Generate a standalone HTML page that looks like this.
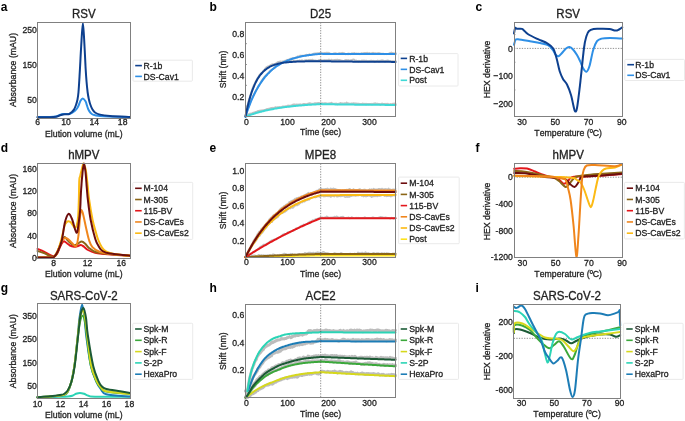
<!DOCTYPE html><html><head><meta charset="utf-8"><style>html,body{margin:0;padding:0;background:#fff;overflow:hidden}svg{display:block;will-change:transform}text{font-kerning:none;font-feature-settings:"kern" 0}</style></head><body><svg width="685" height="421" viewBox="0 0 685 421" font-family="Liberation Sans, sans-serif">
<defs><filter id="bl" x="0" y="0" width="685" height="421" filterUnits="userSpaceOnUse"><feGaussianBlur stdDeviation="0.3"/></filter></defs>
<rect width="685" height="421" fill="#fff"/>
<g filter="url(#bl)">
<g>
<path d="M37.50,117.10 C39.58,117.08 46.92,117.10 50.00,117.00 C53.08,116.90 54.42,116.82 56.00,116.50 C57.58,116.18 58.28,115.52 59.50,115.10 C60.72,114.68 62.13,114.18 63.30,114.00 C64.47,113.82 65.52,114.00 66.50,114.00 C67.48,114.00 68.28,114.20 69.20,114.00 C70.12,113.80 71.03,113.33 72.00,112.80 C72.97,112.27 74.17,111.52 75.00,110.80 C75.83,110.08 76.40,109.38 77.00,108.50 C77.60,107.62 78.02,106.78 78.60,105.50 C79.18,104.22 79.80,101.98 80.50,100.80 C81.20,99.62 81.97,98.33 82.80,98.40 C83.63,98.47 84.83,100.10 85.50,101.20 C86.17,102.30 86.30,103.57 86.80,105.00 C87.30,106.43 87.88,108.50 88.50,109.80 C89.12,111.10 89.75,112.00 90.50,112.80 C91.25,113.60 91.42,114.07 93.00,114.60 C94.58,115.13 93.83,115.58 100.00,116.00 C106.17,116.42 125.00,116.92 130.00,117.10" fill="none" stroke="#2d8fe6" stroke-width="2.0" stroke-linejoin="round" stroke-linecap="round" opacity="1"/>
<path d="M37.50,117.30 C39.58,117.28 46.92,117.28 50.00,117.20 C53.08,117.12 54.42,117.08 56.00,116.80 C57.58,116.52 58.28,115.90 59.50,115.50 C60.72,115.10 62.13,114.60 63.30,114.40 C64.47,114.20 65.52,114.37 66.50,114.30 C67.48,114.23 68.37,114.33 69.20,114.00 C70.03,113.67 70.73,112.98 71.50,112.30 C72.27,111.62 73.08,111.03 73.80,109.90 C74.52,108.77 75.18,107.23 75.80,105.50 C76.42,103.77 77.05,101.75 77.50,99.50 C77.95,97.25 78.20,95.25 78.50,92.00 C78.80,88.75 79.05,84.00 79.30,80.00 C79.55,76.00 79.68,73.67 80.00,68.00 C80.32,62.33 80.72,53.50 81.20,46.00 C81.68,38.50 82.35,23.00 82.90,23.00 C83.45,23.00 84.05,38.50 84.50,46.00 C84.95,53.50 85.27,62.17 85.60,68.00 C85.93,73.83 86.17,77.00 86.50,81.00 C86.83,85.00 87.22,89.00 87.60,92.00 C87.98,95.00 88.35,96.92 88.80,99.00 C89.25,101.08 89.68,102.75 90.30,104.50 C90.92,106.25 91.72,108.17 92.50,109.50 C93.28,110.83 93.75,111.65 95.00,112.50 C96.25,113.35 97.50,114.03 100.00,114.60 C102.50,115.17 105.00,115.52 110.00,115.90 C115.00,116.28 126.67,116.73 130.00,116.90" fill="none" stroke="#0f408f" stroke-width="2.0" stroke-linejoin="round" stroke-linecap="round" opacity="1"/>
<rect x="37.50" y="22.50" width="93.00" height="96.00" fill="none" stroke="#808080" stroke-width="1"/>
<line x1="37.50" y1="100.30" x2="37.50" y2="100.30" stroke="#808080" stroke-width="0.8"/>
<line x1="37.50" y1="65.30" x2="37.50" y2="65.30" stroke="#808080" stroke-width="0.8"/>
<line x1="37.50" y1="30.30" x2="37.50" y2="30.30" stroke="#808080" stroke-width="0.8"/>
<text transform="translate(36.80,103.40) scale(0.92,1)" font-size="9.4" text-anchor="end" font-weight="normal" fill="#222" stroke="#222" stroke-width="0.3" >50</text>
<text transform="translate(36.80,68.40) scale(0.92,1)" font-size="9.4" text-anchor="end" font-weight="normal" fill="#222" stroke="#222" stroke-width="0.3" >150</text>
<text transform="translate(36.80,33.40) scale(0.92,1)" font-size="9.4" text-anchor="end" font-weight="normal" fill="#222" stroke="#222" stroke-width="0.3" >250</text>
<text transform="translate(37.70,125.30) scale(0.92,1)" font-size="9.4" text-anchor="middle" font-weight="normal" fill="#222" stroke="#222" stroke-width="0.3" >6</text>
<text transform="translate(66.02,125.30) scale(0.92,1)" font-size="9.4" text-anchor="middle" font-weight="normal" fill="#222" stroke="#222" stroke-width="0.3" >10</text>
<text transform="translate(94.34,125.30) scale(0.92,1)" font-size="9.4" text-anchor="middle" font-weight="normal" fill="#222" stroke="#222" stroke-width="0.3" >14</text>
<text transform="translate(122.66,125.30) scale(0.92,1)" font-size="9.4" text-anchor="middle" font-weight="normal" fill="#222" stroke="#222" stroke-width="0.3" >18</text>
<text transform="translate(83.80,136.80) scale(0.92,1)" font-size="9.5" text-anchor="middle" font-weight="normal" fill="#222" stroke="#222" stroke-width="0.3" >Elution volume (mL)</text>
<text font-size="9.5" text-anchor="middle" fill="#222" stroke="#222" stroke-width="0.3" transform="translate(16.40,70.00) rotate(-90) scale(0.92,1)">Absorbance (mAU)</text>
<text transform="translate(83.80,17.80) scale(0.96,1)" font-size="12" text-anchor="middle" font-weight="normal" fill="#222" stroke="#222" stroke-width="0.3" >RSV</text>
<text transform="translate(0.80,10.90) scale(1.0,1)" font-size="12" text-anchor="start" font-weight="bold" fill="#000" >a</text>
<rect x="133.00" y="60.20" width="59.40" height="21.00" rx="0.8" fill="#fff" stroke="#e4e4e4" stroke-width="0.8"/>
<line x1="135.20" y1="65.60" x2="141.90" y2="65.60" stroke="#0f408f" stroke-width="1.6"/>
<text transform="translate(143.60,68.75) scale(0.94,1)" font-size="9.25" text-anchor="start" font-weight="normal" fill="#222" stroke="#222" stroke-width="0.3" >R-1b</text>
<line x1="135.20" y1="76.40" x2="141.90" y2="76.40" stroke="#2d8fe6" stroke-width="1.6"/>
<text transform="translate(143.60,79.55) scale(0.94,1)" font-size="9.25" text-anchor="start" font-weight="normal" fill="#222" stroke="#222" stroke-width="0.3" >DS-Cav1</text>
</g>
<path d="M245.50,115.39 L246.00,112.93 L246.50,110.69 L247.00,108.16 L247.50,105.66 L248.00,103.18 L248.50,101.67 L249.00,99.29 L249.50,98.09 L250.00,96.19 L250.50,94.72 L251.00,93.50 L251.50,91.60 L252.00,90.41 L252.50,88.72 L253.00,87.45 L253.50,86.09 L254.00,84.70 L254.50,83.87 L255.00,82.77 L255.50,81.60 L256.00,81.07 L256.50,79.88 L257.00,79.19 L257.50,78.18 L258.00,77.57 L258.51,77.01 L259.01,75.83 L259.51,74.92 L260.01,74.43 L260.51,73.90 L261.01,73.53 L261.51,72.86 L262.01,72.73 L262.51,71.93 L263.01,71.08 L263.51,70.85 L264.01,70.19 L264.51,69.82 L265.01,68.94 L265.51,68.16 L266.01,67.91 L266.51,67.13 L267.01,67.19 L267.51,66.48 L268.01,66.58 L268.51,66.60 L269.01,65.96 L269.51,65.92 L270.01,65.63 L270.51,65.21 L271.01,64.97 L271.51,64.75 L272.01,64.33 L272.51,64.21 L273.01,64.47 L273.51,64.27 L274.01,63.91 L274.51,64.38 L275.01,64.41 L275.51,63.86 L276.01,63.51 L276.51,62.76 L277.01,62.54 L277.51,62.33 L278.01,62.01 L278.51,61.88 L279.01,61.90 L279.51,61.66 L280.01,61.64 L280.51,61.47 L281.01,62.22 L281.51,61.88 L282.01,61.37 L282.51,61.37 L283.01,61.55 L283.52,61.62 L284.02,61.22 L284.52,61.18 L285.02,61.71 L285.52,61.77 L286.02,61.35 L286.52,61.31 L287.02,61.34 L287.52,60.91 L288.02,61.54 L288.52,61.63 L289.02,61.72 L289.52,61.30 L290.02,60.87 L290.52,60.65 L291.02,60.74 L291.52,60.95 L292.02,61.51 L292.52,61.38 L293.02,60.99 L293.52,60.70 L294.02,61.14 L294.52,61.09 L295.02,61.29 L295.52,60.85 L296.02,61.16 L296.52,61.09 L297.02,60.95 L297.52,60.81 L298.02,60.89 L298.52,61.05 L299.02,60.72 L299.52,60.40 L300.02,61.01 L300.52,60.73 L301.02,60.94 L301.52,60.71 L302.02,60.14 L302.52,60.81 L303.02,60.93 L303.52,60.81 L304.02,60.63 L304.52,60.44 L305.02,60.41 L305.52,60.17 L306.02,60.24 L306.52,59.97 L307.02,60.35 L307.52,60.36 L308.02,60.20 L308.53,59.98 L309.03,60.06 L309.53,60.10 L310.03,59.79 L310.53,60.10 L311.03,60.02 L311.53,60.27 L312.03,59.94 L312.53,59.70 L313.03,60.11 L313.53,60.34 L314.03,60.47 L314.53,60.54 L315.03,60.61 L315.53,60.46 L316.03,60.64 L316.53,60.72 L317.03,60.64 L317.53,60.96 L318.03,60.66 L318.53,60.47 L319.03,60.04 L319.53,60.02 L320.03,60.41 L320.53,60.10 L321.03,59.97 L321.53,60.72 L322.03,60.51 L322.53,60.21 L323.03,60.76 L323.53,60.28 L324.03,60.26 L324.53,60.06 L325.03,60.09 L325.53,60.37 L326.03,60.00 L326.53,60.25 L327.03,60.27 L327.53,60.54 L328.03,59.93 L328.53,59.99 L329.03,59.61 L329.53,60.13 L330.03,60.10 L330.53,60.28 L331.03,60.30 L331.53,59.74 L332.03,60.18 L332.53,60.24 L333.03,60.36 L333.54,60.19 L334.04,60.01 L334.54,59.84 L335.04,60.33 L335.54,59.83 L336.04,60.02 L336.54,59.80 L337.04,59.65 L337.54,59.74 L338.04,60.05 L338.54,60.08 L339.04,59.96 L339.54,59.87 L340.04,60.42 L340.54,60.22 L341.04,60.38 L341.54,60.78 L342.04,60.96 L342.54,60.69 L343.04,61.07 L343.54,60.85 L344.04,60.88 L344.54,60.63 L345.04,60.21 L345.54,60.32 L346.04,59.94 L346.54,60.15 L347.04,60.45 L347.54,60.14 L348.04,60.21 L348.54,60.07 L349.04,60.32 L349.54,60.54 L350.04,60.64 L350.54,60.25 L351.04,60.02 L351.54,60.20 L352.04,60.11 L352.54,59.78 L353.04,59.75 L353.54,59.43 L354.04,59.63 L354.54,60.05 L355.04,60.43 L355.54,60.78 L356.04,60.45 L356.54,60.72 L357.04,61.11 L357.54,60.87 L358.04,61.03 L358.55,61.26 L359.05,60.80 L359.55,60.98 L360.05,61.18 L360.55,61.24 L361.05,61.21 L361.55,60.61 L362.05,60.54 L362.55,60.58 L363.05,60.59 L363.55,60.77 L364.05,60.42 L364.55,61.06 L365.05,60.93 L365.55,60.76 L366.05,60.99 L366.55,60.66 L367.05,60.80 L367.55,61.36 L368.05,60.98 L368.55,61.10 L369.05,61.21 L369.55,60.96 L370.05,60.76 L370.55,60.94 L371.05,60.80 L371.55,60.61 L372.05,60.99 L372.55,60.89 L373.05,60.97 L373.55,60.74 L374.05,61.04 L374.55,61.70 L375.05,61.01 L375.55,61.47 L376.05,61.00 L376.55,61.14 L377.05,60.75 L377.55,60.53 L378.05,60.69 L378.55,61.12 L379.05,61.44 L379.55,61.29 L380.05,60.78 L380.55,60.69 L381.05,60.60 L381.55,60.43 L382.05,60.67 L382.55,60.38 L383.05,60.40 L383.56,61.08 L384.06,61.11 L384.56,61.03 L385.06,61.44 L385.56,61.17 L386.06,60.77 L386.56,60.93 L387.06,60.89 L387.56,60.42 L388.06,60.47 L388.56,60.87 L389.06,61.12 L389.56,61.27 L390.06,61.35 L390.56,61.15 L391.06,61.44 L391.56,61.62 L392.06,61.04 L392.56,61.30 L393.06,61.30 L393.56,61.31 L394.06,61.32 L394.56,61.36 L395.06,61.35 L395.56,60.92" fill="none" stroke="#c2c2c2" stroke-width="1.9" stroke-linejoin="round" stroke-linecap="round" opacity="1"/>
<path d="M245.50,116.13 L246.00,114.24 L246.50,113.45 L247.00,111.44 L247.50,109.75 L248.00,108.26 L248.50,106.85 L249.00,105.97 L249.50,104.61 L250.00,103.35 L250.50,101.93 L251.00,100.42 L251.50,99.54 L252.00,98.66 L252.50,97.54 L253.00,96.26 L253.50,95.22 L254.00,94.70 L254.50,93.41 L255.00,92.39 L255.50,91.53 L256.00,90.31 L256.50,89.76 L257.00,88.99 L257.50,88.01 L258.00,86.72 L258.51,86.14 L259.01,85.59 L259.51,84.82 L260.01,83.80 L260.51,82.79 L261.01,81.95 L261.51,81.02 L262.01,80.05 L262.51,79.75 L263.01,78.51 L263.51,78.22 L264.01,77.36 L264.51,76.74 L265.01,76.28 L265.51,76.14 L266.01,75.69 L266.51,74.76 L267.01,74.74 L267.51,73.62 L268.01,73.41 L268.51,72.59 L269.01,72.55 L269.51,71.35 L270.01,70.99 L270.51,70.55 L271.01,70.58 L271.51,69.81 L272.01,69.71 L272.51,69.36 L273.01,68.94 L273.51,68.45 L274.01,67.62 L274.51,67.16 L275.01,67.21 L275.51,66.31 L276.01,66.13 L276.51,65.11 L277.01,64.77 L277.51,65.11 L278.01,65.07 L278.51,64.68 L279.01,64.46 L279.51,63.83 L280.01,63.81 L280.51,63.37 L281.01,62.67 L281.51,62.47 L282.01,62.43 L282.51,62.51 L283.01,62.42 L283.52,62.13 L284.02,61.53 L284.52,61.46 L285.02,60.73 L285.52,60.64 L286.02,60.78 L286.52,60.32 L287.02,59.78 L287.52,60.00 L288.02,60.29 L288.52,59.59 L289.02,59.87 L289.52,59.50 L290.02,58.92 L290.52,58.68 L291.02,58.78 L291.52,58.57 L292.02,58.42 L292.52,58.81 L293.02,58.12 L293.52,58.01 L294.02,57.95 L294.52,58.23 L295.02,58.22 L295.52,57.79 L296.02,57.44 L296.52,57.27 L297.02,57.22 L297.52,56.52 L298.02,56.36 L298.52,56.43 L299.02,56.65 L299.52,55.89 L300.02,55.78 L300.52,55.87 L301.02,55.61 L301.52,55.80 L302.02,55.99 L302.52,55.60 L303.02,55.80 L303.52,55.73 L304.02,55.64 L304.52,55.33 L305.02,55.34 L305.52,55.02 L306.02,55.24 L306.52,54.77 L307.02,55.14 L307.52,55.05 L308.02,55.27 L308.53,55.40 L309.03,54.59 L309.53,54.19 L310.03,54.69 L310.53,54.75 L311.03,54.89 L311.53,54.73 L312.03,54.53 L312.53,54.71 L313.03,54.23 L313.53,53.80 L314.03,53.82 L314.53,53.69 L315.03,53.39 L315.53,53.46 L316.03,53.33 L316.53,53.72 L317.03,53.14 L317.53,53.33 L318.03,53.19 L318.53,53.29 L319.03,53.03 L319.53,53.29 L320.03,53.00 L320.53,52.87 L321.03,53.52 L321.53,53.02 L322.03,53.21 L322.53,53.27 L323.03,53.24 L323.53,53.28 L324.03,52.92 L324.53,52.87 L325.03,53.27 L325.53,52.91 L326.03,52.87 L326.53,52.63 L327.03,53.13 L327.53,52.73 L328.03,53.33 L328.53,52.74 L329.03,53.59 L329.53,53.09 L330.03,53.57 L330.53,53.92 L331.03,53.80 L331.53,53.91 L332.03,54.06 L332.53,53.83 L333.03,53.65 L333.54,53.60 L334.04,53.23 L334.54,53.75 L335.04,53.24 L335.54,53.17 L336.04,53.44 L336.54,53.71 L337.04,53.61 L337.54,53.66 L338.04,53.62 L338.54,53.45 L339.04,53.23 L339.54,53.07 L340.04,53.59 L340.54,53.24 L341.04,53.19 L341.54,53.14 L342.04,52.93 L342.54,52.82 L343.04,53.01 L343.54,53.59 L344.04,53.21 L344.54,53.40 L345.04,53.56 L345.54,54.21 L346.04,54.18 L346.54,53.96 L347.04,53.90 L347.54,53.71 L348.04,54.24 L348.54,53.53 L349.04,53.57 L349.54,53.84 L350.04,53.88 L350.54,54.19 L351.04,53.55 L351.54,53.55 L352.04,53.14 L352.54,53.37 L353.04,53.54 L353.54,53.29 L354.04,52.97 L354.54,53.08 L355.04,53.50 L355.54,53.74 L356.04,53.54 L356.54,53.34 L357.04,53.49 L357.54,53.97 L358.04,53.90 L358.55,53.49 L359.05,53.55 L359.55,53.82 L360.05,54.22 L360.55,54.02 L361.05,53.45 L361.55,53.18 L362.05,53.44 L362.55,53.72 L363.05,53.11 L363.55,53.15 L364.05,53.03 L364.55,52.86 L365.05,52.92 L365.55,52.90 L366.05,53.23 L366.55,53.30 L367.05,52.79 L367.55,52.90 L368.05,53.37 L368.55,53.09 L369.05,53.04 L369.55,53.03 L370.05,53.27 L370.55,53.76 L371.05,53.67 L371.55,53.19 L372.05,53.04 L372.55,53.12 L373.05,52.79 L373.55,53.01 L374.05,53.14 L374.55,53.26 L375.05,53.28 L375.55,53.24 L376.05,53.31 L376.55,53.49 L377.05,53.27 L377.55,53.32 L378.05,53.52 L378.55,53.15 L379.05,52.97 L379.55,53.32 L380.05,53.58 L380.55,53.43 L381.05,53.56 L381.55,53.79 L382.05,53.66 L382.55,53.73 L383.05,53.81 L383.56,53.67 L384.06,54.17 L384.56,53.92 L385.06,54.08 L385.56,54.11 L386.06,54.01 L386.56,54.21 L387.06,54.04 L387.56,54.12 L388.06,53.94 L388.56,53.71 L389.06,53.64 L389.56,53.52 L390.06,52.86 L390.56,53.19 L391.06,52.78 L391.56,52.53 L392.06,53.14 L392.56,53.43 L393.06,53.12 L393.56,53.26 L394.06,53.61 L394.56,53.35 L395.06,53.75 L395.56,53.10" fill="none" stroke="#c2c2c2" stroke-width="1.9" stroke-linejoin="round" stroke-linecap="round" opacity="1"/>
<path d="M245.50,115.19 L246.00,115.70 L246.50,115.60 L247.00,115.18 L247.50,114.59 L248.00,114.67 L248.50,114.47 L249.00,113.90 L249.50,113.90 L250.00,113.51 L250.50,113.84 L251.00,113.97 L251.50,113.34 L252.00,113.36 L252.50,113.10 L253.00,112.74 L253.50,112.78 L254.00,112.86 L254.50,112.33 L255.00,112.80 L255.50,112.03 L256.00,112.10 L256.50,111.62 L257.00,111.63 L257.50,111.48 L258.00,110.89 L258.51,111.14 L259.01,110.88 L259.51,110.65 L260.01,110.78 L260.51,110.58 L261.01,110.45 L261.51,110.46 L262.01,110.55 L262.51,110.30 L263.01,110.57 L263.51,110.52 L264.01,109.96 L264.51,110.03 L265.01,110.03 L265.51,109.61 L266.01,109.55 L266.51,109.53 L267.01,109.05 L267.51,109.25 L268.01,108.84 L268.51,108.92 L269.01,108.64 L269.51,109.01 L270.01,108.30 L270.51,108.17 L271.01,108.07 L271.51,107.93 L272.01,108.51 L272.51,108.27 L273.01,107.64 L273.51,108.18 L274.01,108.05 L274.51,107.85 L275.01,107.28 L275.51,107.10 L276.01,107.43 L276.51,107.38 L277.01,107.39 L277.51,107.16 L278.01,107.14 L278.51,107.21 L279.01,107.35 L279.51,106.91 L280.01,107.34 L280.51,107.31 L281.01,107.39 L281.51,107.19 L282.01,107.00 L282.51,106.49 L283.01,106.78 L283.52,106.51 L284.02,106.47 L284.52,106.43 L285.02,106.73 L285.52,106.26 L286.02,106.23 L286.52,106.45 L287.02,105.81 L287.52,105.70 L288.02,105.86 L288.52,105.57 L289.02,105.67 L289.52,105.61 L290.02,105.74 L290.52,105.83 L291.02,105.44 L291.52,105.39 L292.02,105.25 L292.52,104.67 L293.02,104.74 L293.52,104.47 L294.02,104.67 L294.52,104.40 L295.02,104.55 L295.52,104.80 L296.02,104.77 L296.52,104.40 L297.02,104.49 L297.52,104.68 L298.02,104.61 L298.52,104.65 L299.02,104.40 L299.52,104.73 L300.02,104.40 L300.52,104.31 L301.02,104.62 L301.52,104.72 L302.02,104.52 L302.52,104.34 L303.02,104.24 L303.52,103.84 L304.02,103.86 L304.52,103.94 L305.02,103.93 L305.52,104.48 L306.02,104.11 L306.52,104.35 L307.02,104.08 L307.52,103.71 L308.02,103.87 L308.53,103.62 L309.03,103.30 L309.53,103.51 L310.03,103.13 L310.53,103.82 L311.03,103.65 L311.53,103.69 L312.03,103.87 L312.53,104.00 L313.03,103.66 L313.53,103.69 L314.03,103.71 L314.53,103.39 L315.03,103.12 L315.53,103.08 L316.03,103.10 L316.53,103.29 L317.03,103.52 L317.53,103.17 L318.03,103.04 L318.53,103.34 L319.03,103.03 L319.53,103.16 L320.03,103.51 L320.53,103.11 L321.03,103.45 L321.53,103.38 L322.03,103.14 L322.53,103.19 L323.03,103.63 L323.53,103.60 L324.03,103.28 L324.53,103.47 L325.03,103.09 L325.53,103.15 L326.03,103.27 L326.53,103.54 L327.03,103.43 L327.53,103.78 L328.03,103.76 L328.53,103.35 L329.03,103.35 L329.53,103.57 L330.03,103.24 L330.53,103.46 L331.03,103.03 L331.53,102.70 L332.03,103.33 L332.53,103.57 L333.03,103.76 L333.54,103.80 L334.04,103.86 L334.54,103.71 L335.04,103.88 L335.54,103.78 L336.04,103.44 L336.54,104.07 L337.04,103.81 L337.54,104.19 L338.04,103.84 L338.54,103.72 L339.04,103.56 L339.54,103.93 L340.04,103.41 L340.54,102.90 L341.04,103.45 L341.54,103.70 L342.04,103.32 L342.54,103.73 L343.04,103.82 L343.54,103.51 L344.04,103.65 L344.54,103.28 L345.04,103.34 L345.54,103.33 L346.04,103.12 L346.54,102.55 L347.04,102.99 L347.54,103.22 L348.04,103.31 L348.54,103.60 L349.04,103.38 L349.54,103.83 L350.04,103.92 L350.54,103.78 L351.04,103.44 L351.54,103.47 L352.04,103.44 L352.54,103.68 L353.04,103.57 L353.54,103.19 L354.04,103.45 L354.54,103.54 L355.04,103.43 L355.54,103.36 L356.04,103.42 L356.54,103.60 L357.04,103.96 L357.54,103.73 L358.04,103.80 L358.55,103.91 L359.05,103.69 L359.55,104.16 L360.05,103.91 L360.55,104.14 L361.05,103.92 L361.55,104.11 L362.05,103.96 L362.55,103.57 L363.05,103.72 L363.55,104.13 L364.05,103.78 L364.55,104.06 L365.05,103.78 L365.55,104.29 L366.05,104.42 L366.55,103.80 L367.05,104.19 L367.55,103.94 L368.05,103.95 L368.55,104.22 L369.05,103.89 L369.55,104.00 L370.05,104.03 L370.55,103.92 L371.05,103.81 L371.55,104.22 L372.05,104.25 L372.55,104.20 L373.05,103.73 L373.55,103.80 L374.05,103.68 L374.55,103.65 L375.05,103.21 L375.55,103.82 L376.05,103.71 L376.55,103.69 L377.05,103.87 L377.55,103.70 L378.05,103.93 L378.55,103.95 L379.05,103.87 L379.55,104.13 L380.05,104.57 L380.55,104.80 L381.05,104.01 L381.55,103.83 L382.05,103.48 L382.55,104.02 L383.05,104.06 L383.56,103.88 L384.06,104.10 L384.56,104.12 L385.06,103.77 L385.56,104.13 L386.06,103.95 L386.56,103.79 L387.06,104.56 L387.56,103.79 L388.06,103.79 L388.56,104.39 L389.06,104.11 L389.56,104.59 L390.06,104.75 L390.56,103.90 L391.06,104.49 L391.56,104.21 L392.06,104.46 L392.56,103.90 L393.06,103.64 L393.56,103.69 L394.06,103.53 L394.56,103.64 L395.06,103.91 L395.56,104.00" fill="none" stroke="#c2c2c2" stroke-width="1.9" stroke-linejoin="round" stroke-linecap="round" opacity="1"/>
<path d="M245.50,116.60 C245.78,116.49 246.61,116.17 247.17,115.96 C247.72,115.76 248.28,115.56 248.83,115.36 C249.39,115.16 249.95,114.97 250.50,114.78 C251.06,114.59 251.61,114.40 252.17,114.22 C252.73,114.04 253.28,113.86 253.84,113.69 C254.39,113.52 254.95,113.35 255.50,113.19 C256.06,113.02 256.62,112.86 257.17,112.70 C257.73,112.54 258.28,112.39 258.84,112.24 C259.39,112.09 259.95,111.94 260.51,111.80 C261.06,111.65 261.62,111.51 262.17,111.37 C262.73,111.23 263.28,111.10 263.84,110.97 C264.40,110.84 264.95,110.71 265.51,110.58 C266.06,110.46 266.62,110.33 267.18,110.21 C267.73,110.09 268.29,109.97 268.84,109.86 C269.40,109.74 269.95,109.63 270.51,109.52 C271.07,109.41 271.62,109.30 272.18,109.20 C272.73,109.09 273.29,108.99 273.84,108.89 C274.40,108.79 274.96,108.69 275.51,108.60 C276.07,108.50 276.62,108.41 277.18,108.31 C277.74,108.22 278.29,108.13 278.85,108.05 C279.40,107.96 279.96,107.87 280.51,107.79 C281.07,107.70 281.63,107.62 282.18,107.54 C282.74,107.46 283.29,107.38 283.85,107.31 C284.40,107.23 284.96,107.16 285.52,107.08 C286.07,107.01 286.63,106.94 287.18,106.87 C287.74,106.80 288.29,106.73 288.85,106.66 C289.41,106.59 289.96,106.53 290.52,106.47 C291.07,106.40 291.63,106.34 292.19,106.28 C292.74,106.22 293.30,106.16 293.85,106.10 C294.41,106.04 294.96,105.98 295.52,105.93 C296.08,105.87 296.63,105.82 297.19,105.76 C297.74,105.71 298.30,105.66 298.85,105.61 C299.41,105.56 299.97,105.51 300.52,105.46 C301.08,105.41 301.63,105.36 302.19,105.31 C302.75,105.27 303.30,105.22 303.86,105.18 C304.41,105.13 304.97,105.09 305.52,105.05 C306.08,105.00 306.64,104.96 307.19,104.92 C307.75,104.88 308.30,104.84 308.86,104.80 C309.41,104.76 309.97,104.73 310.53,104.69 C311.08,104.65 311.64,104.62 312.19,104.58 C312.75,104.54 313.30,104.51 313.86,104.48 C314.42,104.44 314.97,104.41 315.53,104.38 C316.08,104.34 316.64,104.31 317.20,104.28 C317.75,104.25 318.31,104.22 318.86,104.19 C319.42,104.16 319.97,104.11 320.53,104.10 C321.09,104.09 321.64,104.13 322.20,104.14 C322.75,104.15 323.31,104.16 323.86,104.17 C324.42,104.18 324.98,104.19 325.53,104.20 C326.09,104.22 326.64,104.23 327.20,104.24 C327.76,104.25 328.31,104.26 328.87,104.27 C329.42,104.28 329.98,104.29 330.53,104.30 C331.09,104.31 331.65,104.32 332.20,104.33 C332.76,104.34 333.31,104.34 333.87,104.35 C334.42,104.36 334.98,104.37 335.54,104.38 C336.09,104.39 336.65,104.40 337.20,104.41 C337.76,104.41 338.31,104.42 338.87,104.43 C339.43,104.44 339.98,104.45 340.54,104.46 C341.09,104.46 341.65,104.47 342.21,104.48 C342.76,104.49 343.32,104.49 343.87,104.50 C344.43,104.51 344.98,104.52 345.54,104.52 C346.10,104.53 346.65,104.54 347.21,104.55 C347.76,104.55 348.32,104.56 348.87,104.57 C349.43,104.57 349.99,104.58 350.54,104.59 C351.10,104.59 351.65,104.60 352.21,104.60 C352.77,104.61 353.32,104.62 353.88,104.62 C354.43,104.63 354.99,104.63 355.54,104.64 C356.10,104.65 356.66,104.65 357.21,104.66 C357.77,104.66 358.32,104.67 358.88,104.67 C359.43,104.68 359.99,104.69 360.55,104.69 C361.10,104.70 361.66,104.70 362.21,104.71 C362.77,104.71 363.32,104.72 363.88,104.72 C364.44,104.73 364.99,104.73 365.55,104.74 C366.10,104.74 366.66,104.75 367.22,104.75 C367.77,104.76 368.33,104.76 368.88,104.76 C369.44,104.77 369.99,104.77 370.55,104.78 C371.11,104.78 371.66,104.79 372.22,104.79 C372.77,104.79 373.33,104.80 373.88,104.80 C374.44,104.81 375.00,104.81 375.55,104.81 C376.11,104.82 376.66,104.82 377.22,104.83 C377.78,104.83 378.33,104.83 378.89,104.84 C379.44,104.84 380.00,104.84 380.55,104.85 C381.11,104.85 381.67,104.85 382.22,104.86 C382.78,104.86 383.33,104.86 383.89,104.87 C384.44,104.87 385.00,104.87 385.56,104.88 C386.11,104.88 386.67,104.88 387.22,104.89 C387.78,104.89 388.33,104.89 388.89,104.90 C389.45,104.90 390.00,104.90 390.56,104.90 C391.11,104.91 391.67,104.91 392.23,104.91 C392.78,104.92 393.34,104.92 393.89,104.92 C394.45,104.92 395.28,104.93 395.56,104.93" fill="none" stroke="#3fd9d6" stroke-width="2.0" stroke-linejoin="round" stroke-linecap="round" opacity="1"/>
<path d="M245.50,116.60 C245.71,115.96 246.33,114.02 246.75,112.79 C247.17,111.56 247.58,110.36 248.00,109.20 C248.42,108.04 248.83,106.92 249.25,105.83 C249.67,104.74 250.09,103.68 250.50,102.66 C250.92,101.63 251.34,100.64 251.75,99.67 C252.17,98.71 252.59,97.77 253.00,96.86 C253.42,95.95 253.84,95.08 254.25,94.22 C254.67,93.37 255.09,92.54 255.50,91.73 C255.92,90.93 256.34,90.15 256.75,89.39 C257.17,88.64 257.59,87.91 258.00,87.19 C258.42,86.48 258.84,85.79 259.26,85.12 C259.67,84.45 260.09,83.81 260.51,83.18 C260.92,82.55 261.34,81.94 261.76,81.34 C262.17,80.75 262.59,80.18 263.01,79.62 C263.42,79.06 263.84,78.52 264.26,78.00 C264.67,77.47 265.09,76.96 265.51,76.47 C265.92,75.98 266.34,75.50 266.76,75.03 C267.18,74.57 267.59,74.12 268.01,73.68 C268.43,73.25 268.84,72.82 269.26,72.41 C269.68,72.00 270.09,71.60 270.51,71.22 C270.93,70.83 271.34,70.45 271.76,70.09 C272.18,69.73 272.59,69.37 273.01,69.03 C273.43,68.69 273.84,68.36 274.26,68.04 C274.68,67.71 275.10,67.40 275.51,67.10 C275.93,66.80 276.35,66.50 276.76,66.22 C277.18,65.93 277.60,65.66 278.01,65.39 C278.43,65.12 278.85,64.86 279.26,64.61 C279.68,64.36 280.10,64.11 280.51,63.87 C280.93,63.64 281.35,63.41 281.76,63.18 C282.18,62.96 282.60,62.74 283.01,62.53 C283.43,62.32 283.85,62.12 284.27,61.92 C284.68,61.73 285.10,61.53 285.52,61.35 C285.93,61.16 286.35,60.98 286.77,60.81 C287.18,60.63 287.60,60.46 288.02,60.30 C288.43,60.13 288.85,59.97 289.27,59.82 C289.68,59.66 290.10,59.51 290.52,59.37 C290.93,59.22 291.35,59.08 291.77,58.94 C292.19,58.81 292.60,58.67 293.02,58.55 C293.44,58.42 293.85,58.29 294.27,58.17 C294.69,58.05 295.10,57.93 295.52,57.82 C295.94,57.70 296.35,57.59 296.77,57.49 C297.19,57.38 297.60,57.27 298.02,57.17 C298.44,57.07 298.85,56.97 299.27,56.88 C299.69,56.78 300.11,56.69 300.52,56.60 C300.94,56.51 301.36,56.43 301.77,56.34 C302.19,56.26 302.61,56.18 303.02,56.10 C303.44,56.02 303.86,55.94 304.27,55.87 C304.69,55.79 305.11,55.72 305.52,55.65 C305.94,55.58 306.36,55.51 306.77,55.45 C307.19,55.38 307.61,55.32 308.02,55.25 C308.44,55.19 308.86,55.13 309.28,55.07 C309.69,55.02 310.11,54.96 310.53,54.90 C310.94,54.85 311.36,54.80 311.78,54.74 C312.19,54.69 312.61,54.64 313.03,54.59 C313.44,54.55 313.86,54.50 314.28,54.45 C314.69,54.41 315.11,54.36 315.53,54.32 C315.94,54.28 316.36,54.23 316.78,54.19 C317.20,54.15 317.61,54.11 318.03,54.08 C318.45,54.04 318.86,54.00 319.28,53.97 C319.70,53.93 320.11,53.88 320.53,53.86 C320.95,53.85 321.36,53.87 321.78,53.87 C322.20,53.87 322.61,53.87 323.03,53.88 C323.45,53.88 323.86,53.88 324.28,53.88 C324.70,53.88 325.12,53.89 325.53,53.89 C325.95,53.89 326.37,53.89 326.78,53.89 C327.20,53.90 327.62,53.90 328.03,53.90 C328.45,53.90 328.87,53.91 329.28,53.91 C329.70,53.91 330.12,53.91 330.53,53.91 C330.95,53.91 331.37,53.92 331.78,53.92 C332.20,53.92 332.62,53.92 333.03,53.92 C333.45,53.93 333.87,53.93 334.29,53.93 C334.70,53.93 335.12,53.93 335.54,53.93 C335.95,53.94 336.37,53.94 336.79,53.94 C337.20,53.94 337.62,53.94 338.04,53.95 C338.45,53.95 338.87,53.95 339.29,53.95 C339.70,53.95 340.12,53.95 340.54,53.95 C340.95,53.96 341.37,53.96 341.79,53.96 C342.21,53.96 342.62,53.96 343.04,53.96 C343.46,53.97 343.87,53.97 344.29,53.97 C344.71,53.97 345.12,53.97 345.54,53.97 C345.96,53.97 346.37,53.98 346.79,53.98 C347.21,53.98 347.62,53.98 348.04,53.98 C348.46,53.98 348.87,53.98 349.29,53.99 C349.71,53.99 350.13,53.99 350.54,53.99 C350.96,53.99 351.38,53.99 351.79,53.99 C352.21,53.99 352.63,54.00 353.04,54.00 C353.46,54.00 353.88,54.00 354.29,54.00 C354.71,54.00 355.13,54.00 355.54,54.00 C355.96,54.00 356.38,54.01 356.79,54.01 C357.21,54.01 357.63,54.01 358.04,54.01 C358.46,54.01 358.88,54.01 359.30,54.01 C359.71,54.01 360.13,54.02 360.55,54.02 C360.96,54.02 361.38,54.02 361.80,54.02 C362.21,54.02 362.63,54.02 363.05,54.02 C363.46,54.02 363.88,54.03 364.30,54.03 C364.71,54.03 365.13,54.03 365.55,54.03 C365.96,54.03 366.38,54.03 366.80,54.03 C367.22,54.03 367.63,54.03 368.05,54.03 C368.47,54.04 368.88,54.04 369.30,54.04 C369.72,54.04 370.13,54.04 370.55,54.04 C370.97,54.04 371.38,54.04 371.80,54.04 C372.22,54.04 372.63,54.04 373.05,54.04 C373.47,54.05 373.88,54.05 374.30,54.05 C374.72,54.05 375.14,54.05 375.55,54.05 C375.97,54.05 376.39,54.05 376.80,54.05 C377.22,54.05 377.64,54.05 378.05,54.05 C378.47,54.05 378.89,54.06 379.30,54.06 C379.72,54.06 380.14,54.06 380.55,54.06 C380.97,54.06 381.39,54.06 381.80,54.06 C382.22,54.06 382.64,54.06 383.05,54.06 C383.47,54.06 383.89,54.06 384.31,54.06 C384.72,54.07 385.14,54.07 385.56,54.07 C385.97,54.07 386.39,54.07 386.81,54.07 C387.22,54.07 387.64,54.07 388.06,54.07 C388.47,54.07 388.89,54.07 389.31,54.07 C389.72,54.07 390.14,54.07 390.56,54.07 C390.97,54.07 391.39,54.07 391.81,54.08 C392.23,54.08 392.64,54.08 393.06,54.08 C393.48,54.08 393.89,54.08 394.31,54.08 C394.73,54.08 395.35,54.08 395.56,54.08" fill="none" stroke="#2d8fe6" stroke-width="2.0" stroke-linejoin="round" stroke-linecap="round" opacity="1"/>
<path d="M245.50,116.60 C245.71,115.58 246.33,112.40 246.75,110.46 C247.17,108.53 247.58,106.73 248.00,105.01 C248.42,103.29 248.83,101.68 249.25,100.15 C249.67,98.63 250.09,97.20 250.50,95.84 C250.92,94.48 251.34,93.21 251.75,92.00 C252.17,90.79 252.59,89.66 253.00,88.59 C253.42,87.51 253.84,86.51 254.25,85.55 C254.67,84.60 255.09,83.70 255.50,82.85 C255.92,82.00 256.34,81.21 256.75,80.45 C257.17,79.70 257.59,78.99 258.00,78.32 C258.42,77.65 258.84,77.02 259.26,76.42 C259.67,75.82 260.09,75.26 260.51,74.73 C260.92,74.20 261.34,73.70 261.76,73.23 C262.17,72.76 262.59,72.31 263.01,71.89 C263.42,71.47 263.84,71.08 264.26,70.71 C264.67,70.33 265.09,69.98 265.51,69.65 C265.92,69.32 266.34,69.01 266.76,68.71 C267.18,68.42 267.59,68.14 268.01,67.88 C268.43,67.61 268.84,67.37 269.26,67.13 C269.68,66.90 270.09,66.68 270.51,66.47 C270.93,66.26 271.34,66.07 271.76,65.89 C272.18,65.70 272.59,65.53 273.01,65.36 C273.43,65.20 273.84,65.04 274.26,64.90 C274.68,64.75 275.10,64.62 275.51,64.49 C275.93,64.36 276.35,64.23 276.76,64.12 C277.18,64.00 277.60,63.89 278.01,63.79 C278.43,63.69 278.85,63.59 279.26,63.50 C279.68,63.41 280.10,63.32 280.51,63.24 C280.93,63.16 281.35,63.08 281.76,63.01 C282.18,62.94 282.60,62.87 283.01,62.81 C283.43,62.74 283.85,62.68 284.27,62.63 C284.68,62.57 285.10,62.52 285.52,62.46 C285.93,62.41 286.35,62.37 286.77,62.32 C287.18,62.28 287.60,62.23 288.02,62.19 C288.43,62.15 288.85,62.11 289.27,62.08 C289.68,62.04 290.10,62.01 290.52,61.98 C290.93,61.95 291.35,61.92 291.77,61.89 C292.19,61.86 292.60,61.83 293.02,61.81 C293.44,61.78 293.85,61.76 294.27,61.74 C294.69,61.71 295.10,61.69 295.52,61.67 C295.94,61.65 296.35,61.64 296.77,61.62 C297.19,61.60 297.60,61.58 298.02,61.57 C298.44,61.55 298.85,61.54 299.27,61.52 C299.69,61.51 300.11,61.50 300.52,61.48 C300.94,61.47 301.36,61.46 301.77,61.45 C302.19,61.44 302.61,61.43 303.02,61.42 C303.44,61.41 303.86,61.40 304.27,61.39 C304.69,61.38 305.11,61.37 305.52,61.36 C305.94,61.36 306.36,61.35 306.77,61.34 C307.19,61.34 307.61,61.33 308.02,61.32 C308.44,61.32 308.86,61.31 309.28,61.31 C309.69,61.30 310.11,61.29 310.53,61.29 C310.94,61.29 311.36,61.28 311.78,61.28 C312.19,61.27 312.61,61.27 313.03,61.26 C313.44,61.26 313.86,61.26 314.28,61.25 C314.69,61.25 315.11,61.25 315.53,61.24 C315.94,61.24 316.36,61.24 316.78,61.23 C317.20,61.23 317.61,61.23 318.03,61.23 C318.45,61.22 318.86,61.22 319.28,61.22 C319.70,61.22 320.11,61.21 320.53,61.21 C320.95,61.22 321.36,61.23 321.78,61.24 C322.20,61.24 322.61,61.25 323.03,61.26 C323.45,61.26 323.86,61.27 324.28,61.28 C324.70,61.28 325.12,61.29 325.53,61.30 C325.95,61.31 326.37,61.31 326.78,61.32 C327.20,61.32 327.62,61.33 328.03,61.34 C328.45,61.34 328.87,61.35 329.28,61.36 C329.70,61.36 330.12,61.37 330.53,61.37 C330.95,61.38 331.37,61.39 331.78,61.39 C332.20,61.40 332.62,61.40 333.03,61.41 C333.45,61.42 333.87,61.42 334.29,61.43 C334.70,61.43 335.12,61.44 335.54,61.44 C335.95,61.45 336.37,61.45 336.79,61.46 C337.20,61.46 337.62,61.47 338.04,61.47 C338.45,61.48 338.87,61.49 339.29,61.49 C339.70,61.50 340.12,61.50 340.54,61.50 C340.95,61.51 341.37,61.51 341.79,61.52 C342.21,61.52 342.62,61.53 343.04,61.53 C343.46,61.54 343.87,61.54 344.29,61.55 C344.71,61.55 345.12,61.56 345.54,61.56 C345.96,61.57 346.37,61.57 346.79,61.57 C347.21,61.58 347.62,61.58 348.04,61.59 C348.46,61.59 348.87,61.60 349.29,61.60 C349.71,61.60 350.13,61.61 350.54,61.61 C350.96,61.62 351.38,61.62 351.79,61.62 C352.21,61.63 352.63,61.63 353.04,61.64 C353.46,61.64 353.88,61.64 354.29,61.65 C354.71,61.65 355.13,61.65 355.54,61.66 C355.96,61.66 356.38,61.66 356.79,61.67 C357.21,61.67 357.63,61.68 358.04,61.68 C358.46,61.68 358.88,61.69 359.30,61.69 C359.71,61.69 360.13,61.70 360.55,61.70 C360.96,61.70 361.38,61.71 361.80,61.71 C362.21,61.71 362.63,61.71 363.05,61.72 C363.46,61.72 363.88,61.72 364.30,61.73 C364.71,61.73 365.13,61.73 365.55,61.74 C365.96,61.74 366.38,61.74 366.80,61.74 C367.22,61.75 367.63,61.75 368.05,61.75 C368.47,61.76 368.88,61.76 369.30,61.76 C369.72,61.76 370.13,61.77 370.55,61.77 C370.97,61.77 371.38,61.77 371.80,61.78 C372.22,61.78 372.63,61.78 373.05,61.79 C373.47,61.79 373.88,61.79 374.30,61.79 C374.72,61.80 375.14,61.80 375.55,61.80 C375.97,61.80 376.39,61.80 376.80,61.81 C377.22,61.81 377.64,61.81 378.05,61.81 C378.47,61.82 378.89,61.82 379.30,61.82 C379.72,61.82 380.14,61.83 380.55,61.83 C380.97,61.83 381.39,61.83 381.80,61.83 C382.22,61.84 382.64,61.84 383.05,61.84 C383.47,61.84 383.89,61.84 384.31,61.85 C384.72,61.85 385.14,61.85 385.56,61.85 C385.97,61.85 386.39,61.86 386.81,61.86 C387.22,61.86 387.64,61.86 388.06,61.86 C388.47,61.87 388.89,61.87 389.31,61.87 C389.72,61.87 390.14,61.87 390.56,61.87 C390.97,61.88 391.39,61.88 391.81,61.88 C392.23,61.88 392.64,61.88 393.06,61.89 C393.48,61.89 393.89,61.89 394.31,61.89 C394.73,61.89 395.35,61.89 395.56,61.89" fill="none" stroke="#0f408f" stroke-width="2.0" stroke-linejoin="round" stroke-linecap="round" opacity="1"/>
<line x1="320.7" y1="22.3" x2="320.7" y2="116.6" stroke="#555" stroke-width="0.65" stroke-dasharray="1.3,1.3"/>
<rect x="245.50" y="22.50" width="150.00" height="94.00" fill="none" stroke="#808080" stroke-width="1"/>
<line x1="245.50" y1="106.18" x2="247.00" y2="106.18" stroke="#808080" stroke-width="0.8"/>
<line x1="245.50" y1="85.34" x2="247.00" y2="85.34" stroke="#808080" stroke-width="0.8"/>
<line x1="245.50" y1="64.50" x2="247.00" y2="64.50" stroke="#808080" stroke-width="0.8"/>
<line x1="245.50" y1="43.66" x2="247.00" y2="43.66" stroke="#808080" stroke-width="0.8"/>
<text transform="translate(244.30,99.56) scale(0.92,1)" font-size="9.4" text-anchor="end" font-weight="normal" fill="#222" stroke="#222" stroke-width="0.3" >0.2</text>
<text transform="translate(244.30,78.72) scale(0.92,1)" font-size="9.4" text-anchor="end" font-weight="normal" fill="#222" stroke="#222" stroke-width="0.3" >0.4</text>
<text transform="translate(244.30,57.88) scale(0.92,1)" font-size="9.4" text-anchor="end" font-weight="normal" fill="#222" stroke="#222" stroke-width="0.3" >0.6</text>
<text transform="translate(244.30,37.04) scale(0.92,1)" font-size="9.4" text-anchor="end" font-weight="normal" fill="#222" stroke="#222" stroke-width="0.3" >0.8</text>
<text transform="translate(246.50,124.60) scale(0.92,1)" font-size="9.4" text-anchor="middle" font-weight="normal" fill="#222" stroke="#222" stroke-width="0.3" >0</text>
<text transform="translate(287.50,124.60) scale(0.92,1)" font-size="9.4" text-anchor="middle" font-weight="normal" fill="#222" stroke="#222" stroke-width="0.3" >100</text>
<text transform="translate(328.50,124.60) scale(0.92,1)" font-size="9.4" text-anchor="middle" font-weight="normal" fill="#222" stroke="#222" stroke-width="0.3" >200</text>
<text transform="translate(369.50,124.60) scale(0.92,1)" font-size="9.4" text-anchor="middle" font-weight="normal" fill="#222" stroke="#222" stroke-width="0.3" >300</text>
<text transform="translate(320.50,135.40) scale(0.92,1)" font-size="9.5" text-anchor="middle" font-weight="normal" fill="#222" stroke="#222" stroke-width="0.3" >Time (sec)</text>
<text font-size="9.5" text-anchor="middle" fill="#222" stroke="#222" stroke-width="0.3" transform="translate(225.60,69.40) rotate(-90) scale(0.92,1)">Shift (nm)</text>
<text transform="translate(320.50,17.80) scale(0.96,1)" font-size="12" text-anchor="middle" font-weight="normal" fill="#222" stroke="#222" stroke-width="0.3" >D25</text>
<text transform="translate(209.50,10.90) scale(1.0,1)" font-size="12" text-anchor="start" font-weight="bold" fill="#000" >b</text>
<rect x="398.60" y="53.60" width="59.40" height="32.40" rx="0.8" fill="#fff" stroke="#e4e4e4" stroke-width="0.8"/>
<line x1="400.70" y1="58.40" x2="407.10" y2="58.40" stroke="#0f408f" stroke-width="1.6"/>
<text transform="translate(409.20,61.55) scale(0.94,1)" font-size="9.25" text-anchor="start" font-weight="normal" fill="#222" stroke="#222" stroke-width="0.3" >R-1b</text>
<line x1="400.70" y1="69.35" x2="407.10" y2="69.35" stroke="#2d8fe6" stroke-width="1.6"/>
<text transform="translate(409.20,72.50) scale(0.94,1)" font-size="9.25" text-anchor="start" font-weight="normal" fill="#222" stroke="#222" stroke-width="0.3" >DS-Cav1</text>
<line x1="400.70" y1="80.30" x2="407.10" y2="80.30" stroke="#3fd9d6" stroke-width="1.6"/>
<text transform="translate(409.20,83.45) scale(0.94,1)" font-size="9.25" text-anchor="start" font-weight="normal" fill="#222" stroke="#222" stroke-width="0.3" >Post</text>
<line x1="514.0" y1="48.4" x2="622.4" y2="48.4" stroke="#555" stroke-width="0.65" stroke-dasharray="1.3,1.3"/>
<path d="M514.00,44.70 C514.25,43.92 514.83,40.90 515.50,40.00 C516.17,39.10 515.58,39.10 518.00,39.30 C520.42,39.50 526.33,40.58 530.00,41.20 C533.67,41.82 537.27,42.45 540.00,43.00 C542.73,43.55 544.73,43.92 546.40,44.50 C548.07,45.08 548.87,45.50 550.00,46.50 C551.13,47.50 552.28,49.17 553.20,50.50 C554.12,51.83 554.62,53.53 555.50,54.50 C556.38,55.47 557.42,56.55 558.50,56.30 C559.58,56.05 560.75,54.30 562.00,53.00 C563.25,51.70 564.77,49.48 566.00,48.50 C567.23,47.52 568.23,46.93 569.40,47.10 C570.57,47.27 571.73,48.18 573.00,49.50 C574.27,50.82 575.78,52.98 577.00,55.00 C578.22,57.02 579.30,59.43 580.30,61.60 C581.30,63.77 581.98,66.30 583.00,68.00 C584.02,69.70 585.32,72.13 586.40,71.80 C587.48,71.47 588.37,69.63 589.50,66.00 C590.63,62.37 591.95,54.13 593.20,50.00 C594.45,45.87 595.62,43.10 597.00,41.20 C598.38,39.30 599.33,39.13 601.50,38.60 C603.67,38.07 606.53,38.00 610.00,38.00 C613.47,38.00 620.25,38.50 622.30,38.60" fill="none" stroke="#2d8fe6" stroke-width="2.0" stroke-linejoin="round" stroke-linecap="round" opacity="1"/>
<path d="M514.00,33.50 C514.20,32.58 514.70,28.78 515.20,28.00 C515.70,27.22 515.87,28.65 517.00,28.80 C518.13,28.95 520.67,28.45 522.00,28.90 C523.33,29.35 523.77,30.48 525.00,31.50 C526.23,32.52 527.23,33.72 529.40,35.00 C531.57,36.28 534.97,37.78 538.00,39.20 C541.03,40.62 545.07,41.97 547.60,43.50 C550.13,45.03 551.72,45.98 553.20,48.40 C554.68,50.82 555.42,54.18 556.50,58.00 C557.58,61.82 558.62,67.80 559.70,71.30 C560.78,74.80 561.78,76.80 563.00,79.00 C564.22,81.20 565.67,81.83 567.00,84.50 C568.33,87.17 569.92,91.42 571.00,95.00 C572.08,98.58 572.83,103.28 573.50,106.00 C574.17,108.72 574.42,110.97 575.00,111.30 C575.58,111.63 576.17,112.38 577.00,108.00 C577.83,103.62 578.83,95.00 580.00,85.00 C581.17,75.00 582.92,56.17 584.00,48.00 C585.08,39.83 585.67,38.83 586.50,36.00 C587.33,33.17 587.82,32.17 589.00,31.00 C590.18,29.83 591.77,29.37 593.60,29.00 C595.43,28.63 597.37,28.80 600.00,28.80 C602.63,28.80 606.82,28.70 609.40,29.00 C611.98,29.30 613.90,30.52 615.50,30.60 C617.10,30.68 617.87,30.07 619.00,29.50 C620.13,28.93 621.75,27.58 622.30,27.20" fill="none" stroke="#0f408f" stroke-width="2.0" stroke-linejoin="round" stroke-linecap="round" opacity="1"/>
<rect x="514.50" y="22.50" width="108.00" height="94.00" fill="none" stroke="#808080" stroke-width="1"/>
<line x1="514.00" y1="34.55" x2="515.50" y2="34.55" stroke="#808080" stroke-width="0.8"/>
<line x1="514.00" y1="62.25" x2="515.50" y2="62.25" stroke="#808080" stroke-width="0.8"/>
<line x1="514.00" y1="89.95" x2="515.50" y2="89.95" stroke="#808080" stroke-width="0.8"/>
<text transform="translate(512.80,51.50) scale(0.92,1)" font-size="9.4" text-anchor="end" font-weight="normal" fill="#222" stroke="#222" stroke-width="0.3" >0</text>
<text transform="translate(512.80,79.20) scale(0.92,1)" font-size="9.4" text-anchor="end" font-weight="normal" fill="#222" stroke="#222" stroke-width="0.3" >−100</text>
<text transform="translate(512.80,106.90) scale(0.92,1)" font-size="9.4" text-anchor="end" font-weight="normal" fill="#222" stroke="#222" stroke-width="0.3" >−200</text>
<text transform="translate(522.11,124.70) scale(0.92,1)" font-size="9.4" text-anchor="middle" font-weight="normal" fill="#222" stroke="#222" stroke-width="0.3" >30</text>
<text transform="translate(555.35,124.70) scale(0.92,1)" font-size="9.4" text-anchor="middle" font-weight="normal" fill="#222" stroke="#222" stroke-width="0.3" >50</text>
<text transform="translate(588.59,124.70) scale(0.92,1)" font-size="9.4" text-anchor="middle" font-weight="normal" fill="#222" stroke="#222" stroke-width="0.3" >70</text>
<text transform="translate(621.83,124.70) scale(0.92,1)" font-size="9.4" text-anchor="middle" font-weight="normal" fill="#222" stroke="#222" stroke-width="0.3" >90</text>
<text transform="translate(568.20,136.00) scale(0.92,1)" font-size="9.5" text-anchor="middle" font-weight="normal" fill="#222" stroke="#222" stroke-width="0.3" >Temperature (ºC)</text>
<text font-size="9.5" text-anchor="middle" fill="#222" stroke="#222" stroke-width="0.3" transform="translate(490.30,69.40) rotate(-90) scale(0.92,1)">HEX derivative</text>
<text transform="translate(568.20,17.80) scale(0.96,1)" font-size="12" text-anchor="middle" font-weight="normal" fill="#222" stroke="#222" stroke-width="0.3" >RSV</text>
<text transform="translate(475.50,10.90) scale(1.0,1)" font-size="12" text-anchor="start" font-weight="bold" fill="#000" >c</text>
<rect x="624.80" y="59.40" width="59.70" height="21.10" rx="0.8" fill="#fff" stroke="#e4e4e4" stroke-width="0.8"/>
<line x1="627.30" y1="64.70" x2="634.00" y2="64.70" stroke="#0f408f" stroke-width="1.6"/>
<text transform="translate(635.20,67.85) scale(0.94,1)" font-size="9.25" text-anchor="start" font-weight="normal" fill="#222" stroke="#222" stroke-width="0.3" >R-1b</text>
<line x1="627.30" y1="75.30" x2="634.00" y2="75.30" stroke="#2d8fe6" stroke-width="1.6"/>
<text transform="translate(635.20,78.45) scale(0.94,1)" font-size="9.25" text-anchor="start" font-weight="normal" fill="#222" stroke="#222" stroke-width="0.3" >DS-Cav1</text>
<path d="M37.50,248.80 C38.58,249.27 41.92,250.57 44.00,251.60 C46.08,252.63 48.33,254.23 50.00,255.00 C51.67,255.77 52.83,256.37 54.00,256.20 C55.17,256.03 56.00,255.53 57.00,254.00 C58.00,252.47 59.08,248.92 60.00,247.00 C60.92,245.08 61.83,243.45 62.50,242.50 C63.17,241.55 63.42,241.30 64.00,241.30 C64.58,241.30 65.00,241.80 66.00,242.50 C67.00,243.20 68.67,244.80 70.00,245.50 C71.33,246.20 72.83,246.57 74.00,246.70 C75.17,246.83 75.85,246.58 77.00,246.30 C78.15,246.02 79.73,244.92 80.90,245.00 C82.07,245.08 82.82,245.97 84.00,246.80 C85.18,247.63 86.17,248.98 88.00,250.00 C89.83,251.02 92.17,252.23 95.00,252.90 C97.83,253.57 99.17,253.52 105.00,254.00 C110.83,254.48 125.83,255.50 130.00,255.80" fill="none" stroke="#e3191b" stroke-width="2.0" stroke-linejoin="round" stroke-linecap="round" opacity="1"/>
<path d="M37.50,251.00 C38.58,251.33 41.92,252.17 44.00,253.00 C46.08,253.83 48.33,255.40 50.00,256.00 C51.67,256.60 52.83,257.10 54.00,256.60 C55.17,256.10 56.00,254.93 57.00,253.00 C58.00,251.07 59.08,247.33 60.00,245.00 C60.92,242.67 61.72,240.33 62.50,239.00 C63.28,237.67 63.95,236.92 64.70,237.00 C65.45,237.08 65.95,238.42 67.00,239.50 C68.05,240.58 69.72,242.55 71.00,243.50 C72.28,244.45 73.53,245.20 74.70,245.20 C75.87,245.20 76.83,244.10 78.00,243.50 C79.17,242.90 80.53,241.60 81.70,241.60 C82.87,241.60 83.78,242.43 85.00,243.50 C86.22,244.57 87.33,246.62 89.00,248.00 C90.67,249.38 92.33,250.88 95.00,251.80 C97.67,252.72 99.17,252.85 105.00,253.50 C110.83,254.15 125.83,255.33 130.00,255.70" fill="none" stroke="#8b6516" stroke-width="2.0" stroke-linejoin="round" stroke-linecap="round" opacity="1"/>
<path d="M37.50,257.30 C39.58,257.30 47.25,257.38 50.00,257.30 C52.75,257.22 52.67,258.02 54.00,256.80 C55.33,255.58 56.67,252.63 58.00,250.00 C59.33,247.37 60.83,243.00 62.00,241.00 C63.17,239.00 64.00,238.33 65.00,238.00 C66.00,237.67 66.83,238.17 68.00,239.00 C69.17,239.83 70.62,241.85 72.00,243.00 C73.38,244.15 75.22,247.23 76.30,245.90 C77.38,244.57 77.85,240.15 78.50,235.00 C79.15,229.85 79.67,219.15 80.20,215.00 C80.73,210.85 81.15,209.93 81.70,210.10 C82.25,210.27 82.75,212.93 83.50,216.00 C84.25,219.07 85.28,224.50 86.20,228.50 C87.12,232.50 87.97,236.90 89.00,240.00 C90.03,243.10 90.57,245.10 92.40,247.10 C94.23,249.10 97.07,250.88 100.00,252.00 C102.93,253.12 105.00,253.17 110.00,253.80 C115.00,254.43 126.67,255.47 130.00,255.80" fill="none" stroke="#f0861e" stroke-width="2.0" stroke-linejoin="round" stroke-linecap="round" opacity="1"/>
<path d="M37.50,257.40 C39.58,257.40 47.25,257.47 50.00,257.40 C52.75,257.33 52.75,257.90 54.00,257.00 C55.25,256.10 56.30,254.83 57.50,252.00 C58.70,249.17 60.03,244.33 61.20,240.00 C62.37,235.67 63.62,228.95 64.50,226.00 C65.38,223.05 65.83,223.10 66.50,222.30 C67.17,221.50 67.75,221.17 68.50,221.20 C69.25,221.23 69.98,221.42 71.00,222.50 C72.02,223.58 73.63,227.28 74.60,227.70 C75.57,228.12 76.20,226.95 76.80,225.00 C77.40,223.05 77.85,220.50 78.20,216.00 C78.55,211.50 78.72,204.00 78.90,198.00 C79.08,192.00 79.08,183.67 79.30,180.00 C79.52,176.33 79.65,178.33 80.20,176.00 C80.75,173.67 82.02,168.03 82.60,166.00 C83.18,163.97 83.17,163.13 83.70,163.80 C84.23,164.47 85.15,166.47 85.80,170.00 C86.45,173.53 87.03,180.00 87.60,185.00 C88.17,190.00 88.37,194.17 89.20,200.00 C90.03,205.83 91.50,214.67 92.60,220.00 C93.70,225.33 94.85,228.67 95.80,232.00 C96.75,235.33 97.27,237.42 98.30,240.00 C99.33,242.58 100.72,245.58 102.00,247.50 C103.28,249.42 103.83,250.38 106.00,251.50 C108.17,252.62 111.00,253.48 115.00,254.20 C119.00,254.92 127.50,255.53 130.00,255.80" fill="none" stroke="#fcba12" stroke-width="2.0" stroke-linejoin="round" stroke-linecap="round" opacity="1"/>
<path d="M37.50,257.50 C39.58,257.50 47.25,257.58 50.00,257.50 C52.75,257.42 52.75,257.92 54.00,257.00 C55.25,256.08 56.23,254.62 57.50,252.00 C58.77,249.38 60.35,246.30 61.60,241.30 C62.85,236.30 63.85,226.58 65.00,222.00 C66.15,217.42 67.33,214.30 68.50,213.80 C69.67,213.30 70.67,215.83 72.00,219.00 C73.33,222.17 75.37,232.30 76.50,232.80 C77.63,233.30 78.20,225.80 78.80,222.00 C79.40,218.20 79.72,215.33 80.10,210.00 C80.48,204.67 80.68,196.33 81.10,190.00 C81.52,183.67 82.12,176.40 82.60,172.00 C83.08,167.60 83.52,163.60 84.00,163.60 C84.48,163.60 85.03,167.93 85.50,172.00 C85.97,176.07 86.40,183.33 86.80,188.00 C87.20,192.67 87.25,194.67 87.90,200.00 C88.55,205.33 89.47,213.50 90.70,220.00 C91.93,226.50 93.95,234.58 95.30,239.00 C96.65,243.42 97.60,244.50 98.80,246.50 C100.00,248.50 100.63,249.82 102.50,251.00 C104.37,252.18 105.42,252.82 110.00,253.60 C114.58,254.38 126.67,255.35 130.00,255.70" fill="none" stroke="#6d0e10" stroke-width="2.0" stroke-linejoin="round" stroke-linecap="round" opacity="1"/>
<rect x="37.50" y="163.50" width="93.00" height="95.00" fill="none" stroke="#808080" stroke-width="1"/>
<text transform="translate(36.80,260.90) scale(0.92,1)" font-size="9.4" text-anchor="end" font-weight="normal" fill="#222" stroke="#222" stroke-width="0.3" >0</text>
<text transform="translate(36.80,238.60) scale(0.92,1)" font-size="9.4" text-anchor="end" font-weight="normal" fill="#222" stroke="#222" stroke-width="0.3" >40</text>
<text transform="translate(36.80,216.30) scale(0.92,1)" font-size="9.4" text-anchor="end" font-weight="normal" fill="#222" stroke="#222" stroke-width="0.3" >80</text>
<text transform="translate(36.80,194.00) scale(0.92,1)" font-size="9.4" text-anchor="end" font-weight="normal" fill="#222" stroke="#222" stroke-width="0.3" >120</text>
<text transform="translate(36.80,171.70) scale(0.92,1)" font-size="9.4" text-anchor="end" font-weight="normal" fill="#222" stroke="#222" stroke-width="0.3" >160</text>
<text transform="translate(53.60,265.80) scale(0.92,1)" font-size="9.4" text-anchor="middle" font-weight="normal" fill="#222" stroke="#222" stroke-width="0.3" >8</text>
<text transform="translate(87.48,265.80) scale(0.92,1)" font-size="9.4" text-anchor="middle" font-weight="normal" fill="#222" stroke="#222" stroke-width="0.3" >12</text>
<text transform="translate(121.36,265.80) scale(0.92,1)" font-size="9.4" text-anchor="middle" font-weight="normal" fill="#222" stroke="#222" stroke-width="0.3" >16</text>
<text transform="translate(83.80,277.20) scale(0.92,1)" font-size="9.5" text-anchor="middle" font-weight="normal" fill="#222" stroke="#222" stroke-width="0.3" >Elution volume (mL)</text>
<text font-size="9.5" text-anchor="middle" fill="#222" stroke="#222" stroke-width="0.3" transform="translate(16.40,210.80) rotate(-90) scale(0.92,1)">Absorbance (mAU)</text>
<text transform="translate(83.80,158.90) scale(0.96,1)" font-size="12" text-anchor="middle" font-weight="normal" fill="#222" stroke="#222" stroke-width="0.3" >hMPV</text>
<text transform="translate(0.80,152.00) scale(1.0,1)" font-size="12" text-anchor="start" font-weight="bold" fill="#000" >d</text>
<rect x="132.80" y="182.40" width="59.90" height="57.00" rx="0.8" fill="#fff" stroke="#e4e4e4" stroke-width="0.8"/>
<line x1="135.10" y1="188.30" x2="141.70" y2="188.30" stroke="#6d0e10" stroke-width="1.6"/>
<text transform="translate(143.40,191.45) scale(0.94,1)" font-size="9.25" text-anchor="start" font-weight="normal" fill="#222" stroke="#222" stroke-width="0.3" >M-104</text>
<line x1="135.10" y1="199.52" x2="141.70" y2="199.52" stroke="#8b6516" stroke-width="1.6"/>
<text transform="translate(143.40,202.67) scale(0.94,1)" font-size="9.25" text-anchor="start" font-weight="normal" fill="#222" stroke="#222" stroke-width="0.3" >M-305</text>
<line x1="135.10" y1="210.74" x2="141.70" y2="210.74" stroke="#e3191b" stroke-width="1.6"/>
<text transform="translate(143.40,213.89) scale(0.94,1)" font-size="9.25" text-anchor="start" font-weight="normal" fill="#222" stroke="#222" stroke-width="0.3" >115-BV</text>
<line x1="135.10" y1="221.96" x2="141.70" y2="221.96" stroke="#f0861e" stroke-width="1.6"/>
<text transform="translate(143.40,225.11) scale(0.94,1)" font-size="9.25" text-anchor="start" font-weight="normal" fill="#222" stroke="#222" stroke-width="0.3" >DS-CavEs</text>
<line x1="135.10" y1="233.18" x2="141.70" y2="233.18" stroke="#fcba12" stroke-width="1.6"/>
<text transform="translate(143.40,236.33) scale(0.94,1)" font-size="9.25" text-anchor="start" font-weight="normal" fill="#222" stroke="#222" stroke-width="0.3" >DS-CavEs2</text>
<path d="M245.50,256.28 L246.18,255.24 L246.86,253.13 L247.55,251.82 L248.23,250.69 L248.91,249.13 L249.59,248.29 L250.27,246.85 L250.96,245.22 L251.64,244.62 L252.32,243.30 L253.00,241.58 L253.69,240.07 L254.37,239.44 L255.05,238.18 L255.73,237.34 L256.41,236.07 L257.10,234.69 L257.78,233.49 L258.46,232.66 L259.14,231.49 L259.82,231.15 L260.51,230.76 L261.19,228.94 L261.87,228.30 L262.55,227.80 L263.23,227.10 L263.92,226.66 L264.60,225.02 L265.28,224.86 L265.96,223.55 L266.64,222.93 L267.33,222.04 L268.01,221.36 L268.69,220.32 L269.37,219.03 L270.06,218.76 L270.74,217.59 L271.42,217.44 L272.10,216.96 L272.78,215.53 L273.47,215.38 L274.15,214.62 L274.83,214.43 L275.51,214.44 L276.19,212.97 L276.88,213.00 L277.56,212.41 L278.24,211.76 L278.92,210.40 L279.60,209.99 L280.29,208.87 L280.97,208.34 L281.65,207.67 L282.33,207.70 L283.01,206.92 L283.70,206.40 L284.38,205.65 L285.06,205.44 L285.74,205.03 L286.43,204.21 L287.11,204.36 L287.79,203.42 L288.47,203.30 L289.15,201.88 L289.84,201.84 L290.52,201.34 L291.20,201.08 L291.88,200.63 L292.56,201.12 L293.25,199.77 L293.93,199.74 L294.61,198.89 L295.29,198.52 L295.97,198.90 L296.66,198.02 L297.34,197.69 L298.02,198.31 L298.70,197.42 L299.39,197.49 L300.07,197.32 L300.75,196.75 L301.43,196.10 L302.11,196.23 L302.80,196.17 L303.48,196.06 L304.16,194.97 L304.84,195.45 L305.52,194.43 L306.21,194.22 L306.89,193.69 L307.57,193.67 L308.25,192.64 L308.93,193.42 L309.62,193.44 L310.30,193.58 L310.98,192.88 L311.66,192.77 L312.34,192.54 L313.03,192.69 L313.71,191.89 L314.39,191.69 L315.07,191.67 L315.76,191.38 L316.44,190.65 L317.12,190.81 L317.80,190.25 L318.48,189.79 L319.17,189.19 L319.85,189.07 L320.53,188.62 L321.21,188.57 L321.89,189.11 L322.58,189.27 L323.26,189.07 L323.94,188.99 L324.62,189.11 L325.30,188.79 L325.99,188.81 L326.67,188.86 L327.35,188.32 L328.03,188.75 L328.72,189.09 L329.40,189.33 L330.08,189.04 L330.76,188.25 L331.44,189.06 L332.13,188.64 L332.81,188.99 L333.49,188.31 L334.17,189.33 L334.85,188.72 L335.54,188.95 L336.22,189.31 L336.90,189.42 L337.58,189.82 L338.26,189.80 L338.95,190.16 L339.63,189.97 L340.31,190.04 L340.99,190.55 L341.67,190.62 L342.36,190.08 L343.04,190.56 L343.72,190.09 L344.40,189.94 L345.09,189.90 L345.77,189.86 L346.45,189.47 L347.13,190.12 L347.81,189.70 L348.50,189.21 L349.18,189.09 L349.86,188.84 L350.54,189.47 L351.22,190.17 L351.91,189.99 L352.59,190.32 L353.27,189.03 L353.95,189.45 L354.63,190.06 L355.32,190.18 L356.00,189.73 L356.68,189.74 L357.36,189.68 L358.04,189.77 L358.73,189.60 L359.41,189.05 L360.09,189.15 L360.77,189.53 L361.46,189.69 L362.14,189.68 L362.82,189.89 L363.50,190.17 L364.18,189.35 L364.87,190.19 L365.55,189.52 L366.23,190.28 L366.91,190.68 L367.59,190.41 L368.28,189.76 L368.96,189.84 L369.64,189.19 L370.32,189.64 L371.00,189.78 L371.69,189.15 L372.37,189.64 L373.05,189.37 L373.73,188.62 L374.42,189.30 L375.10,189.18 L375.78,189.46 L376.46,189.31 L377.14,189.66 L377.83,189.29 L378.51,188.73 L379.19,189.02 L379.87,188.70 L380.55,189.33 L381.24,189.49 L381.92,188.47 L382.60,189.08 L383.28,189.35 L383.96,188.95 L384.65,189.13 L385.33,188.89 L386.01,188.95 L386.69,189.00 L387.37,189.28 L388.06,189.05 L388.74,188.44 L389.42,189.62 L390.10,189.49 L390.79,189.37 L391.47,189.97 L392.15,189.92 L392.83,189.20 L393.51,189.30 L394.20,189.62 L394.88,189.56 L395.56,188.83" fill="none" stroke="#c2c2c2" stroke-width="1.6" stroke-linejoin="round" stroke-linecap="round" opacity="1"/>
<path d="M245.50,257.81 L246.18,257.09 L246.86,255.68 L247.55,254.62 L248.23,252.99 L248.91,252.01 L249.59,250.27 L250.27,248.92 L250.96,247.45 L251.64,246.88 L252.32,245.83 L253.00,244.15 L253.69,243.48 L254.37,243.04 L255.05,241.85 L255.73,241.17 L256.41,240.29 L257.10,239.08 L257.78,237.66 L258.46,236.68 L259.14,236.14 L259.82,235.90 L260.51,234.56 L261.19,233.74 L261.87,233.14 L262.55,232.55 L263.23,231.61 L263.92,230.58 L264.60,229.58 L265.28,228.50 L265.96,228.06 L266.64,227.06 L267.33,225.96 L268.01,225.20 L268.69,224.10 L269.37,223.50 L270.06,223.01 L270.74,222.08 L271.42,222.32 L272.10,222.19 L272.78,220.72 L273.47,220.04 L274.15,219.46 L274.83,219.10 L275.51,218.46 L276.19,218.32 L276.88,217.69 L277.56,217.29 L278.24,216.83 L278.92,215.28 L279.60,214.62 L280.29,214.18 L280.97,213.30 L281.65,213.02 L282.33,213.30 L283.01,212.81 L283.70,212.60 L284.38,211.45 L285.06,211.96 L285.74,210.68 L286.43,211.04 L287.11,209.82 L287.79,209.50 L288.47,209.00 L289.15,208.31 L289.84,208.40 L290.52,208.60 L291.20,207.38 L291.88,207.70 L292.56,207.88 L293.25,207.70 L293.93,207.00 L294.61,206.26 L295.29,205.66 L295.97,205.40 L296.66,205.15 L297.34,205.50 L298.02,204.60 L298.70,204.74 L299.39,204.01 L300.07,203.24 L300.75,202.72 L301.43,202.19 L302.11,202.57 L302.80,201.68 L303.48,201.62 L304.16,201.72 L304.84,201.62 L305.52,200.75 L306.21,200.59 L306.89,200.42 L307.57,199.83 L308.25,199.62 L308.93,200.00 L309.62,198.96 L310.30,198.60 L310.98,198.09 L311.66,198.07 L312.34,197.51 L313.03,197.56 L313.71,197.13 L314.39,196.54 L315.07,197.60 L315.76,197.04 L316.44,197.31 L317.12,196.70 L317.80,196.29 L318.48,196.08 L319.17,196.86 L319.85,197.00 L320.53,196.37 L321.21,195.96 L321.89,196.00 L322.58,196.03 L323.26,196.00 L323.94,196.62 L324.62,196.17 L325.30,196.50 L325.99,195.86 L326.67,196.29 L327.35,196.30 L328.03,196.38 L328.72,195.51 L329.40,196.10 L330.08,196.50 L330.76,197.04 L331.44,196.57 L332.13,196.00 L332.81,195.90 L333.49,196.13 L334.17,196.67 L334.85,195.50 L335.54,195.61 L336.22,195.73 L336.90,196.74 L337.58,196.60 L338.26,196.48 L338.95,196.25 L339.63,196.07 L340.31,196.54 L340.99,196.36 L341.67,196.28 L342.36,196.22 L343.04,195.67 L343.72,195.82 L344.40,196.68 L345.09,197.03 L345.77,197.08 L346.45,196.75 L347.13,197.15 L347.81,196.73 L348.50,196.97 L349.18,196.78 L349.86,196.93 L350.54,195.81 L351.22,196.18 L351.91,195.92 L352.59,195.79 L353.27,195.73 L353.95,195.76 L354.63,195.25 L355.32,196.03 L356.00,195.92 L356.68,195.15 L357.36,195.41 L358.04,195.73 L358.73,195.55 L359.41,195.24 L360.09,195.13 L360.77,195.15 L361.46,195.83 L362.14,195.85 L362.82,195.68 L363.50,196.64 L364.18,196.25 L364.87,195.62 L365.55,196.40 L366.23,196.25 L366.91,196.34 L367.59,196.20 L368.28,195.85 L368.96,195.38 L369.64,195.76 L370.32,196.32 L371.00,196.58 L371.69,197.12 L372.37,196.53 L373.05,196.31 L373.73,196.51 L374.42,195.72 L375.10,196.44 L375.78,195.90 L376.46,195.98 L377.14,196.52 L377.83,196.18 L378.51,195.83 L379.19,195.67 L379.87,196.14 L380.55,195.29 L381.24,195.59 L381.92,195.21 L382.60,195.26 L383.28,194.87 L383.96,195.70 L384.65,196.14 L385.33,195.94 L386.01,195.81 L386.69,196.35 L387.37,195.94 L388.06,196.18 L388.74,196.00 L389.42,195.75 L390.10,196.24 L390.79,196.68 L391.47,195.91 L392.15,196.05 L392.83,195.48 L393.51,195.42 L394.20,195.63 L394.88,195.40 L395.56,195.18" fill="none" stroke="#c2c2c2" stroke-width="1.6" stroke-linejoin="round" stroke-linecap="round" opacity="1"/>
<path d="M245.50,256.06 L246.18,256.38 L246.86,254.87 L247.55,254.81 L248.23,254.40 L248.91,253.88 L249.59,253.91 L250.27,253.30 L250.96,253.50 L251.64,253.40 L252.32,252.90 L253.00,251.96 L253.69,252.24 L254.37,251.99 L255.05,251.28 L255.73,250.80 L256.41,250.27 L257.10,249.82 L257.78,248.83 L258.46,248.77 L259.14,247.88 L259.82,247.15 L260.51,246.60 L261.19,246.40 L261.87,245.78 L262.55,245.47 L263.23,244.66 L263.92,244.42 L264.60,244.59 L265.28,244.52 L265.96,244.71 L266.64,243.50 L267.33,243.84 L268.01,243.13 L268.69,242.77 L269.37,241.69 L270.06,241.63 L270.74,240.83 L271.42,240.37 L272.10,240.26 L272.78,239.82 L273.47,240.13 L274.15,239.40 L274.83,239.86 L275.51,238.83 L276.19,239.33 L276.88,238.12 L277.56,237.72 L278.24,237.81 L278.92,237.46 L279.60,237.23 L280.29,236.67 L280.97,236.35 L281.65,235.53 L282.33,234.91 L283.01,234.38 L283.70,234.04 L284.38,233.53 L285.06,234.09 L285.74,233.77 L286.43,233.95 L287.11,232.81 L287.79,232.12 L288.47,232.01 L289.15,232.20 L289.84,231.94 L290.52,231.63 L291.20,231.06 L291.88,230.82 L292.56,230.99 L293.25,230.43 L293.93,230.74 L294.61,229.63 L295.29,229.72 L295.97,228.19 L296.66,228.34 L297.34,228.04 L298.02,228.02 L298.70,227.69 L299.39,226.80 L300.07,226.31 L300.75,225.84 L301.43,226.13 L302.11,225.27 L302.80,225.80 L303.48,224.42 L304.16,224.59 L304.84,224.93 L305.52,224.53 L306.21,224.49 L306.89,224.22 L307.57,223.32 L308.25,222.54 L308.93,222.41 L309.62,221.54 L310.30,221.59 L310.98,221.63 L311.66,220.80 L312.34,220.50 L313.03,219.87 L313.71,220.32 L314.39,220.17 L315.07,219.36 L315.76,219.10 L316.44,218.86 L317.12,219.32 L317.80,218.43 L318.48,218.62 L319.17,217.89 L319.85,217.61 L320.53,217.81 L321.21,217.56 L321.89,217.42 L322.58,217.38 L323.26,218.38 L323.94,217.35 L324.62,217.72 L325.30,217.26 L325.99,216.93 L326.67,216.27 L327.35,216.61 L328.03,217.26 L328.72,217.58 L329.40,217.44 L330.08,217.76 L330.76,217.36 L331.44,217.51 L332.13,217.32 L332.81,217.57 L333.49,217.40 L334.17,216.84 L334.85,216.60 L335.54,216.70 L336.22,216.62 L336.90,216.37 L337.58,216.73 L338.26,217.20 L338.95,217.49 L339.63,217.77 L340.31,217.13 L340.99,216.87 L341.67,216.87 L342.36,216.98 L343.04,216.55 L343.72,217.39 L344.40,217.43 L345.09,218.01 L345.77,218.16 L346.45,217.68 L347.13,218.09 L347.81,217.50 L348.50,217.23 L349.18,217.63 L349.86,218.40 L350.54,217.83 L351.22,217.40 L351.91,217.02 L352.59,217.95 L353.27,217.74 L353.95,218.06 L354.63,218.27 L355.32,218.32 L356.00,217.60 L356.68,217.80 L357.36,218.25 L358.04,217.66 L358.73,217.72 L359.41,217.90 L360.09,218.04 L360.77,217.92 L361.46,218.14 L362.14,217.84 L362.82,217.83 L363.50,217.69 L364.18,217.54 L364.87,217.03 L365.55,217.81 L366.23,217.81 L366.91,217.85 L367.59,217.93 L368.28,217.74 L368.96,218.26 L369.64,217.88 L370.32,218.28 L371.00,217.95 L371.69,217.60 L372.37,217.27 L373.05,217.75 L373.73,217.34 L374.42,217.97 L375.10,217.74 L375.78,217.97 L376.46,217.69 L377.14,217.97 L377.83,217.81 L378.51,217.69 L379.19,217.29 L379.87,217.44 L380.55,216.76 L381.24,217.17 L381.92,217.04 L382.60,217.32 L383.28,218.07 L383.96,217.41 L384.65,217.89 L385.33,217.28 L386.01,217.49 L386.69,217.65 L387.37,217.81 L388.06,217.87 L388.74,217.87 L389.42,217.94 L390.10,218.71 L390.79,218.37 L391.47,217.62 L392.15,218.05 L392.83,218.07 L393.51,218.58 L394.20,217.85 L394.88,217.69 L395.56,217.97" fill="none" stroke="#c2c2c2" stroke-width="1.6" stroke-linejoin="round" stroke-linecap="round" opacity="1"/>
<path d="M245.50,256.69 L246.18,256.27 L246.86,256.52 L247.55,256.58 L248.23,255.86 L248.91,256.40 L249.59,256.75 L250.27,255.82 L250.96,255.86 L251.64,254.94 L252.32,255.68 L253.00,255.37 L253.69,255.51 L254.37,255.28 L255.05,255.22 L255.73,255.98 L256.41,255.77 L257.10,255.80 L257.78,255.65 L258.46,254.89 L259.14,254.77 L259.82,255.44 L260.51,255.33 L261.19,254.79 L261.87,255.61 L262.55,255.49 L263.23,254.95 L263.92,255.21 L264.60,255.24 L265.28,255.19 L265.96,255.30 L266.64,255.89 L267.33,255.10 L268.01,255.15 L268.69,255.09 L269.37,255.18 L270.06,254.90 L270.74,255.12 L271.42,255.30 L272.10,255.17 L272.78,254.36 L273.47,254.25 L274.15,254.63 L274.83,254.75 L275.51,255.38 L276.19,255.47 L276.88,255.60 L277.56,254.85 L278.24,255.00 L278.92,255.29 L279.60,254.60 L280.29,255.46 L280.97,255.00 L281.65,254.87 L282.33,254.40 L283.01,254.34 L283.70,254.03 L284.38,253.45 L285.06,253.71 L285.74,253.70 L286.43,254.28 L287.11,254.41 L287.79,255.25 L288.47,254.23 L289.15,254.50 L289.84,254.09 L290.52,253.63 L291.20,253.89 L291.88,253.81 L292.56,254.10 L293.25,255.11 L293.93,254.99 L294.61,254.43 L295.29,254.65 L295.97,254.57 L296.66,254.96 L297.34,254.62 L298.02,253.73 L298.70,254.06 L299.39,253.85 L300.07,254.03 L300.75,254.72 L301.43,254.42 L302.11,253.76 L302.80,253.82 L303.48,253.76 L304.16,253.48 L304.84,252.77 L305.52,252.93 L306.21,253.58 L306.89,253.44 L307.57,253.03 L308.25,252.83 L308.93,252.57 L309.62,252.44 L310.30,252.60 L310.98,253.00 L311.66,252.90 L312.34,253.11 L313.03,252.50 L313.71,252.97 L314.39,253.30 L315.07,252.87 L315.76,252.67 L316.44,252.65 L317.12,252.48 L317.80,252.10 L318.48,252.59 L319.17,252.78 L319.85,252.49 L320.53,252.55 L321.21,252.70 L321.89,252.62 L322.58,252.05 L323.26,251.89 L323.94,252.06 L324.62,252.46 L325.30,252.73 L325.99,253.31 L326.67,252.95 L327.35,253.11 L328.03,253.16 L328.72,253.72 L329.40,253.66 L330.08,253.93 L330.76,253.82 L331.44,254.35 L332.13,253.76 L332.81,253.84 L333.49,253.45 L334.17,253.18 L334.85,252.90 L335.54,253.35 L336.22,253.72 L336.90,253.40 L337.58,253.95 L338.26,253.89 L338.95,253.47 L339.63,253.89 L340.31,253.34 L340.99,252.76 L341.67,253.64 L342.36,253.38 L343.04,254.24 L343.72,254.33 L344.40,254.50 L345.09,254.08 L345.77,254.48 L346.45,254.23 L347.13,254.61 L347.81,254.43 L348.50,255.10 L349.18,254.56 L349.86,253.57 L350.54,253.43 L351.22,253.87 L351.91,253.81 L352.59,253.67 L353.27,253.82 L353.95,254.26 L354.63,253.41 L355.32,254.04 L356.00,253.58 L356.68,253.99 L357.36,253.16 L358.04,252.39 L358.73,253.03 L359.41,253.18 L360.09,252.82 L360.77,253.21 L361.46,252.93 L362.14,252.53 L362.82,252.95 L363.50,253.43 L364.18,252.97 L364.87,252.71 L365.55,252.11 L366.23,252.80 L366.91,253.01 L367.59,253.21 L368.28,252.85 L368.96,253.36 L369.64,253.54 L370.32,253.71 L371.00,253.44 L371.69,253.75 L372.37,253.56 L373.05,252.92 L373.73,252.73 L374.42,253.14 L375.10,253.36 L375.78,253.56 L376.46,253.07 L377.14,253.32 L377.83,252.99 L378.51,252.95 L379.19,253.24 L379.87,253.50 L380.55,253.69 L381.24,253.12 L381.92,253.14 L382.60,253.26 L383.28,253.64 L383.96,253.27 L384.65,253.09 L385.33,254.08 L386.01,253.38 L386.69,252.99 L387.37,253.41 L388.06,253.17 L388.74,253.39 L389.42,253.46 L390.10,254.03 L390.79,254.20 L391.47,254.13 L392.15,254.00 L392.83,253.23 L393.51,253.77 L394.20,253.60 L394.88,253.28 L395.56,253.34" fill="none" stroke="#c2c2c2" stroke-width="1.6" stroke-linejoin="round" stroke-linecap="round" opacity="1"/>
<path d="M245.50,257.20 C245.71,257.19 246.33,257.17 246.75,257.16 C247.17,257.14 247.58,257.13 248.00,257.11 C248.42,257.10 248.83,257.08 249.25,257.07 C249.67,257.06 250.09,257.04 250.50,257.03 C250.92,257.01 251.34,257.00 251.75,256.99 C252.17,256.97 252.59,256.96 253.00,256.95 C253.42,256.93 253.84,256.92 254.25,256.91 C254.67,256.89 255.09,256.88 255.50,256.87 C255.92,256.85 256.34,256.84 256.75,256.83 C257.17,256.81 257.59,256.80 258.00,256.79 C258.42,256.78 258.84,256.76 259.26,256.75 C259.67,256.74 260.09,256.73 260.51,256.71 C260.92,256.70 261.34,256.69 261.76,256.68 C262.17,256.66 262.59,256.65 263.01,256.64 C263.42,256.63 263.84,256.62 264.26,256.60 C264.67,256.59 265.09,256.58 265.51,256.57 C265.92,256.56 266.34,256.55 266.76,256.54 C267.18,256.52 267.59,256.51 268.01,256.50 C268.43,256.49 268.84,256.48 269.26,256.47 C269.68,256.46 270.09,256.45 270.51,256.44 C270.93,256.42 271.34,256.41 271.76,256.40 C272.18,256.39 272.59,256.38 273.01,256.37 C273.43,256.36 273.84,256.35 274.26,256.34 C274.68,256.33 275.10,256.32 275.51,256.31 C275.93,256.30 276.35,256.29 276.76,256.28 C277.18,256.27 277.60,256.26 278.01,256.25 C278.43,256.24 278.85,256.23 279.26,256.22 C279.68,256.21 280.10,256.20 280.51,256.19 C280.93,256.18 281.35,256.17 281.76,256.16 C282.18,256.15 282.60,256.14 283.01,256.13 C283.43,256.12 283.85,256.11 284.27,256.10 C284.68,256.09 285.10,256.09 285.52,256.08 C285.93,256.07 286.35,256.06 286.77,256.05 C287.18,256.04 287.60,256.03 288.02,256.02 C288.43,256.01 288.85,256.01 289.27,256.00 C289.68,255.99 290.10,255.98 290.52,255.97 C290.93,255.96 291.35,255.95 291.77,255.95 C292.19,255.94 292.60,255.93 293.02,255.92 C293.44,255.91 293.85,255.90 294.27,255.90 C294.69,255.89 295.10,255.88 295.52,255.87 C295.94,255.86 296.35,255.86 296.77,255.85 C297.19,255.84 297.60,255.83 298.02,255.82 C298.44,255.82 298.85,255.81 299.27,255.80 C299.69,255.79 300.11,255.79 300.52,255.78 C300.94,255.77 301.36,255.76 301.77,255.76 C302.19,255.75 302.61,255.74 303.02,255.73 C303.44,255.73 303.86,255.72 304.27,255.71 C304.69,255.70 305.11,255.70 305.52,255.69 C305.94,255.68 306.36,255.68 306.77,255.67 C307.19,255.66 307.61,255.65 308.02,255.65 C308.44,255.64 308.86,255.63 309.28,255.63 C309.69,255.62 310.11,255.61 310.53,255.61 C310.94,255.60 311.36,255.59 311.78,255.59 C312.19,255.58 312.61,255.57 313.03,255.57 C313.44,255.56 313.86,255.55 314.28,255.55 C314.69,255.54 315.11,255.54 315.53,255.53 C315.94,255.52 316.36,255.52 316.78,255.51 C317.20,255.50 317.61,255.50 318.03,255.49 C318.45,255.49 318.86,255.48 319.28,255.47 C319.70,255.47 320.11,255.46 320.53,255.46 C320.95,255.45 321.36,255.46 321.78,255.46 C322.20,255.46 322.61,255.46 323.03,255.46 C323.45,255.46 323.86,255.46 324.28,255.46 C324.70,255.46 325.12,255.46 325.53,255.46 C325.95,255.46 326.37,255.46 326.78,255.46 C327.20,255.46 327.62,255.46 328.03,255.46 C328.45,255.46 328.87,255.46 329.28,255.46 C329.70,255.46 330.12,255.46 330.53,255.46 C330.95,255.46 331.37,255.46 331.78,255.46 C332.20,255.46 332.62,255.46 333.03,255.46 C333.45,255.46 333.87,255.46 334.29,255.46 C334.70,255.46 335.12,255.46 335.54,255.46 C335.95,255.46 336.37,255.46 336.79,255.46 C337.20,255.46 337.62,255.46 338.04,255.46 C338.45,255.46 338.87,255.46 339.29,255.46 C339.70,255.46 340.12,255.46 340.54,255.46 C340.95,255.46 341.37,255.46 341.79,255.46 C342.21,255.46 342.62,255.46 343.04,255.46 C343.46,255.46 343.87,255.46 344.29,255.46 C344.71,255.46 345.12,255.46 345.54,255.46 C345.96,255.45 346.37,255.45 346.79,255.45 C347.21,255.45 347.62,255.45 348.04,255.45 C348.46,255.45 348.87,255.45 349.29,255.45 C349.71,255.45 350.13,255.45 350.54,255.45 C350.96,255.45 351.38,255.45 351.79,255.45 C352.21,255.45 352.63,255.45 353.04,255.45 C353.46,255.45 353.88,255.45 354.29,255.45 C354.71,255.45 355.13,255.45 355.54,255.45 C355.96,255.45 356.38,255.45 356.79,255.45 C357.21,255.45 357.63,255.45 358.04,255.45 C358.46,255.45 358.88,255.45 359.30,255.45 C359.71,255.45 360.13,255.45 360.55,255.45 C360.96,255.45 361.38,255.45 361.80,255.45 C362.21,255.45 362.63,255.45 363.05,255.45 C363.46,255.45 363.88,255.45 364.30,255.45 C364.71,255.45 365.13,255.45 365.55,255.45 C365.96,255.45 366.38,255.45 366.80,255.45 C367.22,255.45 367.63,255.45 368.05,255.45 C368.47,255.45 368.88,255.45 369.30,255.45 C369.72,255.45 370.13,255.45 370.55,255.45 C370.97,255.45 371.38,255.45 371.80,255.45 C372.22,255.45 372.63,255.45 373.05,255.45 C373.47,255.45 373.88,255.45 374.30,255.45 C374.72,255.45 375.14,255.45 375.55,255.45 C375.97,255.45 376.39,255.45 376.80,255.45 C377.22,255.45 377.64,255.45 378.05,255.45 C378.47,255.45 378.89,255.45 379.30,255.45 C379.72,255.45 380.14,255.45 380.55,255.45 C380.97,255.45 381.39,255.45 381.80,255.45 C382.22,255.45 382.64,255.45 383.05,255.45 C383.47,255.45 383.89,255.45 384.31,255.45 C384.72,255.45 385.14,255.45 385.56,255.45 C385.97,255.45 386.39,255.45 386.81,255.45 C387.22,255.45 387.64,255.45 388.06,255.45 C388.47,255.45 388.89,255.45 389.31,255.45 C389.72,255.45 390.14,255.45 390.56,255.45 C390.97,255.45 391.39,255.45 391.81,255.45 C392.23,255.45 392.64,255.45 393.06,255.45 C393.48,255.45 393.89,255.45 394.31,255.45 C394.73,255.45 395.35,255.45 395.56,255.45" fill="none" stroke="#fde21c" stroke-width="2.0" stroke-linejoin="round" stroke-linecap="round" opacity="1"/>
<path d="M245.50,257.20 C245.71,257.19 246.33,257.15 246.75,257.12 C247.17,257.09 247.58,257.06 248.00,257.04 C248.42,257.01 248.83,256.99 249.25,256.96 C249.67,256.93 250.09,256.91 250.50,256.88 C250.92,256.86 251.34,256.83 251.75,256.80 C252.17,256.78 252.59,256.75 253.00,256.73 C253.42,256.70 253.84,256.68 254.25,256.65 C254.67,256.63 255.09,256.61 255.50,256.58 C255.92,256.56 256.34,256.53 256.75,256.51 C257.17,256.49 257.59,256.46 258.00,256.44 C258.42,256.42 258.84,256.39 259.26,256.37 C259.67,256.35 260.09,256.32 260.51,256.30 C260.92,256.28 261.34,256.25 261.76,256.23 C262.17,256.21 262.59,256.19 263.01,256.17 C263.42,256.14 263.84,256.12 264.26,256.10 C264.67,256.08 265.09,256.06 265.51,256.03 C265.92,256.01 266.34,255.99 266.76,255.97 C267.18,255.95 267.59,255.93 268.01,255.91 C268.43,255.89 268.84,255.87 269.26,255.85 C269.68,255.83 270.09,255.80 270.51,255.78 C270.93,255.76 271.34,255.74 271.76,255.72 C272.18,255.70 272.59,255.69 273.01,255.67 C273.43,255.65 273.84,255.63 274.26,255.61 C274.68,255.59 275.10,255.57 275.51,255.55 C275.93,255.53 276.35,255.51 276.76,255.49 C277.18,255.47 277.60,255.46 278.01,255.44 C278.43,255.42 278.85,255.40 279.26,255.38 C279.68,255.36 280.10,255.35 280.51,255.33 C280.93,255.31 281.35,255.29 281.76,255.28 C282.18,255.26 282.60,255.24 283.01,255.22 C283.43,255.21 283.85,255.19 284.27,255.17 C284.68,255.15 285.10,255.14 285.52,255.12 C285.93,255.10 286.35,255.09 286.77,255.07 C287.18,255.05 287.60,255.04 288.02,255.02 C288.43,255.01 288.85,254.99 289.27,254.97 C289.68,254.96 290.10,254.94 290.52,254.93 C290.93,254.91 291.35,254.89 291.77,254.88 C292.19,254.86 292.60,254.85 293.02,254.83 C293.44,254.82 293.85,254.80 294.27,254.79 C294.69,254.77 295.10,254.76 295.52,254.74 C295.94,254.73 296.35,254.71 296.77,254.70 C297.19,254.68 297.60,254.67 298.02,254.65 C298.44,254.64 298.85,254.63 299.27,254.61 C299.69,254.60 300.11,254.58 300.52,254.57 C300.94,254.55 301.36,254.54 301.77,254.53 C302.19,254.51 302.61,254.50 303.02,254.49 C303.44,254.47 303.86,254.46 304.27,254.45 C304.69,254.43 305.11,254.42 305.52,254.41 C305.94,254.39 306.36,254.38 306.77,254.37 C307.19,254.35 307.61,254.34 308.02,254.33 C308.44,254.32 308.86,254.30 309.28,254.29 C309.69,254.28 310.11,254.26 310.53,254.25 C310.94,254.24 311.36,254.23 311.78,254.22 C312.19,254.20 312.61,254.19 313.03,254.18 C313.44,254.17 313.86,254.16 314.28,254.14 C314.69,254.13 315.11,254.12 315.53,254.11 C315.94,254.10 316.36,254.09 316.78,254.07 C317.20,254.06 317.61,254.05 318.03,254.04 C318.45,254.03 318.86,254.02 319.28,254.01 C319.70,253.99 320.11,253.98 320.53,253.97 C320.95,253.97 321.36,253.97 321.78,253.97 C322.20,253.97 322.61,253.97 323.03,253.97 C323.45,253.97 323.86,253.97 324.28,253.97 C324.70,253.97 325.12,253.97 325.53,253.97 C325.95,253.97 326.37,253.97 326.78,253.97 C327.20,253.97 327.62,253.97 328.03,253.97 C328.45,253.97 328.87,253.97 329.28,253.97 C329.70,253.97 330.12,253.97 330.53,253.97 C330.95,253.97 331.37,253.97 331.78,253.97 C332.20,253.97 332.62,253.97 333.03,253.97 C333.45,253.97 333.87,253.97 334.29,253.97 C334.70,253.97 335.12,253.97 335.54,253.97 C335.95,253.97 336.37,253.97 336.79,253.97 C337.20,253.97 337.62,253.97 338.04,253.97 C338.45,253.97 338.87,253.97 339.29,253.97 C339.70,253.97 340.12,253.97 340.54,253.97 C340.95,253.97 341.37,253.97 341.79,253.97 C342.21,253.97 342.62,253.97 343.04,253.97 C343.46,253.97 343.87,253.97 344.29,253.97 C344.71,253.97 345.12,253.97 345.54,253.97 C345.96,253.97 346.37,253.97 346.79,253.97 C347.21,253.97 347.62,253.97 348.04,253.97 C348.46,253.97 348.87,253.97 349.29,253.97 C349.71,253.97 350.13,253.97 350.54,253.97 C350.96,253.97 351.38,253.97 351.79,253.97 C352.21,253.97 352.63,253.97 353.04,253.97 C353.46,253.97 353.88,253.97 354.29,253.97 C354.71,253.97 355.13,253.97 355.54,253.97 C355.96,253.97 356.38,253.97 356.79,253.97 C357.21,253.97 357.63,253.97 358.04,253.97 C358.46,253.97 358.88,253.97 359.30,253.97 C359.71,253.97 360.13,253.97 360.55,253.97 C360.96,253.97 361.38,253.97 361.80,253.97 C362.21,253.97 362.63,253.97 363.05,253.97 C363.46,253.97 363.88,253.97 364.30,253.97 C364.71,253.97 365.13,253.97 365.55,253.97 C365.96,253.97 366.38,253.97 366.80,253.97 C367.22,253.97 367.63,253.97 368.05,253.97 C368.47,253.97 368.88,253.97 369.30,253.97 C369.72,253.97 370.13,253.97 370.55,253.97 C370.97,253.97 371.38,253.97 371.80,253.97 C372.22,253.97 372.63,253.97 373.05,253.97 C373.47,253.97 373.88,253.97 374.30,253.97 C374.72,253.97 375.14,253.97 375.55,253.97 C375.97,253.97 376.39,253.97 376.80,253.97 C377.22,253.97 377.64,253.97 378.05,253.97 C378.47,253.97 378.89,253.97 379.30,253.97 C379.72,253.97 380.14,253.97 380.55,253.97 C380.97,253.97 381.39,253.97 381.80,253.97 C382.22,253.97 382.64,253.97 383.05,253.97 C383.47,253.97 383.89,253.97 384.31,253.97 C384.72,253.97 385.14,253.97 385.56,253.97 C385.97,253.97 386.39,253.97 386.81,253.97 C387.22,253.97 387.64,253.97 388.06,253.97 C388.47,253.97 388.89,253.97 389.31,253.97 C389.72,253.97 390.14,253.97 390.56,253.97 C390.97,253.97 391.39,253.97 391.81,253.97 C392.23,253.97 392.64,253.97 393.06,253.97 C393.48,253.97 393.89,253.97 394.31,253.97 C394.73,253.97 395.35,253.97 395.56,253.97" fill="none" stroke="#8b6516" stroke-width="2.0" stroke-linejoin="round" stroke-linecap="round" opacity="1"/>
<path d="M245.50,257.20 C245.71,257.07 246.33,256.66 246.75,256.39 C247.17,256.13 247.58,255.86 248.00,255.59 C248.42,255.33 248.83,255.06 249.25,254.80 C249.67,254.54 250.09,254.27 250.50,254.01 C250.92,253.75 251.34,253.49 251.75,253.23 C252.17,252.97 252.59,252.71 253.00,252.46 C253.42,252.20 253.84,251.94 254.25,251.69 C254.67,251.43 255.09,251.18 255.50,250.92 C255.92,250.67 256.34,250.42 256.75,250.16 C257.17,249.91 257.59,249.66 258.00,249.41 C258.42,249.16 258.84,248.91 259.26,248.66 C259.67,248.42 260.09,248.17 260.51,247.92 C260.92,247.68 261.34,247.43 261.76,247.19 C262.17,246.94 262.59,246.70 263.01,246.46 C263.42,246.22 263.84,245.97 264.26,245.73 C264.67,245.49 265.09,245.25 265.51,245.02 C265.92,244.78 266.34,244.54 266.76,244.30 C267.18,244.06 267.59,243.83 268.01,243.59 C268.43,243.36 268.84,243.12 269.26,242.89 C269.68,242.66 270.09,242.43 270.51,242.19 C270.93,241.96 271.34,241.73 271.76,241.50 C272.18,241.27 272.59,241.04 273.01,240.82 C273.43,240.59 273.84,240.36 274.26,240.13 C274.68,239.91 275.10,239.68 275.51,239.46 C275.93,239.23 276.35,239.01 276.76,238.79 C277.18,238.56 277.60,238.34 278.01,238.12 C278.43,237.90 278.85,237.68 279.26,237.46 C279.68,237.24 280.10,237.02 280.51,236.80 C280.93,236.59 281.35,236.37 281.76,236.15 C282.18,235.94 282.60,235.72 283.01,235.51 C283.43,235.29 283.85,235.08 284.27,234.87 C284.68,234.65 285.10,234.44 285.52,234.23 C285.93,234.02 286.35,233.81 286.77,233.60 C287.18,233.39 287.60,233.18 288.02,232.97 C288.43,232.76 288.85,232.56 289.27,232.35 C289.68,232.14 290.10,231.94 290.52,231.73 C290.93,231.53 291.35,231.32 291.77,231.12 C292.19,230.92 292.60,230.71 293.02,230.51 C293.44,230.31 293.85,230.11 294.27,229.91 C294.69,229.71 295.10,229.51 295.52,229.31 C295.94,229.11 296.35,228.91 296.77,228.72 C297.19,228.52 297.60,228.32 298.02,228.13 C298.44,227.93 298.85,227.74 299.27,227.54 C299.69,227.35 300.11,227.15 300.52,226.96 C300.94,226.77 301.36,226.58 301.77,226.39 C302.19,226.19 302.61,226.00 303.02,225.81 C303.44,225.62 303.86,225.43 304.27,225.25 C304.69,225.06 305.11,224.87 305.52,224.68 C305.94,224.50 306.36,224.31 306.77,224.12 C307.19,223.94 307.61,223.75 308.02,223.57 C308.44,223.39 308.86,223.20 309.28,223.02 C309.69,222.84 310.11,222.65 310.53,222.47 C310.94,222.29 311.36,222.11 311.78,221.93 C312.19,221.75 312.61,221.57 313.03,221.39 C313.44,221.21 313.86,221.04 314.28,220.86 C314.69,220.68 315.11,220.51 315.53,220.33 C315.94,220.15 316.36,219.98 316.78,219.80 C317.20,219.63 317.61,219.45 318.03,219.28 C318.45,219.11 318.86,218.94 319.28,218.76 C319.70,218.59 320.11,218.34 320.53,218.25 C320.95,218.16 321.36,218.25 321.78,218.25 C322.20,218.25 322.61,218.25 323.03,218.25 C323.45,218.25 323.86,218.25 324.28,218.25 C324.70,218.25 325.12,218.25 325.53,218.25 C325.95,218.25 326.37,218.25 326.78,218.25 C327.20,218.25 327.62,218.25 328.03,218.25 C328.45,218.25 328.87,218.25 329.28,218.25 C329.70,218.25 330.12,218.25 330.53,218.25 C330.95,218.25 331.37,218.25 331.78,218.25 C332.20,218.25 332.62,218.25 333.03,218.25 C333.45,218.25 333.87,218.25 334.29,218.25 C334.70,218.25 335.12,218.25 335.54,218.25 C335.95,218.25 336.37,218.25 336.79,218.25 C337.20,218.25 337.62,218.25 338.04,218.25 C338.45,218.25 338.87,218.25 339.29,218.25 C339.70,218.25 340.12,218.25 340.54,218.25 C340.95,218.25 341.37,218.25 341.79,218.25 C342.21,218.25 342.62,218.25 343.04,218.25 C343.46,218.25 343.87,218.25 344.29,218.25 C344.71,218.25 345.12,218.25 345.54,218.25 C345.96,218.25 346.37,218.25 346.79,218.25 C347.21,218.25 347.62,218.25 348.04,218.26 C348.46,218.26 348.87,218.26 349.29,218.26 C349.71,218.26 350.13,218.26 350.54,218.26 C350.96,218.26 351.38,218.26 351.79,218.26 C352.21,218.26 352.63,218.26 353.04,218.26 C353.46,218.26 353.88,218.26 354.29,218.26 C354.71,218.26 355.13,218.26 355.54,218.26 C355.96,218.26 356.38,218.26 356.79,218.26 C357.21,218.26 357.63,218.26 358.04,218.26 C358.46,218.26 358.88,218.26 359.30,218.26 C359.71,218.26 360.13,218.26 360.55,218.26 C360.96,218.26 361.38,218.26 361.80,218.26 C362.21,218.26 362.63,218.26 363.05,218.26 C363.46,218.26 363.88,218.26 364.30,218.26 C364.71,218.26 365.13,218.26 365.55,218.26 C365.96,218.26 366.38,218.26 366.80,218.26 C367.22,218.26 367.63,218.26 368.05,218.26 C368.47,218.26 368.88,218.26 369.30,218.26 C369.72,218.26 370.13,218.26 370.55,218.26 C370.97,218.26 371.38,218.26 371.80,218.26 C372.22,218.26 372.63,218.26 373.05,218.26 C373.47,218.26 373.88,218.26 374.30,218.26 C374.72,218.26 375.14,218.26 375.55,218.26 C375.97,218.26 376.39,218.26 376.80,218.26 C377.22,218.26 377.64,218.26 378.05,218.26 C378.47,218.26 378.89,218.26 379.30,218.26 C379.72,218.26 380.14,218.26 380.55,218.26 C380.97,218.26 381.39,218.26 381.80,218.26 C382.22,218.26 382.64,218.26 383.05,218.26 C383.47,218.26 383.89,218.26 384.31,218.26 C384.72,218.26 385.14,218.26 385.56,218.26 C385.97,218.26 386.39,218.26 386.81,218.26 C387.22,218.26 387.64,218.26 388.06,218.26 C388.47,218.26 388.89,218.26 389.31,218.26 C389.72,218.26 390.14,218.26 390.56,218.26 C390.97,218.26 391.39,218.26 391.81,218.26 C392.23,218.26 392.64,218.26 393.06,218.26 C393.48,218.26 393.89,218.26 394.31,218.26 C394.73,218.26 395.35,218.26 395.56,218.26" fill="none" stroke="#e3191b" stroke-width="2.0" stroke-linejoin="round" stroke-linecap="round" opacity="1"/>
<path d="M245.50,257.20 C245.71,256.81 246.33,255.63 246.75,254.86 C247.17,254.09 247.58,253.34 248.00,252.59 C248.42,251.85 248.83,251.12 249.25,250.40 C249.67,249.68 250.09,248.98 250.50,248.28 C250.92,247.59 251.34,246.90 251.75,246.23 C252.17,245.56 252.59,244.90 253.00,244.25 C253.42,243.60 253.84,242.96 254.25,242.33 C254.67,241.70 255.09,241.08 255.50,240.47 C255.92,239.86 256.34,239.26 256.75,238.67 C257.17,238.09 257.59,237.51 258.00,236.94 C258.42,236.37 258.84,235.81 259.26,235.26 C259.67,234.70 260.09,234.16 260.51,233.63 C260.92,233.10 261.34,232.57 261.76,232.06 C262.17,231.54 262.59,231.03 263.01,230.54 C263.42,230.04 263.84,229.55 264.26,229.06 C264.67,228.58 265.09,228.11 265.51,227.64 C265.92,227.17 266.34,226.71 266.76,226.26 C267.18,225.81 267.59,225.37 268.01,224.93 C268.43,224.49 268.84,224.06 269.26,223.64 C269.68,223.22 270.09,222.80 270.51,222.39 C270.93,221.98 271.34,221.58 271.76,221.19 C272.18,220.79 272.59,220.40 273.01,220.02 C273.43,219.64 273.84,219.26 274.26,218.89 C274.68,218.52 275.10,218.15 275.51,217.80 C275.93,217.44 276.35,217.09 276.76,216.74 C277.18,216.39 277.60,216.05 278.01,215.72 C278.43,215.38 278.85,215.05 279.26,214.73 C279.68,214.40 280.10,214.09 280.51,213.77 C280.93,213.46 281.35,213.15 281.76,212.85 C282.18,212.54 282.60,212.24 283.01,211.95 C283.43,211.66 283.85,211.37 284.27,211.08 C284.68,210.80 285.10,210.52 285.52,210.25 C285.93,209.97 286.35,209.70 286.77,209.44 C287.18,209.17 287.60,208.91 288.02,208.65 C288.43,208.39 288.85,208.14 289.27,207.89 C289.68,207.64 290.10,207.40 290.52,207.16 C290.93,206.92 291.35,206.68 291.77,206.45 C292.19,206.22 292.60,205.99 293.02,205.76 C293.44,205.54 293.85,205.32 294.27,205.10 C294.69,204.88 295.10,204.67 295.52,204.46 C295.94,204.24 296.35,204.04 296.77,203.83 C297.19,203.63 297.60,203.43 298.02,203.23 C298.44,203.04 298.85,202.84 299.27,202.65 C299.69,202.46 300.11,202.27 300.52,202.09 C300.94,201.90 301.36,201.72 301.77,201.54 C302.19,201.36 302.61,201.19 303.02,201.02 C303.44,200.84 303.86,200.67 304.27,200.51 C304.69,200.34 305.11,200.18 305.52,200.01 C305.94,199.85 306.36,199.69 306.77,199.54 C307.19,199.38 307.61,199.23 308.02,199.08 C308.44,198.92 308.86,198.78 309.28,198.63 C309.69,198.48 310.11,198.34 310.53,198.20 C310.94,198.06 311.36,197.92 311.78,197.78 C312.19,197.64 312.61,197.51 313.03,197.38 C313.44,197.24 313.86,197.11 314.28,196.98 C314.69,196.86 315.11,196.73 315.53,196.61 C315.94,196.48 316.36,196.36 316.78,196.24 C317.20,196.12 317.61,196.00 318.03,195.89 C318.45,195.77 318.86,195.66 319.28,195.54 C319.70,195.43 320.11,195.27 320.53,195.21 C320.95,195.16 321.36,195.21 321.78,195.21 C322.20,195.21 322.61,195.20 323.03,195.20 C323.45,195.20 323.86,195.20 324.28,195.20 C324.70,195.19 325.12,195.19 325.53,195.19 C325.95,195.19 326.37,195.19 326.78,195.18 C327.20,195.18 327.62,195.18 328.03,195.18 C328.45,195.18 328.87,195.18 329.28,195.17 C329.70,195.17 330.12,195.17 330.53,195.17 C330.95,195.17 331.37,195.16 331.78,195.16 C332.20,195.16 332.62,195.16 333.03,195.16 C333.45,195.15 333.87,195.15 334.29,195.15 C334.70,195.15 335.12,195.15 335.54,195.14 C335.95,195.14 336.37,195.14 336.79,195.14 C337.20,195.14 337.62,195.13 338.04,195.13 C338.45,195.13 338.87,195.13 339.29,195.13 C339.70,195.13 340.12,195.12 340.54,195.12 C340.95,195.12 341.37,195.12 341.79,195.12 C342.21,195.11 342.62,195.11 343.04,195.11 C343.46,195.11 343.87,195.11 344.29,195.10 C344.71,195.10 345.12,195.10 345.54,195.10 C345.96,195.10 346.37,195.09 346.79,195.09 C347.21,195.09 347.62,195.09 348.04,195.09 C348.46,195.08 348.87,195.08 349.29,195.08 C349.71,195.08 350.13,195.08 350.54,195.08 C350.96,195.07 351.38,195.07 351.79,195.07 C352.21,195.07 352.63,195.07 353.04,195.06 C353.46,195.06 353.88,195.06 354.29,195.06 C354.71,195.06 355.13,195.05 355.54,195.05 C355.96,195.05 356.38,195.05 356.79,195.05 C357.21,195.04 357.63,195.04 358.04,195.04 C358.46,195.04 358.88,195.04 359.30,195.03 C359.71,195.03 360.13,195.03 360.55,195.03 C360.96,195.03 361.38,195.03 361.80,195.02 C362.21,195.02 362.63,195.02 363.05,195.02 C363.46,195.02 363.88,195.01 364.30,195.01 C364.71,195.01 365.13,195.01 365.55,195.01 C365.96,195.00 366.38,195.00 366.80,195.00 C367.22,195.00 367.63,195.00 368.05,194.99 C368.47,194.99 368.88,194.99 369.30,194.99 C369.72,194.99 370.13,194.98 370.55,194.98 C370.97,194.98 371.38,194.98 371.80,194.98 C372.22,194.98 372.63,194.97 373.05,194.97 C373.47,194.97 373.88,194.97 374.30,194.97 C374.72,194.96 375.14,194.96 375.55,194.96 C375.97,194.96 376.39,194.96 376.80,194.95 C377.22,194.95 377.64,194.95 378.05,194.95 C378.47,194.95 378.89,194.94 379.30,194.94 C379.72,194.94 380.14,194.94 380.55,194.94 C380.97,194.94 381.39,194.93 381.80,194.93 C382.22,194.93 382.64,194.93 383.05,194.93 C383.47,194.92 383.89,194.92 384.31,194.92 C384.72,194.92 385.14,194.92 385.56,194.91 C385.97,194.91 386.39,194.91 386.81,194.91 C387.22,194.91 387.64,194.90 388.06,194.90 C388.47,194.90 388.89,194.90 389.31,194.90 C389.72,194.89 390.14,194.89 390.56,194.89 C390.97,194.89 391.39,194.89 391.81,194.89 C392.23,194.88 392.64,194.88 393.06,194.88 C393.48,194.88 393.89,194.88 394.31,194.87 C394.73,194.87 395.35,194.87 395.56,194.87" fill="none" stroke="#fcba12" stroke-width="2.0" stroke-linejoin="round" stroke-linecap="round" opacity="1"/>
<path d="M245.50,257.20 C245.71,256.77 246.33,255.48 246.75,254.64 C247.17,253.80 247.58,252.97 248.00,252.16 C248.42,251.35 248.83,250.55 249.25,249.76 C249.67,248.98 250.09,248.21 250.50,247.45 C250.92,246.69 251.34,245.94 251.75,245.21 C252.17,244.47 252.59,243.75 253.00,243.04 C253.42,242.33 253.84,241.64 254.25,240.95 C254.67,240.27 255.09,239.59 255.50,238.93 C255.92,238.27 256.34,237.61 256.75,236.97 C257.17,236.33 257.59,235.70 258.00,235.08 C258.42,234.46 258.84,233.86 259.26,233.26 C259.67,232.66 260.09,232.07 260.51,231.49 C260.92,230.91 261.34,230.34 261.76,229.78 C262.17,229.22 262.59,228.68 263.01,228.13 C263.42,227.59 263.84,227.06 264.26,226.54 C264.67,226.02 265.09,225.50 265.51,225.00 C265.92,224.49 266.34,223.99 266.76,223.51 C267.18,223.02 267.59,222.54 268.01,222.07 C268.43,221.59 268.84,221.13 269.26,220.67 C269.68,220.22 270.09,219.77 270.51,219.33 C270.93,218.88 271.34,218.45 271.76,218.02 C272.18,217.60 272.59,217.18 273.01,216.77 C273.43,216.35 273.84,215.95 274.26,215.55 C274.68,215.15 275.10,214.76 275.51,214.37 C275.93,213.99 276.35,213.61 276.76,213.24 C277.18,212.86 277.60,212.50 278.01,212.14 C278.43,211.78 278.85,211.42 279.26,211.08 C279.68,210.73 280.10,210.39 280.51,210.05 C280.93,209.71 281.35,209.38 281.76,209.06 C282.18,208.73 282.60,208.41 283.01,208.10 C283.43,207.78 283.85,207.47 284.27,207.17 C284.68,206.86 285.10,206.57 285.52,206.27 C285.93,205.98 286.35,205.69 286.77,205.41 C287.18,205.12 287.60,204.84 288.02,204.57 C288.43,204.29 288.85,204.02 289.27,203.76 C289.68,203.49 290.10,203.23 290.52,202.97 C290.93,202.72 291.35,202.47 291.77,202.22 C292.19,201.97 292.60,201.73 293.02,201.49 C293.44,201.25 293.85,201.01 294.27,200.78 C294.69,200.55 295.10,200.32 295.52,200.09 C295.94,199.87 296.35,199.65 296.77,199.43 C297.19,199.22 297.60,199.00 298.02,198.80 C298.44,198.59 298.85,198.38 299.27,198.18 C299.69,197.98 300.11,197.78 300.52,197.58 C300.94,197.38 301.36,197.19 301.77,197.00 C302.19,196.81 302.61,196.63 303.02,196.45 C303.44,196.26 303.86,196.08 304.27,195.91 C304.69,195.73 305.11,195.56 305.52,195.38 C305.94,195.21 306.36,195.05 306.77,194.88 C307.19,194.72 307.61,194.55 308.02,194.39 C308.44,194.23 308.86,194.08 309.28,193.92 C309.69,193.77 310.11,193.62 310.53,193.47 C310.94,193.32 311.36,193.17 311.78,193.03 C312.19,192.88 312.61,192.74 313.03,192.60 C313.44,192.46 313.86,192.33 314.28,192.19 C314.69,192.06 315.11,191.92 315.53,191.79 C315.94,191.66 316.36,191.53 316.78,191.41 C317.20,191.28 317.61,191.16 318.03,191.04 C318.45,190.92 318.86,190.80 319.28,190.68 C319.70,190.56 320.11,190.39 320.53,190.33 C320.95,190.27 321.36,190.33 321.78,190.33 C322.20,190.33 322.61,190.33 323.03,190.33 C323.45,190.33 323.86,190.33 324.28,190.33 C324.70,190.34 325.12,190.34 325.53,190.34 C325.95,190.34 326.37,190.34 326.78,190.34 C327.20,190.34 327.62,190.34 328.03,190.34 C328.45,190.34 328.87,190.34 329.28,190.34 C329.70,190.34 330.12,190.34 330.53,190.34 C330.95,190.34 331.37,190.34 331.78,190.34 C332.20,190.34 332.62,190.34 333.03,190.34 C333.45,190.35 333.87,190.35 334.29,190.35 C334.70,190.35 335.12,190.35 335.54,190.35 C335.95,190.35 336.37,190.35 336.79,190.35 C337.20,190.35 337.62,190.35 338.04,190.35 C338.45,190.35 338.87,190.35 339.29,190.35 C339.70,190.35 340.12,190.35 340.54,190.35 C340.95,190.35 341.37,190.35 341.79,190.35 C342.21,190.36 342.62,190.36 343.04,190.36 C343.46,190.36 343.87,190.36 344.29,190.36 C344.71,190.36 345.12,190.36 345.54,190.36 C345.96,190.36 346.37,190.36 346.79,190.36 C347.21,190.36 347.62,190.36 348.04,190.36 C348.46,190.36 348.87,190.36 349.29,190.36 C349.71,190.36 350.13,190.36 350.54,190.36 C350.96,190.37 351.38,190.37 351.79,190.37 C352.21,190.37 352.63,190.37 353.04,190.37 C353.46,190.37 353.88,190.37 354.29,190.37 C354.71,190.37 355.13,190.37 355.54,190.37 C355.96,190.37 356.38,190.37 356.79,190.37 C357.21,190.37 357.63,190.37 358.04,190.37 C358.46,190.37 358.88,190.37 359.30,190.37 C359.71,190.38 360.13,190.38 360.55,190.38 C360.96,190.38 361.38,190.38 361.80,190.38 C362.21,190.38 362.63,190.38 363.05,190.38 C363.46,190.38 363.88,190.38 364.30,190.38 C364.71,190.38 365.13,190.38 365.55,190.38 C365.96,190.38 366.38,190.38 366.80,190.38 C367.22,190.38 367.63,190.38 368.05,190.38 C368.47,190.38 368.88,190.39 369.30,190.39 C369.72,190.39 370.13,190.39 370.55,190.39 C370.97,190.39 371.38,190.39 371.80,190.39 C372.22,190.39 372.63,190.39 373.05,190.39 C373.47,190.39 373.88,190.39 374.30,190.39 C374.72,190.39 375.14,190.39 375.55,190.39 C375.97,190.39 376.39,190.39 376.80,190.39 C377.22,190.39 377.64,190.40 378.05,190.40 C378.47,190.40 378.89,190.40 379.30,190.40 C379.72,190.40 380.14,190.40 380.55,190.40 C380.97,190.40 381.39,190.40 381.80,190.40 C382.22,190.40 382.64,190.40 383.05,190.40 C383.47,190.40 383.89,190.40 384.31,190.40 C384.72,190.40 385.14,190.40 385.56,190.40 C385.97,190.40 386.39,190.41 386.81,190.41 C387.22,190.41 387.64,190.41 388.06,190.41 C388.47,190.41 388.89,190.41 389.31,190.41 C389.72,190.41 390.14,190.41 390.56,190.41 C390.97,190.41 391.39,190.41 391.81,190.41 C392.23,190.41 392.64,190.41 393.06,190.41 C393.48,190.41 393.89,190.41 394.31,190.41 C394.73,190.41 395.35,190.42 395.56,190.42" fill="none" stroke="#f0861e" stroke-width="2.0" stroke-linejoin="round" stroke-linecap="round" opacity="1"/>
<path d="M245.50,257.20 C245.71,256.78 246.33,255.51 246.75,254.69 C247.17,253.87 247.58,253.06 248.00,252.27 C248.42,251.48 248.83,250.70 249.25,249.93 C249.67,249.16 250.09,248.41 250.50,247.66 C250.92,246.92 251.34,246.19 251.75,245.47 C252.17,244.76 252.59,244.05 253.00,243.36 C253.42,242.66 253.84,241.98 254.25,241.31 C254.67,240.64 255.09,239.98 255.50,239.34 C255.92,238.69 256.34,238.05 256.75,237.42 C257.17,236.80 257.59,236.18 258.00,235.58 C258.42,234.97 258.84,234.38 259.26,233.79 C259.67,233.20 260.09,232.63 260.51,232.06 C260.92,231.50 261.34,230.94 261.76,230.39 C262.17,229.85 262.59,229.31 263.01,228.78 C263.42,228.25 263.84,227.73 264.26,227.22 C264.67,226.71 265.09,226.21 265.51,225.71 C265.92,225.22 266.34,224.73 266.76,224.25 C267.18,223.78 267.59,223.31 268.01,222.85 C268.43,222.38 268.84,221.93 269.26,221.48 C269.68,221.04 270.09,220.60 270.51,220.17 C270.93,219.74 271.34,219.31 271.76,218.89 C272.18,218.48 272.59,218.07 273.01,217.66 C273.43,217.26 273.84,216.86 274.26,216.47 C274.68,216.08 275.10,215.70 275.51,215.32 C275.93,214.95 276.35,214.58 276.76,214.21 C277.18,213.85 277.60,213.49 278.01,213.14 C278.43,212.79 278.85,212.44 279.26,212.10 C279.68,211.76 280.10,211.43 280.51,211.10 C280.93,210.77 281.35,210.44 281.76,210.13 C282.18,209.81 282.60,209.50 283.01,209.19 C283.43,208.88 283.85,208.58 284.27,208.28 C284.68,207.98 285.10,207.69 285.52,207.40 C285.93,207.12 286.35,206.83 286.77,206.56 C287.18,206.28 287.60,206.01 288.02,205.74 C288.43,205.47 288.85,205.20 289.27,204.95 C289.68,204.69 290.10,204.43 290.52,204.18 C290.93,203.93 291.35,203.68 291.77,203.44 C292.19,203.20 292.60,202.96 293.02,202.72 C293.44,202.49 293.85,202.26 294.27,202.03 C294.69,201.81 295.10,201.58 295.52,201.36 C295.94,201.14 296.35,200.93 296.77,200.72 C297.19,200.51 297.60,200.30 298.02,200.09 C298.44,199.89 298.85,199.69 299.27,199.49 C299.69,199.29 300.11,199.10 300.52,198.91 C300.94,198.71 301.36,198.53 301.77,198.34 C302.19,198.16 302.61,197.97 303.02,197.80 C303.44,197.62 303.86,197.44 304.27,197.27 C304.69,197.10 305.11,196.93 305.52,196.76 C305.94,196.59 306.36,196.43 306.77,196.27 C307.19,196.10 307.61,195.95 308.02,195.79 C308.44,195.63 308.86,195.48 309.28,195.33 C309.69,195.18 310.11,195.03 310.53,194.88 C310.94,194.74 311.36,194.59 311.78,194.45 C312.19,194.31 312.61,194.17 313.03,194.04 C313.44,193.90 313.86,193.77 314.28,193.64 C314.69,193.50 315.11,193.37 315.53,193.25 C315.94,193.12 316.36,192.99 316.78,192.87 C317.20,192.75 317.61,192.63 318.03,192.51 C318.45,192.39 318.86,192.27 319.28,192.16 C319.70,192.04 320.11,191.87 320.53,191.82 C320.95,191.76 321.36,191.82 321.78,191.82 C322.20,191.82 322.61,191.82 323.03,191.82 C323.45,191.82 323.86,191.82 324.28,191.82 C324.70,191.82 325.12,191.82 325.53,191.82 C325.95,191.82 326.37,191.82 326.78,191.82 C327.20,191.82 327.62,191.82 328.03,191.83 C328.45,191.83 328.87,191.83 329.28,191.83 C329.70,191.83 330.12,191.83 330.53,191.83 C330.95,191.83 331.37,191.83 331.78,191.83 C332.20,191.83 332.62,191.83 333.03,191.83 C333.45,191.83 333.87,191.83 334.29,191.83 C334.70,191.83 335.12,191.83 335.54,191.83 C335.95,191.83 336.37,191.83 336.79,191.83 C337.20,191.84 337.62,191.84 338.04,191.84 C338.45,191.84 338.87,191.84 339.29,191.84 C339.70,191.84 340.12,191.84 340.54,191.84 C340.95,191.84 341.37,191.84 341.79,191.84 C342.21,191.84 342.62,191.84 343.04,191.84 C343.46,191.84 343.87,191.84 344.29,191.84 C344.71,191.84 345.12,191.84 345.54,191.84 C345.96,191.84 346.37,191.85 346.79,191.85 C347.21,191.85 347.62,191.85 348.04,191.85 C348.46,191.85 348.87,191.85 349.29,191.85 C349.71,191.85 350.13,191.85 350.54,191.85 C350.96,191.85 351.38,191.85 351.79,191.85 C352.21,191.85 352.63,191.85 353.04,191.85 C353.46,191.85 353.88,191.85 354.29,191.85 C354.71,191.85 355.13,191.85 355.54,191.86 C355.96,191.86 356.38,191.86 356.79,191.86 C357.21,191.86 357.63,191.86 358.04,191.86 C358.46,191.86 358.88,191.86 359.30,191.86 C359.71,191.86 360.13,191.86 360.55,191.86 C360.96,191.86 361.38,191.86 361.80,191.86 C362.21,191.86 362.63,191.86 363.05,191.86 C363.46,191.86 363.88,191.86 364.30,191.87 C364.71,191.87 365.13,191.87 365.55,191.87 C365.96,191.87 366.38,191.87 366.80,191.87 C367.22,191.87 367.63,191.87 368.05,191.87 C368.47,191.87 368.88,191.87 369.30,191.87 C369.72,191.87 370.13,191.87 370.55,191.87 C370.97,191.87 371.38,191.87 371.80,191.87 C372.22,191.87 372.63,191.87 373.05,191.87 C373.47,191.88 373.88,191.88 374.30,191.88 C374.72,191.88 375.14,191.88 375.55,191.88 C375.97,191.88 376.39,191.88 376.80,191.88 C377.22,191.88 377.64,191.88 378.05,191.88 C378.47,191.88 378.89,191.88 379.30,191.88 C379.72,191.88 380.14,191.88 380.55,191.88 C380.97,191.88 381.39,191.88 381.80,191.88 C382.22,191.88 382.64,191.89 383.05,191.89 C383.47,191.89 383.89,191.89 384.31,191.89 C384.72,191.89 385.14,191.89 385.56,191.89 C385.97,191.89 386.39,191.89 386.81,191.89 C387.22,191.89 387.64,191.89 388.06,191.89 C388.47,191.89 388.89,191.89 389.31,191.89 C389.72,191.89 390.14,191.89 390.56,191.89 C390.97,191.89 391.39,191.89 391.81,191.90 C392.23,191.90 392.64,191.90 393.06,191.90 C393.48,191.90 393.89,191.90 394.31,191.90 C394.73,191.90 395.35,191.90 395.56,191.90" fill="none" stroke="#6d0e10" stroke-width="2.0" stroke-linejoin="round" stroke-linecap="round" opacity="1"/>
<line x1="320.7" y1="163.5" x2="320.7" y2="257.2" stroke="#555" stroke-width="0.65" stroke-dasharray="1.3,1.3"/>
<rect x="245.50" y="163.50" width="150.00" height="94.00" fill="none" stroke="#808080" stroke-width="1"/>
<text transform="translate(244.30,243.72) scale(0.92,1)" font-size="9.4" text-anchor="end" font-weight="normal" fill="#222" stroke="#222" stroke-width="0.3" >0.2</text>
<text transform="translate(244.30,226.24) scale(0.92,1)" font-size="9.4" text-anchor="end" font-weight="normal" fill="#222" stroke="#222" stroke-width="0.3" >0.4</text>
<text transform="translate(244.30,208.76) scale(0.92,1)" font-size="9.4" text-anchor="end" font-weight="normal" fill="#222" stroke="#222" stroke-width="0.3" >0.6</text>
<text transform="translate(244.30,191.28) scale(0.92,1)" font-size="9.4" text-anchor="end" font-weight="normal" fill="#222" stroke="#222" stroke-width="0.3" >0.8</text>
<text transform="translate(244.30,173.80) scale(0.92,1)" font-size="9.4" text-anchor="end" font-weight="normal" fill="#222" stroke="#222" stroke-width="0.3" >1.0</text>
<text transform="translate(246.50,264.90) scale(0.92,1)" font-size="9.4" text-anchor="middle" font-weight="normal" fill="#222" stroke="#222" stroke-width="0.3" >0</text>
<text transform="translate(287.50,264.90) scale(0.92,1)" font-size="9.4" text-anchor="middle" font-weight="normal" fill="#222" stroke="#222" stroke-width="0.3" >100</text>
<text transform="translate(328.50,264.90) scale(0.92,1)" font-size="9.4" text-anchor="middle" font-weight="normal" fill="#222" stroke="#222" stroke-width="0.3" >200</text>
<text transform="translate(369.50,264.90) scale(0.92,1)" font-size="9.4" text-anchor="middle" font-weight="normal" fill="#222" stroke="#222" stroke-width="0.3" >300</text>
<text transform="translate(320.50,276.80) scale(0.92,1)" font-size="9.5" text-anchor="middle" font-weight="normal" fill="#222" stroke="#222" stroke-width="0.3" >Time (sec)</text>
<text font-size="9.5" text-anchor="middle" fill="#222" stroke="#222" stroke-width="0.3" transform="translate(225.60,210.40) rotate(-90) scale(0.92,1)">Shift (nm)</text>
<text transform="translate(320.50,158.90) scale(0.96,1)" font-size="12" text-anchor="middle" font-weight="normal" fill="#222" stroke="#222" stroke-width="0.3" >MPE8</text>
<text transform="translate(209.50,152.00) scale(1.0,1)" font-size="12" text-anchor="start" font-weight="bold" fill="#000" >e</text>
<rect x="398.60" y="177.10" width="60.60" height="66.60" rx="0.8" fill="#fff" stroke="#e4e4e4" stroke-width="0.8"/>
<line x1="400.70" y1="183.20" x2="407.10" y2="183.20" stroke="#6d0e10" stroke-width="1.6"/>
<text transform="translate(409.20,186.35) scale(0.94,1)" font-size="9.25" text-anchor="start" font-weight="normal" fill="#222" stroke="#222" stroke-width="0.3" >M-104</text>
<line x1="400.70" y1="194.40" x2="407.10" y2="194.40" stroke="#8b6516" stroke-width="1.6"/>
<text transform="translate(409.20,197.55) scale(0.94,1)" font-size="9.25" text-anchor="start" font-weight="normal" fill="#222" stroke="#222" stroke-width="0.3" >M-305</text>
<line x1="400.70" y1="205.60" x2="407.10" y2="205.60" stroke="#e3191b" stroke-width="1.6"/>
<text transform="translate(409.20,208.75) scale(0.94,1)" font-size="9.25" text-anchor="start" font-weight="normal" fill="#222" stroke="#222" stroke-width="0.3" >115-BV</text>
<line x1="400.70" y1="216.80" x2="407.10" y2="216.80" stroke="#f0861e" stroke-width="1.6"/>
<text transform="translate(409.20,219.95) scale(0.94,1)" font-size="9.25" text-anchor="start" font-weight="normal" fill="#222" stroke="#222" stroke-width="0.3" >DS-CavEs</text>
<line x1="400.70" y1="228.00" x2="407.10" y2="228.00" stroke="#fcba12" stroke-width="1.6"/>
<text transform="translate(409.20,231.15) scale(0.94,1)" font-size="9.25" text-anchor="start" font-weight="normal" fill="#222" stroke="#222" stroke-width="0.3" >DS-CavEs2</text>
<line x1="400.70" y1="239.20" x2="407.10" y2="239.20" stroke="#fde21c" stroke-width="1.6"/>
<text transform="translate(409.20,242.35) scale(0.94,1)" font-size="9.25" text-anchor="start" font-weight="normal" fill="#222" stroke="#222" stroke-width="0.3" >Post</text>
<line x1="514.0" y1="177.2" x2="622.0" y2="177.2" stroke="#555" stroke-width="0.65" stroke-dasharray="1.3,1.3"/>
<path d="M514.20,168.80 C515.17,168.70 517.87,168.23 520.00,168.20 C522.13,168.17 524.50,168.05 527.00,168.60 C529.50,169.15 532.33,170.47 535.00,171.50 C537.67,172.53 540.50,173.88 543.00,174.80 C545.50,175.72 547.83,176.47 550.00,177.00 C552.17,177.53 554.40,177.50 556.00,178.00 C557.60,178.50 558.27,179.03 559.60,180.00 C560.93,180.97 562.60,183.63 564.00,183.80 C565.40,183.97 566.83,182.05 568.00,181.00 C569.17,179.95 569.67,178.25 571.00,177.50 C572.33,176.75 572.83,176.72 576.00,176.50 C579.17,176.28 582.33,176.62 590.00,176.20 C597.67,175.78 616.67,174.37 622.00,174.00" fill="none" stroke="#e3191b" stroke-width="2.0" stroke-linejoin="round" stroke-linecap="round" opacity="1"/>
<path d="M514.20,171.00 C516.00,171.13 521.53,171.38 525.00,171.80 C528.47,172.22 531.67,172.80 535.00,173.50 C538.33,174.20 541.92,175.33 545.00,176.00 C548.08,176.67 551.17,176.67 553.50,177.50 C555.83,178.33 556.95,179.43 559.00,181.00 C561.05,182.57 563.97,186.57 565.80,186.90 C567.63,187.23 568.40,184.65 570.00,183.00 C571.60,181.35 572.90,178.30 575.40,177.00 C577.90,175.70 580.48,175.73 585.00,175.20 C589.52,174.67 596.33,174.25 602.50,173.80 C608.67,173.35 618.75,172.72 622.00,172.50" fill="none" stroke="#8b6516" stroke-width="2.0" stroke-linejoin="round" stroke-linecap="round" opacity="1"/>
<path d="M514.20,173.00 C516.00,173.03 521.53,172.87 525.00,173.20 C528.47,173.53 531.67,174.37 535.00,175.00 C538.33,175.63 540.83,176.53 545.00,177.00 C549.17,177.47 556.50,177.38 560.00,177.80 C563.50,178.22 564.33,178.47 566.00,179.50 C567.67,180.53 568.58,182.77 570.00,184.00 C571.42,185.23 573.17,187.07 574.50,186.90 C575.83,186.73 576.83,184.62 578.00,183.00 C579.17,181.38 579.50,178.33 581.50,177.20 C583.50,176.07 586.08,176.52 590.00,176.20 C593.92,175.88 599.67,175.70 605.00,175.30 C610.33,174.90 619.17,174.05 622.00,173.80" fill="none" stroke="#6d0e10" stroke-width="2.0" stroke-linejoin="round" stroke-linecap="round" opacity="1"/>
<path d="M514.20,176.00 C518.50,176.08 532.37,176.33 540.00,176.50 C547.63,176.67 554.40,176.75 560.00,177.00 C565.60,177.25 570.77,177.50 573.60,178.00 C576.43,178.50 575.83,179.25 577.00,180.00 C578.17,180.75 579.38,180.83 580.60,182.50 C581.82,184.17 583.12,187.08 584.30,190.00 C585.48,192.92 586.62,197.13 587.70,200.00 C588.78,202.87 589.87,207.20 590.80,207.20 C591.73,207.20 592.43,203.37 593.30,200.00 C594.17,196.63 595.12,190.93 596.00,187.00 C596.88,183.07 597.60,179.07 598.60,176.40 C599.60,173.73 600.77,172.32 602.00,171.00 C603.23,169.68 603.83,169.08 606.00,168.50 C608.17,167.92 612.33,168.17 615.00,167.50 C617.67,166.83 620.83,165.00 622.00,164.50" fill="none" stroke="#fcba12" stroke-width="2.0" stroke-linejoin="round" stroke-linecap="round" opacity="1"/>
<path d="M514.20,175.50 C516.83,175.58 523.98,175.83 530.00,176.00 C536.02,176.17 545.80,176.20 550.30,176.50 C554.80,176.80 555.05,177.47 557.00,177.80 C558.95,178.13 560.53,178.13 562.00,178.50 C563.47,178.87 564.80,178.42 565.80,180.00 C566.80,181.58 567.20,184.67 568.00,188.00 C568.80,191.33 569.68,193.83 570.60,200.00 C571.52,206.17 572.53,215.58 573.50,225.00 C574.47,234.42 575.57,254.83 576.40,256.50 C577.23,258.17 577.80,244.42 578.50,235.00 C579.20,225.58 579.98,209.50 580.60,200.00 C581.22,190.50 581.68,183.00 582.20,178.00 C582.72,173.00 582.93,172.08 583.70,170.00 C584.47,167.92 584.92,166.33 586.80,165.50 C588.68,164.67 590.30,164.88 595.00,165.00 C599.70,165.12 610.50,166.33 615.00,166.20 C619.50,166.07 620.83,164.53 622.00,164.20" fill="none" stroke="#f0861e" stroke-width="2.0" stroke-linejoin="round" stroke-linecap="round" opacity="1"/>
<rect x="514.50" y="163.50" width="108.00" height="94.00" fill="none" stroke="#808080" stroke-width="1"/>
<text transform="translate(512.80,180.40) scale(0.92,1)" font-size="9.4" text-anchor="end" font-weight="normal" fill="#222" stroke="#222" stroke-width="0.3" >0</text>
<text transform="translate(512.80,207.00) scale(0.92,1)" font-size="9.4" text-anchor="end" font-weight="normal" fill="#222" stroke="#222" stroke-width="0.3" >-400</text>
<text transform="translate(512.80,233.60) scale(0.92,1)" font-size="9.4" text-anchor="end" font-weight="normal" fill="#222" stroke="#222" stroke-width="0.3" >-800</text>
<text transform="translate(512.80,260.20) scale(0.92,1)" font-size="9.4" text-anchor="end" font-weight="normal" fill="#222" stroke="#222" stroke-width="0.3" >-1200</text>
<text transform="translate(522.40,265.90) scale(0.92,1)" font-size="9.4" text-anchor="middle" font-weight="normal" fill="#222" stroke="#222" stroke-width="0.3" >30</text>
<text transform="translate(555.64,265.90) scale(0.92,1)" font-size="9.4" text-anchor="middle" font-weight="normal" fill="#222" stroke="#222" stroke-width="0.3" >50</text>
<text transform="translate(588.88,265.90) scale(0.92,1)" font-size="9.4" text-anchor="middle" font-weight="normal" fill="#222" stroke="#222" stroke-width="0.3" >70</text>
<text transform="translate(622.12,265.90) scale(0.92,1)" font-size="9.4" text-anchor="middle" font-weight="normal" fill="#222" stroke="#222" stroke-width="0.3" >90</text>
<text transform="translate(568.20,276.60) scale(0.92,1)" font-size="9.5" text-anchor="middle" font-weight="normal" fill="#222" stroke="#222" stroke-width="0.3" >Temperature (ºC)</text>
<text font-size="9.5" text-anchor="middle" fill="#222" stroke="#222" stroke-width="0.3" transform="translate(490.30,211.40) rotate(-90) scale(0.92,1)">HEX derivative</text>
<text transform="translate(568.20,158.90) scale(0.96,1)" font-size="12" text-anchor="middle" font-weight="normal" fill="#222" stroke="#222" stroke-width="0.3" >hMPV</text>
<text transform="translate(475.50,152.00) scale(1.0,1)" font-size="12" text-anchor="start" font-weight="bold" fill="#000" >f</text>
<rect x="624.50" y="182.40" width="59.90" height="56.50" rx="0.8" fill="#fff" stroke="#e4e4e4" stroke-width="0.8"/>
<line x1="626.80" y1="188.20" x2="633.00" y2="188.20" stroke="#6d0e10" stroke-width="1.6"/>
<text transform="translate(635.20,191.35) scale(0.94,1)" font-size="9.25" text-anchor="start" font-weight="normal" fill="#222" stroke="#222" stroke-width="0.3" >M-104</text>
<line x1="626.80" y1="199.45" x2="633.00" y2="199.45" stroke="#8b6516" stroke-width="1.6"/>
<text transform="translate(635.20,202.60) scale(0.94,1)" font-size="9.25" text-anchor="start" font-weight="normal" fill="#222" stroke="#222" stroke-width="0.3" >M-305</text>
<line x1="626.80" y1="210.70" x2="633.00" y2="210.70" stroke="#e3191b" stroke-width="1.6"/>
<text transform="translate(635.20,213.85) scale(0.94,1)" font-size="9.25" text-anchor="start" font-weight="normal" fill="#222" stroke="#222" stroke-width="0.3" >115-BV</text>
<line x1="626.80" y1="221.95" x2="633.00" y2="221.95" stroke="#f0861e" stroke-width="1.6"/>
<text transform="translate(635.20,225.10) scale(0.94,1)" font-size="9.25" text-anchor="start" font-weight="normal" fill="#222" stroke="#222" stroke-width="0.3" >DS-CavEs</text>
<line x1="626.80" y1="233.20" x2="633.00" y2="233.20" stroke="#fcba12" stroke-width="1.6"/>
<text transform="translate(635.20,236.35) scale(0.94,1)" font-size="9.25" text-anchor="start" font-weight="normal" fill="#222" stroke="#222" stroke-width="0.3" >DS-CavEs2</text>
<path d="M37.50,397.00 C41.25,396.97 54.92,396.88 60.00,396.80 C65.08,396.72 65.95,396.67 68.00,396.50 C70.05,396.33 70.97,396.25 72.30,395.80 C73.63,395.35 74.72,394.28 76.00,393.80 C77.28,393.32 78.67,392.90 80.00,392.90 C81.33,392.90 82.58,393.32 84.00,393.80 C85.42,394.28 86.67,395.32 88.50,395.80 C90.33,396.28 88.08,396.53 95.00,396.70 C101.92,396.87 124.17,396.78 130.00,396.80" fill="none" stroke="#2cd4b5" stroke-width="2.0" stroke-linejoin="round" stroke-linecap="round" opacity="1"/>
<path d="M37.50,397.30 C40.42,397.13 50.58,396.68 55.00,396.30 C59.42,395.92 61.88,395.72 64.00,395.00 C66.12,394.28 66.43,394.33 67.70,392.00 C68.97,389.67 70.43,385.67 71.60,381.00 C72.77,376.33 73.73,370.83 74.70,364.00 C75.67,357.17 76.60,347.67 77.40,340.00 C78.20,332.33 78.72,323.92 79.50,318.00 C80.28,312.08 81.27,304.50 82.10,304.50 C82.93,304.50 83.77,312.42 84.50,318.00 C85.23,323.58 85.43,330.00 86.50,338.00 C87.57,346.00 89.27,358.75 90.90,366.00 C92.53,373.25 94.62,377.58 96.30,381.50 C97.98,385.42 99.33,387.38 101.00,389.50 C102.67,391.62 101.47,393.02 106.30,394.20 C111.13,395.38 126.05,396.20 130.00,396.60" fill="none" stroke="#1f7db6" stroke-width="2.0" stroke-linejoin="round" stroke-linecap="round" opacity="1"/>
<path d="M37.50,397.30 C40.42,397.08 50.58,396.42 55.00,396.00 C59.42,395.58 61.88,395.55 64.00,394.80 C66.12,394.05 66.43,393.80 67.70,391.50 C68.97,389.20 70.43,385.58 71.60,381.00 C72.77,376.42 73.73,370.83 74.70,364.00 C75.67,357.17 76.52,347.00 77.40,340.00 C78.28,333.00 79.13,326.05 80.00,322.00 C80.87,317.95 81.77,315.70 82.60,315.70 C83.43,315.70 84.27,318.28 85.00,322.00 C85.73,325.72 86.02,330.68 87.00,338.00 C87.98,345.32 89.35,358.68 90.90,365.90 C92.45,373.12 94.62,377.62 96.30,381.30 C97.98,384.98 99.33,386.30 101.00,388.00 C102.67,389.70 101.47,390.50 106.30,391.50 C111.13,392.50 126.05,393.58 130.00,394.00" fill="none" stroke="#3ba83a" stroke-width="2.0" stroke-linejoin="round" stroke-linecap="round" opacity="1"/>
<path d="M37.50,397.30 C40.42,397.08 50.58,396.42 55.00,396.00 C59.42,395.58 61.88,395.55 64.00,394.80 C66.12,394.05 66.43,393.80 67.70,391.50 C68.97,389.20 70.43,385.58 71.60,381.00 C72.77,376.42 73.73,370.83 74.70,364.00 C75.67,357.17 76.52,347.67 77.40,340.00 C78.28,332.33 79.06,322.92 80.00,318.00 C80.94,313.08 82.13,310.17 83.05,310.50 C83.97,310.83 84.76,315.42 85.50,320.00 C86.24,324.58 86.53,330.35 87.50,338.00 C88.47,345.65 89.75,358.68 91.30,365.90 C92.85,373.12 95.10,377.62 96.80,381.30 C98.50,384.98 99.92,386.35 101.50,388.00 C103.08,389.65 101.55,390.20 106.30,391.20 C111.05,392.20 126.05,393.53 130.00,394.00" fill="none" stroke="#d6d81f" stroke-width="2.0" stroke-linejoin="round" stroke-linecap="round" opacity="1"/>
<path d="M37.50,397.30 C39.58,397.13 46.25,396.68 50.00,396.30 C53.75,395.92 57.67,395.38 60.00,395.00 C62.33,394.62 62.72,394.73 64.00,394.00 C65.28,393.27 66.43,392.72 67.70,390.60 C68.97,388.48 70.43,385.42 71.60,381.30 C72.77,377.18 73.60,373.62 74.70,365.90 C75.80,358.18 77.23,343.48 78.20,335.00 C79.17,326.52 79.62,319.48 80.50,315.00 C81.38,310.52 82.58,307.60 83.50,308.10 C84.42,308.60 85.28,313.52 86.00,318.00 C86.72,322.48 86.60,327.02 87.80,335.00 C89.00,342.98 91.40,358.18 93.20,365.90 C95.00,373.62 97.13,377.87 98.60,381.30 C100.07,384.73 100.72,385.22 102.00,386.50 C103.28,387.78 103.30,388.20 106.30,389.00 C109.30,389.80 116.05,390.63 120.00,391.30 C123.95,391.97 128.33,392.72 130.00,393.00" fill="none" stroke="#1b5a36" stroke-width="2.0" stroke-linejoin="round" stroke-linecap="round" opacity="1"/>
<rect x="37.50" y="303.50" width="93.00" height="95.00" fill="none" stroke="#808080" stroke-width="1"/>
<text transform="translate(36.80,389.39) scale(0.92,1)" font-size="9.4" text-anchor="end" font-weight="normal" fill="#222" stroke="#222" stroke-width="0.3" >50</text>
<text transform="translate(36.80,365.87) scale(0.92,1)" font-size="9.4" text-anchor="end" font-weight="normal" fill="#222" stroke="#222" stroke-width="0.3" >150</text>
<text transform="translate(36.80,342.35) scale(0.92,1)" font-size="9.4" text-anchor="end" font-weight="normal" fill="#222" stroke="#222" stroke-width="0.3" >250</text>
<text transform="translate(36.80,318.83) scale(0.92,1)" font-size="9.4" text-anchor="end" font-weight="normal" fill="#222" stroke="#222" stroke-width="0.3" >350</text>
<text transform="translate(37.50,407.10) scale(0.92,1)" font-size="9.4" text-anchor="middle" font-weight="normal" fill="#222" stroke="#222" stroke-width="0.3" >10</text>
<text transform="translate(60.48,407.10) scale(0.92,1)" font-size="9.4" text-anchor="middle" font-weight="normal" fill="#222" stroke="#222" stroke-width="0.3" >12</text>
<text transform="translate(83.46,407.10) scale(0.92,1)" font-size="9.4" text-anchor="middle" font-weight="normal" fill="#222" stroke="#222" stroke-width="0.3" >14</text>
<text transform="translate(106.44,407.10) scale(0.92,1)" font-size="9.4" text-anchor="middle" font-weight="normal" fill="#222" stroke="#222" stroke-width="0.3" >16</text>
<text transform="translate(129.42,407.10) scale(0.92,1)" font-size="9.4" text-anchor="middle" font-weight="normal" fill="#222" stroke="#222" stroke-width="0.3" >18</text>
<text transform="translate(83.80,417.80) scale(0.92,1)" font-size="9.5" text-anchor="middle" font-weight="normal" fill="#222" stroke="#222" stroke-width="0.3" >Elution volume (mL)</text>
<text font-size="9.5" text-anchor="middle" fill="#222" stroke="#222" stroke-width="0.3" transform="translate(16.40,351.20) rotate(-90) scale(0.92,1)">Absorbance (mAU)</text>
<text transform="translate(83.80,299.90) scale(0.96,1)" font-size="12" text-anchor="middle" font-weight="normal" fill="#222" stroke="#222" stroke-width="0.3" >SARS-CoV-2</text>
<text transform="translate(0.80,292.40) scale(1.0,1)" font-size="12" text-anchor="start" font-weight="bold" fill="#000" >g</text>
<rect x="132.80" y="323.30" width="59.90" height="56.10" rx="0.8" fill="#fff" stroke="#e4e4e4" stroke-width="0.8"/>
<line x1="135.10" y1="329.00" x2="141.70" y2="329.00" stroke="#1b5a36" stroke-width="1.6"/>
<text transform="translate(143.40,332.15) scale(0.94,1)" font-size="9.25" text-anchor="start" font-weight="normal" fill="#222" stroke="#222" stroke-width="0.3" >Spk-M</text>
<line x1="135.10" y1="340.30" x2="141.70" y2="340.30" stroke="#3ba83a" stroke-width="1.6"/>
<text transform="translate(143.40,343.45) scale(0.94,1)" font-size="9.25" text-anchor="start" font-weight="normal" fill="#222" stroke="#222" stroke-width="0.3" >Spk-R</text>
<line x1="135.10" y1="351.60" x2="141.70" y2="351.60" stroke="#d6d81f" stroke-width="1.6"/>
<text transform="translate(143.40,354.75) scale(0.94,1)" font-size="9.25" text-anchor="start" font-weight="normal" fill="#222" stroke="#222" stroke-width="0.3" >Spk-F</text>
<line x1="135.10" y1="362.90" x2="141.70" y2="362.90" stroke="#2cd4b5" stroke-width="1.6"/>
<text transform="translate(143.40,366.05) scale(0.94,1)" font-size="9.25" text-anchor="start" font-weight="normal" fill="#222" stroke="#222" stroke-width="0.3" >S-2P</text>
<line x1="135.10" y1="374.20" x2="141.70" y2="374.20" stroke="#1f7db6" stroke-width="1.6"/>
<text transform="translate(143.40,377.35) scale(0.94,1)" font-size="9.25" text-anchor="start" font-weight="normal" fill="#222" stroke="#222" stroke-width="0.3" >HexaPro</text>
<path d="M245.50,391.17 L246.00,390.86 L246.50,391.02 L247.00,391.99 L247.50,389.90 L248.00,387.29 L248.50,384.35 L249.00,381.00 L249.50,378.44 L250.00,376.34 L250.50,374.63 L251.00,372.64 L251.50,370.94 L252.00,368.91 L252.50,367.97 L253.00,366.78 L253.50,365.26 L254.00,364.46 L254.50,362.68 L255.00,361.61 L255.50,360.51 L256.00,360.15 L256.50,359.25 L257.00,357.34 L257.50,356.34 L258.00,355.85 L258.50,355.07 L259.00,353.53 L259.50,353.68 L260.00,352.90 L260.50,352.20 L261.00,352.24 L261.50,351.07 L262.00,350.66 L262.50,350.28 L263.00,349.43 L263.50,349.41 L264.00,348.04 L264.50,347.32 L265.00,347.39 L265.50,346.89 L266.00,346.40 L266.50,346.11 L267.00,346.02 L267.50,345.21 L268.00,344.98 L268.50,345.35 L269.00,345.07 L269.50,344.83 L270.00,343.95 L270.50,343.73 L271.00,342.70 L271.50,343.25 L272.00,342.21 L272.50,341.67 L273.00,342.52 L273.50,341.99 L274.00,341.64 L274.50,341.91 L275.00,341.52 L275.50,340.75 L276.00,340.49 L276.50,340.89 L277.00,340.50 L277.50,339.64 L278.00,339.93 L278.50,340.00 L279.00,339.98 L279.50,339.79 L280.00,339.76 L280.50,339.52 L281.00,338.84 L281.50,338.37 L282.00,339.09 L282.50,338.75 L283.00,338.82 L283.50,338.73 L284.00,338.98 L284.50,338.71 L285.00,338.60 L285.50,338.34 L286.00,338.58 L286.50,338.32 L287.00,337.71 L287.50,337.56 L288.00,337.62 L288.50,337.28 L289.00,337.22 L289.50,336.53 L290.00,337.01 L290.50,337.40 L291.00,337.78 L291.50,337.55 L292.00,336.47 L292.50,336.59 L293.00,336.53 L293.50,335.99 L294.00,335.94 L294.50,336.03 L295.00,335.42 L295.50,335.98 L296.00,335.78 L296.50,335.03 L297.00,335.37 L297.50,335.58 L298.00,335.72 L298.50,335.62 L299.00,334.53 L299.50,334.93 L300.00,334.39 L300.50,334.62 L301.00,334.87 L301.50,334.74 L302.00,334.73 L302.50,335.23 L303.00,333.92 L303.50,334.11 L304.00,333.39 L304.50,334.35 L305.00,333.47 L305.50,334.13 L306.00,333.38 L306.50,333.93 L307.00,333.55 L307.50,332.82 L308.00,331.22 L308.50,331.04 L309.00,330.40 L309.50,330.83 L310.00,331.13 L310.50,330.49 L311.00,330.68 L311.50,330.96 L312.00,331.38 L312.50,331.05 L313.00,331.04 L313.50,331.14 L314.00,330.44 L314.50,331.13 L315.00,330.39 L315.50,331.12 L316.00,331.15 L316.50,330.13 L317.00,331.26 L317.50,330.12 L318.00,330.81 L318.50,330.42 L319.00,330.85 L319.50,330.82 L320.00,330.22 L320.50,330.50 L321.00,331.40 L321.50,331.12 L322.00,330.54 L322.50,330.53 L323.00,331.08 L323.50,330.63 L324.00,330.75 L324.50,330.63 L325.00,330.93 L325.50,329.89 L326.00,330.26 L326.50,329.97 L327.00,330.25 L327.50,331.27 L328.00,330.52 L328.50,330.68 L329.00,330.47 L329.50,331.24 L330.00,330.58 L330.50,331.43 L331.00,330.90 L331.50,330.85 L332.00,330.84 L332.50,331.61 L333.00,330.79 L333.50,330.43 L334.00,331.03 L334.50,330.86 L335.00,330.90 L335.50,331.30 L336.00,331.34 L336.50,331.63 L337.00,330.89 L337.50,331.68 L338.00,331.51 L338.50,331.22 L339.00,330.94 L339.50,330.36 L340.00,330.31 L340.50,330.18 L341.00,330.90 L341.50,331.35 L342.00,331.76 L342.50,331.15 L343.00,330.93 L343.50,330.32 L344.00,331.34 L344.50,331.02 L345.00,331.36 L345.50,331.20 L346.00,331.07 L346.50,330.74 L347.00,330.59 L347.50,330.66 L348.00,331.11 L348.50,331.37 L349.00,331.23 L349.50,331.43 L350.00,330.33 L350.50,330.87 L351.00,329.94 L351.50,330.97 L352.00,330.26 L352.50,330.77 L353.00,331.08 L353.50,330.39 L354.00,330.47 L354.50,329.95 L355.00,330.85 L355.50,330.96 L356.00,331.07 L356.50,330.29 L357.00,329.92 L357.50,330.03 L358.00,330.17 L358.50,330.89 L359.00,330.81 L359.50,329.97 L360.00,330.22 L360.50,330.53 L361.00,330.43 L361.50,331.01 L362.00,330.89 L362.50,331.20 L363.00,331.87 L363.50,331.31 L364.00,330.65 L364.50,330.91 L365.00,331.34 L365.50,330.96 L366.00,330.48 L366.50,331.12 L367.00,331.32 L367.50,330.50 L368.00,330.84 L368.50,330.72 L369.00,330.51 L369.50,330.41 L370.00,329.97 L370.50,329.92 L371.00,330.50 L371.50,330.08 L372.00,330.29 L372.50,330.10 L373.00,330.26 L373.50,330.58 L374.00,330.52 L374.50,331.37 L375.00,330.32 L375.50,330.36 L376.00,330.92 L376.50,330.04 L377.00,330.18 L377.50,330.30 L378.00,329.74 L378.50,330.18 L379.00,330.76 L379.50,330.12 L380.00,330.75 L380.50,331.45 L381.00,330.87 L381.50,331.51 L382.00,330.79 L382.50,331.05 L383.00,330.63 L383.50,331.15 L384.00,330.86 L384.50,330.94 L385.00,330.96 L385.50,330.33 L386.00,331.09 L386.50,330.30 L387.00,330.92 L387.50,330.47 L388.00,330.80 L388.50,330.56 L389.00,330.85 L389.50,330.74 L390.00,331.12 L390.50,331.03 L391.00,331.08 L391.50,331.12 L392.00,330.89 L392.50,330.49 L393.00,330.51 L393.50,330.83 L394.00,331.13 L394.50,330.83 L395.00,330.73 L395.50,330.19" fill="none" stroke="#bcbcbc" stroke-width="2.8" stroke-linejoin="round" stroke-linecap="round" opacity="1"/>
<path d="M245.50,390.74 L246.00,390.77 L246.50,390.13 L247.00,390.35 L247.50,390.91 L248.00,391.01 L248.50,389.73 L249.00,388.50 L249.50,386.47 L250.00,385.36 L250.50,383.52 L251.00,382.22 L251.50,381.46 L252.00,379.64 L252.50,379.04 L253.00,377.08 L253.50,376.73 L254.00,375.70 L254.50,374.67 L255.00,374.16 L255.50,373.64 L256.00,372.90 L256.50,371.85 L257.00,371.41 L257.50,370.57 L258.00,368.57 L258.50,367.95 L259.00,368.22 L259.50,367.06 L260.00,366.88 L260.50,365.93 L261.00,364.57 L261.50,364.36 L262.00,364.22 L262.50,363.19 L263.00,362.76 L263.50,361.51 L264.00,361.14 L264.50,360.44 L265.00,360.26 L265.50,359.50 L266.00,358.97 L266.50,359.03 L267.00,357.90 L267.50,357.95 L268.00,357.21 L268.50,357.77 L269.00,356.76 L269.50,356.55 L270.00,356.76 L270.50,355.99 L271.00,355.86 L271.50,355.93 L272.00,354.66 L272.50,354.15 L273.00,353.40 L273.50,353.43 L274.00,353.07 L274.50,353.31 L275.00,353.08 L275.50,352.31 L276.00,351.94 L276.50,352.01 L277.00,352.43 L277.50,352.31 L278.00,351.96 L278.50,352.16 L279.00,351.42 L279.50,350.56 L280.00,350.98 L280.50,351.29 L281.00,350.42 L281.50,350.08 L282.00,349.86 L282.50,349.07 L283.00,349.37 L283.50,348.48 L284.00,348.78 L284.50,348.53 L285.00,348.98 L285.50,348.55 L286.00,348.60 L286.50,348.21 L287.00,347.93 L287.50,347.29 L288.00,346.98 L288.50,347.66 L289.00,347.49 L289.50,347.20 L290.00,346.92 L290.50,347.50 L291.00,346.53 L291.50,346.80 L292.00,346.66 L292.50,347.25 L293.00,346.48 L293.50,346.22 L294.00,346.47 L294.50,345.44 L295.00,345.94 L295.50,345.17 L296.00,345.10 L296.50,345.25 L297.00,345.11 L297.50,345.34 L298.00,344.87 L298.50,344.22 L299.00,344.74 L299.50,344.99 L300.00,344.10 L300.50,344.15 L301.00,343.76 L301.50,344.53 L302.00,344.73 L302.50,344.21 L303.00,344.27 L303.50,343.68 L304.00,342.79 L304.50,342.95 L305.00,344.00 L305.50,343.22 L306.00,343.14 L306.50,343.01 L307.00,343.31 L307.50,343.05 L308.00,342.84 L308.50,342.66 L309.00,342.72 L309.50,342.74 L310.00,343.14 L310.50,342.63 L311.00,343.38 L311.50,342.53 L312.00,342.84 L312.50,341.96 L313.00,343.12 L313.50,342.23 L314.00,342.09 L314.50,342.08 L315.00,342.00 L315.50,341.55 L316.00,341.78 L316.50,340.84 L317.00,341.03 L317.50,340.67 L318.00,339.21 L318.50,339.30 L319.00,339.66 L319.50,339.29 L320.00,338.98 L320.50,339.37 L321.00,339.78 L321.50,340.31 L322.00,340.31 L322.50,339.74 L323.00,340.09 L323.50,339.69 L324.00,340.19 L324.50,339.75 L325.00,339.17 L325.50,339.29 L326.00,339.50 L326.50,339.94 L327.00,340.01 L327.50,339.36 L328.00,339.95 L328.50,340.05 L329.00,339.80 L329.50,340.08 L330.00,339.93 L330.50,340.61 L331.00,339.87 L331.50,339.72 L332.00,339.38 L332.50,339.95 L333.00,339.68 L333.50,340.18 L334.00,340.11 L334.50,340.45 L335.00,340.37 L335.50,340.07 L336.00,340.20 L336.50,340.12 L337.00,340.19 L337.50,340.33 L338.00,340.93 L338.50,340.36 L339.00,341.08 L339.50,340.88 L340.00,340.51 L340.50,340.07 L341.00,340.19 L341.50,340.49 L342.00,339.68 L342.50,339.26 L343.00,339.10 L343.50,339.61 L344.00,339.11 L344.50,339.51 L345.00,339.69 L345.50,340.48 L346.00,339.98 L346.50,340.14 L347.00,340.64 L347.50,340.49 L348.00,339.74 L348.50,340.45 L349.00,340.07 L349.50,340.33 L350.00,339.79 L350.50,339.78 L351.00,340.46 L351.50,340.27 L352.00,339.59 L352.50,339.76 L353.00,339.18 L353.50,339.98 L354.00,339.82 L354.50,339.96 L355.00,339.74 L355.50,340.76 L356.00,340.02 L356.50,340.66 L357.00,339.73 L357.50,340.00 L358.00,339.60 L358.50,339.81 L359.00,339.87 L359.50,340.01 L360.00,339.87 L360.50,340.49 L361.00,340.87 L361.50,340.66 L362.00,339.48 L362.50,340.32 L363.00,340.69 L363.50,340.60 L364.00,339.83 L364.50,340.51 L365.00,340.18 L365.50,339.64 L366.00,339.83 L366.50,339.43 L367.00,339.30 L367.50,339.99 L368.00,339.36 L368.50,339.38 L369.00,340.23 L369.50,339.72 L370.00,340.13 L370.50,340.28 L371.00,340.20 L371.50,339.81 L372.00,340.47 L372.50,339.64 L373.00,340.45 L373.50,339.88 L374.00,340.52 L374.50,340.15 L375.00,339.43 L375.50,339.43 L376.00,339.54 L376.50,339.26 L377.00,339.02 L377.50,339.34 L378.00,339.23 L378.50,339.85 L379.00,339.97 L379.50,339.34 L380.00,339.46 L380.50,339.18 L381.00,340.31 L381.50,339.69 L382.00,339.68 L382.50,339.92 L383.00,340.10 L383.50,339.41 L384.00,340.42 L384.50,340.17 L385.00,340.29 L385.50,340.05 L386.00,340.40 L386.50,340.82 L387.00,339.89 L387.50,340.59 L388.00,340.49 L388.50,340.56 L389.00,340.06 L389.50,339.51 L390.00,340.54 L390.50,339.66 L391.00,339.87 L391.50,340.20 L392.00,339.80 L392.50,340.33 L393.00,339.99 L393.50,340.15 L394.00,340.06 L394.50,340.03 L395.00,340.42 L395.50,339.86" fill="none" stroke="#bcbcbc" stroke-width="2.8" stroke-linejoin="round" stroke-linecap="round" opacity="1"/>
<path d="M245.50,397.17 L246.00,396.37 L246.50,395.03 L247.00,394.84 L247.50,393.53 L248.00,392.69 L248.50,392.78 L249.00,392.63 L249.50,391.82 L250.00,390.62 L250.50,389.08 L251.00,389.13 L251.50,387.47 L252.00,387.62 L252.50,387.10 L253.00,385.08 L253.50,384.14 L254.00,384.37 L254.50,383.04 L255.00,382.73 L255.50,381.98 L256.00,381.38 L256.50,380.30 L257.00,379.49 L257.50,380.18 L258.00,379.02 L258.50,378.18 L259.00,378.13 L259.50,377.13 L260.00,376.42 L260.50,376.66 L261.00,375.95 L261.50,375.94 L262.00,375.08 L262.50,375.40 L263.00,374.89 L263.50,373.63 L264.00,373.54 L264.50,372.81 L265.00,372.45 L265.50,371.94 L266.00,371.47 L266.50,371.31 L267.00,371.17 L267.50,371.22 L268.00,370.35 L268.50,369.83 L269.00,370.32 L269.50,370.18 L270.00,370.02 L270.50,369.46 L271.00,368.73 L271.50,368.38 L272.00,367.58 L272.50,367.49 L273.00,368.15 L273.50,367.48 L274.00,367.38 L274.50,366.68 L275.00,366.39 L275.50,366.24 L276.00,365.67 L276.50,365.96 L277.00,365.58 L277.50,365.76 L278.00,364.90 L278.50,364.54 L279.00,364.44 L279.50,364.65 L280.00,364.84 L280.50,364.06 L281.00,364.23 L281.50,364.00 L282.00,363.75 L282.50,362.73 L283.00,362.76 L283.50,362.59 L284.00,363.20 L284.50,362.68 L285.00,362.70 L285.50,362.61 L286.00,361.69 L286.50,361.60 L287.00,361.09 L287.50,361.33 L288.00,361.61 L288.50,361.50 L289.00,360.33 L289.50,360.49 L290.00,360.44 L290.50,359.89 L291.00,360.46 L291.50,360.30 L292.00,360.38 L292.50,360.80 L293.00,361.01 L293.50,360.52 L294.00,360.38 L294.50,360.17 L295.00,359.98 L295.50,359.50 L296.00,359.78 L296.50,360.02 L297.00,359.24 L297.50,358.84 L298.00,358.15 L298.50,358.38 L299.00,357.99 L299.50,358.37 L300.00,357.80 L300.50,358.22 L301.00,359.00 L301.50,358.09 L302.00,358.15 L302.50,357.91 L303.00,357.24 L303.50,356.95 L304.00,357.34 L304.50,357.78 L305.00,357.80 L305.50,357.43 L306.00,357.74 L306.50,357.41 L307.00,357.49 L307.50,357.24 L308.00,355.96 L308.50,356.27 L309.00,356.23 L309.50,357.04 L310.00,357.36 L310.50,357.42 L311.00,356.75 L311.50,356.61 L312.00,356.81 L312.50,356.43 L313.00,357.08 L313.50,356.98 L314.00,355.89 L314.50,356.25 L315.00,356.09 L315.50,355.97 L316.00,355.58 L316.50,356.11 L317.00,355.90 L317.50,356.96 L318.00,356.28 L318.50,355.49 L319.00,355.88 L319.50,356.58 L320.00,356.53 L320.50,356.04 L321.00,356.42 L321.50,356.52 L322.00,355.53 L322.50,355.28 L323.00,356.05 L323.50,355.54 L324.00,355.76 L324.50,355.75 L325.00,354.97 L325.50,355.24 L326.00,355.59 L326.50,355.90 L327.00,355.79 L327.50,355.63 L328.00,355.82 L328.50,356.56 L329.00,356.18 L329.50,356.62 L330.00,355.77 L330.50,355.70 L331.00,355.77 L331.50,355.54 L332.00,356.29 L332.50,355.44 L333.00,355.58 L333.50,356.42 L334.00,355.88 L334.50,355.51 L335.00,356.42 L335.50,356.16 L336.00,355.79 L336.50,355.43 L337.00,356.38 L337.50,355.94 L338.00,356.39 L338.50,356.21 L339.00,356.43 L339.50,356.50 L340.00,355.96 L340.50,357.04 L341.00,356.22 L341.50,356.36 L342.00,356.74 L342.50,356.20 L343.00,356.27 L343.50,357.14 L344.00,356.42 L344.50,356.20 L345.00,356.69 L345.50,356.76 L346.00,357.57 L346.50,356.79 L347.00,356.69 L347.50,357.34 L348.00,357.60 L348.50,356.93 L349.00,356.64 L349.50,356.42 L350.00,357.16 L350.50,357.02 L351.00,356.97 L351.50,357.11 L352.00,356.22 L352.50,356.67 L353.00,357.03 L353.50,357.03 L354.00,356.58 L354.50,357.07 L355.00,356.13 L355.50,356.96 L356.00,356.97 L356.50,357.76 L357.00,357.79 L357.50,358.10 L358.00,358.21 L358.50,357.70 L359.00,357.42 L359.50,357.42 L360.00,357.19 L360.50,357.26 L361.00,357.21 L361.50,357.14 L362.00,357.24 L362.50,357.86 L363.00,357.85 L363.50,357.95 L364.00,357.42 L364.50,357.26 L365.00,357.87 L365.50,357.77 L366.00,357.27 L366.50,357.08 L367.00,357.48 L367.50,357.24 L368.00,357.61 L368.50,357.70 L369.00,357.86 L369.50,357.08 L370.00,356.99 L370.50,357.90 L371.00,358.43 L371.50,357.91 L372.00,357.57 L372.50,358.37 L373.00,357.93 L373.50,357.80 L374.00,358.37 L374.50,358.60 L375.00,358.03 L375.50,358.36 L376.00,357.33 L376.50,357.96 L377.00,357.78 L377.50,358.61 L378.00,357.82 L378.50,358.19 L379.00,358.33 L379.50,357.82 L380.00,357.80 L380.50,357.56 L381.00,357.21 L381.50,357.94 L382.00,357.85 L382.50,357.60 L383.00,357.75 L383.50,357.63 L384.00,358.03 L384.50,357.90 L385.00,358.32 L385.50,357.67 L386.00,358.16 L386.50,358.19 L387.00,357.64 L387.50,357.80 L388.00,358.28 L388.50,358.18 L389.00,358.02 L389.50,357.75 L390.00,357.32 L390.50,358.47 L391.00,358.33 L391.50,358.63 L392.00,357.78 L392.50,357.96 L393.00,358.57 L393.50,358.26 L394.00,358.28 L394.50,358.70 L395.00,358.93 L395.50,358.14" fill="none" stroke="#bcbcbc" stroke-width="2.8" stroke-linejoin="round" stroke-linecap="round" opacity="1"/>
<path d="M245.50,396.89 L246.00,396.32 L246.50,396.17 L247.00,395.65 L247.50,395.51 L248.00,394.94 L248.50,394.49 L249.00,393.96 L249.50,392.98 L250.00,391.63 L250.50,391.24 L251.00,389.88 L251.50,389.84 L252.00,389.06 L252.50,388.15 L253.00,387.92 L253.50,386.86 L254.00,386.69 L254.50,385.84 L255.00,385.92 L255.50,383.88 L256.00,383.52 L256.50,383.08 L257.00,382.45 L257.50,381.16 L258.00,381.65 L258.50,381.16 L259.00,380.37 L259.50,380.08 L260.00,379.47 L260.50,379.02 L261.00,378.68 L261.50,378.34 L262.00,377.75 L262.50,377.74 L263.00,376.71 L263.50,376.73 L264.00,376.66 L264.50,375.78 L265.00,375.92 L265.50,375.53 L266.00,374.77 L266.50,375.19 L267.00,374.22 L267.50,373.84 L268.00,374.70 L268.50,373.76 L269.00,373.50 L269.50,373.62 L270.00,373.11 L270.50,372.69 L271.00,372.26 L271.50,371.92 L272.00,372.01 L272.50,371.22 L273.00,370.35 L273.50,370.33 L274.00,370.02 L274.50,370.31 L275.00,370.48 L275.50,370.26 L276.00,370.05 L276.50,370.57 L277.00,369.82 L277.50,369.79 L278.00,369.29 L278.50,368.88 L279.00,369.05 L279.50,368.95 L280.00,368.85 L280.50,368.21 L281.00,367.80 L281.50,367.82 L282.00,367.13 L282.50,367.42 L283.00,367.25 L283.50,366.84 L284.00,367.00 L284.50,366.04 L285.00,366.26 L285.50,365.95 L286.00,365.57 L286.50,366.04 L287.00,366.11 L287.50,365.58 L288.00,365.41 L288.50,364.46 L289.00,364.73 L289.50,364.64 L290.00,364.21 L290.50,364.13 L291.00,364.01 L291.50,363.89 L292.00,363.53 L292.50,363.86 L293.00,364.51 L293.50,364.49 L294.00,364.10 L294.50,363.83 L295.00,363.49 L295.50,363.13 L296.00,363.48 L296.50,362.65 L297.00,362.77 L297.50,362.43 L298.00,362.48 L298.50,362.87 L299.00,362.56 L299.50,361.53 L300.00,362.35 L300.50,362.04 L301.00,362.32 L301.50,362.33 L302.00,362.66 L302.50,362.27 L303.00,361.99 L303.50,361.68 L304.00,362.23 L304.50,361.96 L305.00,361.52 L305.50,361.28 L306.00,361.08 L306.50,361.25 L307.00,361.31 L307.50,361.56 L308.00,361.13 L308.50,360.79 L309.00,360.78 L309.50,361.63 L310.00,361.46 L310.50,361.50 L311.00,361.59 L311.50,360.91 L312.00,361.19 L312.50,360.80 L313.00,361.12 L313.50,361.15 L314.00,360.79 L314.50,361.12 L315.00,361.33 L315.50,361.22 L316.00,360.93 L316.50,360.75 L317.00,361.33 L317.50,360.83 L318.00,361.38 L318.50,361.36 L319.00,360.71 L319.50,361.22 L320.00,360.79 L320.50,360.90 L321.00,360.24 L321.50,360.36 L322.00,359.90 L322.50,360.32 L323.00,360.65 L323.50,361.17 L324.00,360.80 L324.50,360.74 L325.00,360.31 L325.50,359.91 L326.00,360.33 L326.50,360.08 L327.00,360.43 L327.50,361.01 L328.00,360.82 L328.50,361.31 L329.00,361.85 L329.50,361.62 L330.00,360.80 L330.50,360.80 L331.00,360.99 L331.50,361.50 L332.00,360.78 L332.50,361.14 L333.00,362.01 L333.50,361.45 L334.00,360.92 L334.50,361.77 L335.00,361.36 L335.50,361.12 L336.00,361.54 L336.50,361.91 L337.00,361.21 L337.50,361.12 L338.00,360.59 L338.50,360.53 L339.00,360.54 L339.50,360.77 L340.00,361.50 L340.50,361.23 L341.00,361.45 L341.50,361.73 L342.00,362.37 L342.50,362.80 L343.00,361.63 L343.50,362.32 L344.00,362.19 L344.50,362.06 L345.00,362.07 L345.50,362.16 L346.00,362.31 L346.50,362.17 L347.00,361.75 L347.50,361.81 L348.00,362.18 L348.50,361.92 L349.00,362.23 L349.50,363.23 L350.00,363.61 L350.50,363.15 L351.00,362.60 L351.50,363.38 L352.00,363.41 L352.50,363.21 L353.00,362.35 L353.50,362.44 L354.00,362.94 L354.50,362.60 L355.00,362.22 L355.50,362.72 L356.00,361.98 L356.50,362.72 L357.00,362.70 L357.50,363.27 L358.00,363.08 L358.50,363.23 L359.00,363.38 L359.50,363.65 L360.00,363.70 L360.50,363.64 L361.00,364.14 L361.50,364.45 L362.00,364.01 L362.50,364.23 L363.00,363.76 L363.50,364.34 L364.00,364.32 L364.50,363.40 L365.00,363.46 L365.50,363.18 L366.00,363.50 L366.50,363.49 L367.00,363.48 L367.50,362.90 L368.00,362.72 L368.50,363.16 L369.00,363.36 L369.50,362.63 L370.00,363.40 L370.50,363.06 L371.00,363.49 L371.50,363.52 L372.00,363.22 L372.50,363.82 L373.00,364.72 L373.50,364.31 L374.00,363.82 L374.50,364.18 L375.00,364.37 L375.50,363.86 L376.00,363.63 L376.50,363.81 L377.00,364.10 L377.50,364.14 L378.00,364.76 L378.50,364.32 L379.00,364.68 L379.50,364.23 L380.00,364.98 L380.50,364.82 L381.00,365.24 L381.50,364.78 L382.00,364.79 L382.50,364.68 L383.00,364.58 L383.50,365.31 L384.00,364.22 L384.50,364.45 L385.00,365.48 L385.50,365.18 L386.00,364.67 L386.50,365.01 L387.00,364.83 L387.50,364.48 L388.00,364.97 L388.50,364.91 L389.00,364.98 L389.50,364.54 L390.00,364.70 L390.50,364.99 L391.00,364.98 L391.50,365.06 L392.00,364.70 L392.50,364.43 L393.00,365.21 L393.50,365.59 L394.00,365.53 L394.50,365.02 L395.00,365.13 L395.50,365.05" fill="none" stroke="#bcbcbc" stroke-width="2.8" stroke-linejoin="round" stroke-linecap="round" opacity="1"/>
<path d="M245.50,398.31 L246.00,398.07 L246.50,397.74 L247.00,397.61 L247.50,396.95 L248.00,397.34 L248.50,396.26 L249.00,396.72 L249.50,396.28 L250.00,396.09 L250.50,395.10 L251.00,394.33 L251.50,394.48 L252.00,393.86 L252.50,393.86 L253.00,393.76 L253.50,393.15 L254.00,393.07 L254.50,393.17 L255.00,392.31 L255.50,392.00 L256.00,392.11 L256.50,390.66 L257.00,390.39 L257.50,390.20 L258.00,390.64 L258.50,389.62 L259.00,389.39 L259.50,389.07 L260.00,388.65 L260.50,388.97 L261.00,388.50 L261.50,388.25 L262.00,388.17 L262.50,387.38 L263.00,387.74 L263.50,386.44 L264.00,386.90 L264.50,386.36 L265.00,385.87 L265.50,385.62 L266.00,385.34 L266.50,384.99 L267.00,385.29 L267.50,385.02 L268.00,384.28 L268.50,385.05 L269.00,384.73 L269.50,384.14 L270.00,384.13 L270.50,383.54 L271.00,384.21 L271.50,384.12 L272.00,383.76 L272.50,384.26 L273.00,383.51 L273.50,383.53 L274.00,382.73 L274.50,382.50 L275.00,382.29 L275.50,381.88 L276.00,382.22 L276.50,381.76 L277.00,381.36 L277.50,380.79 L278.00,381.05 L278.50,380.81 L279.00,380.42 L279.50,380.39 L280.00,380.38 L280.50,379.83 L281.00,379.02 L281.50,379.75 L282.00,379.18 L282.50,378.61 L283.00,378.83 L283.50,379.00 L284.00,378.86 L284.50,378.17 L285.00,377.87 L285.50,377.99 L286.00,377.82 L286.50,378.39 L287.00,377.97 L287.50,378.70 L288.00,378.08 L288.50,377.89 L289.00,377.30 L289.50,377.78 L290.00,377.03 L290.50,377.40 L291.00,377.47 L291.50,377.20 L292.00,376.94 L292.50,377.30 L293.00,376.68 L293.50,376.51 L294.00,376.48 L294.50,377.10 L295.00,376.83 L295.50,376.62 L296.00,377.13 L296.50,376.87 L297.00,376.54 L297.50,377.20 L298.00,376.73 L298.50,376.15 L299.00,375.62 L299.50,375.61 L300.00,375.04 L300.50,375.44 L301.00,375.33 L301.50,375.70 L302.00,375.67 L302.50,374.85 L303.00,374.76 L303.50,374.71 L304.00,375.01 L304.50,374.74 L305.00,374.88 L305.50,374.55 L306.00,374.16 L306.50,374.22 L307.00,374.64 L307.50,373.95 L308.00,373.52 L308.50,374.06 L309.00,373.91 L309.50,374.29 L310.00,374.31 L310.50,373.41 L311.00,374.15 L311.50,374.25 L312.00,373.90 L312.50,373.71 L313.00,373.53 L313.50,373.39 L314.00,373.32 L314.50,373.11 L315.00,373.08 L315.50,372.83 L316.00,373.43 L316.50,373.50 L317.00,373.92 L317.50,373.74 L318.00,373.46 L318.50,374.19 L319.00,373.99 L319.50,373.21 L320.00,373.43 L320.50,372.66 L321.00,371.37 L321.50,371.14 L322.00,371.31 L322.50,371.23 L323.00,371.24 L323.50,371.46 L324.00,371.51 L324.50,371.51 L325.00,371.71 L325.50,371.94 L326.00,371.97 L326.50,372.05 L327.00,372.02 L327.50,371.29 L328.00,371.67 L328.50,371.38 L329.00,371.80 L329.50,372.02 L330.00,372.04 L330.50,371.68 L331.00,372.06 L331.50,371.84 L332.00,371.77 L332.50,371.46 L333.00,371.96 L333.50,371.87 L334.00,371.68 L334.50,370.93 L335.00,371.32 L335.50,371.70 L336.00,371.68 L336.50,372.35 L337.00,371.98 L337.50,373.02 L338.00,371.95 L338.50,371.73 L339.00,372.42 L339.50,372.06 L340.00,371.28 L340.50,372.01 L341.00,371.68 L341.50,371.68 L342.00,371.66 L342.50,372.07 L343.00,372.10 L343.50,372.63 L344.00,372.74 L344.50,372.71 L345.00,372.47 L345.50,372.73 L346.00,372.15 L346.50,373.30 L347.00,372.71 L347.50,372.41 L348.00,372.62 L348.50,372.94 L349.00,372.69 L349.50,373.06 L350.00,372.63 L350.50,371.98 L351.00,371.76 L351.50,372.04 L352.00,372.38 L352.50,373.29 L353.00,372.41 L353.50,372.98 L354.00,373.24 L354.50,373.70 L355.00,373.57 L355.50,373.18 L356.00,373.88 L356.50,373.45 L357.00,373.62 L357.50,373.07 L358.00,373.42 L358.50,374.15 L359.00,373.84 L359.50,373.78 L360.00,373.58 L360.50,373.45 L361.00,373.53 L361.50,373.20 L362.00,372.87 L362.50,373.07 L363.00,373.03 L363.50,374.05 L364.00,373.60 L364.50,374.32 L365.00,373.63 L365.50,374.29 L366.00,374.59 L366.50,373.54 L367.00,374.08 L367.50,373.47 L368.00,374.47 L368.50,373.59 L369.00,374.41 L369.50,373.89 L370.00,374.55 L370.50,373.62 L371.00,373.91 L371.50,373.71 L372.00,373.98 L372.50,373.67 L373.00,373.63 L373.50,373.50 L374.00,373.56 L374.50,374.21 L375.00,373.84 L375.50,374.25 L376.00,374.59 L376.50,374.26 L377.00,374.39 L377.50,374.04 L378.00,373.74 L378.50,373.67 L379.00,374.52 L379.50,375.02 L380.00,375.18 L380.50,374.89 L381.00,374.46 L381.50,374.79 L382.00,374.13 L382.50,374.92 L383.00,374.65 L383.50,374.32 L384.00,375.11 L384.50,375.22 L385.00,374.98 L385.50,375.36 L386.00,375.32 L386.50,375.38 L387.00,374.76 L387.50,374.92 L388.00,374.98 L388.50,374.70 L389.00,374.66 L389.50,374.82 L390.00,374.98 L390.50,374.70 L391.00,374.77 L391.50,374.27 L392.00,375.55 L392.50,374.92 L393.00,374.44 L393.50,375.58 L394.00,374.80 L394.50,375.52 L395.00,375.11 L395.50,375.31" fill="none" stroke="#bcbcbc" stroke-width="2.8" stroke-linejoin="round" stroke-linecap="round" opacity="1"/>
<path d="M245.60,397.40 L246.30,396.96 L247.00,396.50 L247.60,396.09 L248.20,395.65 L248.80,395.21 L249.40,394.76 L250.00,394.30 L250.60,393.85 L251.20,393.39 L251.80,392.95 L252.40,392.52 L253.00,392.10 L253.60,391.69 L254.20,391.29 L254.80,390.89 L255.40,390.50 L256.00,390.11 L256.60,389.73 L257.20,389.36 L257.80,389.00 L258.40,388.64 L259.00,388.30 L259.62,387.96 L260.23,387.62 L260.85,387.29 L261.47,386.97 L262.08,386.65 L262.70,386.34 L263.32,386.04 L263.93,385.74 L264.55,385.45 L265.17,385.16 L265.78,384.88 L266.40,384.60 L267.02,384.33 L267.65,384.06 L268.27,383.80 L268.90,383.54 L269.52,383.29 L270.15,383.05 L270.77,382.80 L271.40,382.56 L272.02,382.32 L272.65,382.08 L273.27,381.84 L273.90,381.60 L274.51,381.36 L275.12,381.13 L275.73,380.89 L276.34,380.66 L276.95,380.43 L277.56,380.20 L278.17,379.97 L278.78,379.74 L279.39,379.52 L280.00,379.30 L280.62,379.08 L281.25,378.85 L281.88,378.63 L282.50,378.41 L283.12,378.19 L283.75,377.98 L284.38,377.79 L285.00,377.60 L285.62,377.42 L286.25,377.25 L286.88,377.08 L287.50,376.91 L288.12,376.75 L288.75,376.59 L289.38,376.43 L290.00,376.28 L290.62,376.13 L291.25,375.99 L291.88,375.85 L292.50,375.71 L293.12,375.58 L293.75,375.45 L294.38,375.32 L295.00,375.20 L295.62,375.08 L296.25,374.96 L296.88,374.85 L297.50,374.73 L298.12,374.62 L298.75,374.51 L299.38,374.41 L300.00,374.30 L300.62,374.20 L301.25,374.11 L301.88,374.01 L302.50,373.92 L303.12,373.84 L303.75,373.75 L304.38,373.67 L305.00,373.60 L305.62,373.53 L306.23,373.46 L306.85,373.40 L307.46,373.33 L308.08,373.27 L308.69,373.22 L309.31,373.16 L309.92,373.10 L310.54,373.05 L311.15,373.00 L311.77,372.94 L312.38,372.89 L313.00,372.84 L313.62,372.79 L314.23,372.75 L314.85,372.70 L315.46,372.65 L316.08,372.60 L316.69,372.55 L317.31,372.50 L317.92,372.46 L318.54,372.41 L319.15,372.36 L319.77,372.31 L320.38,372.25 L321.00,372.20" fill="none" stroke="#d6d81f" stroke-width="2.0" stroke-linejoin="round" stroke-linecap="round" opacity="1"/>
<path d="M321.00,372.20 L321.61,372.23 L322.21,372.27 L322.82,372.30 L323.43,372.34 L324.03,372.37 L324.64,372.41 L325.25,372.44 L325.85,372.48 L326.46,372.51 L327.07,372.55 L327.67,372.58 L328.28,372.62 L328.89,372.65 L329.49,372.69 L330.10,372.72 L330.70,372.76 L331.31,372.79 L331.92,372.83 L332.52,372.86 L333.13,372.90 L333.74,372.93 L334.34,372.97 L334.95,373.00 L335.56,373.04 L336.16,373.07 L336.77,373.11 L337.38,373.14 L337.98,373.18 L338.59,373.21 L339.20,373.25 L339.80,373.28 L340.41,373.32 L341.02,373.35 L341.62,373.39 L342.23,373.42 L342.84,373.46 L343.44,373.49 L344.05,373.53 L344.66,373.56 L345.26,373.59 L345.87,373.63 L346.48,373.66 L347.08,373.70 L347.69,373.73 L348.30,373.77 L348.90,373.80 L349.51,373.83 L350.11,373.87 L350.72,373.90 L351.33,373.94 L351.93,373.97 L352.54,374.00 L353.15,374.04 L353.75,374.07 L354.36,374.10 L354.97,374.14 L355.57,374.17 L356.18,374.20 L356.79,374.23 L357.39,374.27 L358.00,374.30 L358.60,374.33 L359.21,374.36 L359.81,374.40 L360.42,374.43 L361.02,374.46 L361.63,374.49 L362.23,374.52 L362.84,374.56 L363.44,374.59 L364.05,374.62 L364.65,374.65 L365.26,374.68 L365.86,374.71 L366.47,374.74 L367.07,374.77 L367.68,374.81 L368.28,374.84 L368.89,374.87 L369.49,374.90 L370.10,374.93 L370.70,374.96 L371.31,374.99 L371.91,375.02 L372.52,375.05 L373.12,375.08 L373.73,375.11 L374.33,375.14 L374.94,375.17 L375.54,375.20 L376.15,375.23 L376.75,375.26 L377.35,375.29 L377.96,375.32 L378.56,375.35 L379.17,375.38 L379.77,375.41 L380.38,375.44 L380.98,375.47 L381.59,375.50 L382.19,375.53 L382.80,375.56 L383.40,375.59 L384.01,375.62 L384.61,375.65 L385.22,375.68 L385.82,375.72 L386.43,375.75 L387.03,375.78 L387.64,375.81 L388.24,375.84 L388.85,375.87 L389.45,375.90 L390.06,375.93 L390.66,375.96 L391.27,375.99 L391.87,376.02 L392.48,376.05 L393.08,376.08 L393.69,376.11 L394.29,376.14 L394.90,376.17 L395.50,376.20" fill="none" stroke="#d6d81f" stroke-width="2.0" stroke-linejoin="round" stroke-linecap="round" opacity="1"/>
<path d="M245.60,397.40 L246.30,396.72 L247.00,396.00 L247.60,395.28 L248.20,394.48 L248.80,393.63 L249.40,392.74 L250.00,391.83 L250.60,390.92 L251.20,390.02 L251.80,389.15 L252.40,388.34 L253.00,387.60 L253.60,386.91 L254.20,386.25 L254.80,385.61 L255.40,385.00 L256.00,384.40 L256.60,383.82 L257.20,383.25 L257.80,382.69 L258.40,382.14 L259.00,381.60 L259.62,381.05 L260.23,380.50 L260.85,379.95 L261.47,379.41 L262.08,378.88 L262.70,378.36 L263.32,377.86 L263.93,377.37 L264.55,376.90 L265.17,376.44 L265.78,376.01 L266.40,375.60 L267.02,375.20 L267.65,374.82 L268.27,374.45 L268.90,374.10 L269.52,373.75 L270.15,373.42 L270.77,373.09 L271.40,372.78 L272.02,372.47 L272.65,372.18 L273.27,371.88 L273.90,371.60 L274.51,371.33 L275.12,371.08 L275.73,370.83 L276.34,370.59 L276.95,370.36 L277.56,370.13 L278.17,369.90 L278.78,369.67 L279.39,369.44 L280.00,369.20 L280.62,368.95 L281.25,368.69 L281.88,368.42 L282.50,368.16 L283.12,367.90 L283.75,367.65 L284.38,367.42 L285.00,367.20 L285.62,367.00 L286.25,366.80 L286.88,366.60 L287.50,366.41 L288.12,366.22 L288.75,366.04 L289.38,365.86 L290.00,365.69 L290.62,365.52 L291.25,365.36 L291.88,365.20 L292.50,365.05 L293.12,364.90 L293.75,364.76 L294.38,364.63 L295.00,364.50 L295.62,364.38 L296.25,364.25 L296.88,364.14 L297.50,364.02 L298.12,363.91 L298.75,363.80 L299.38,363.69 L300.00,363.59 L300.62,363.49 L301.25,363.39 L301.88,363.30 L302.50,363.21 L303.12,363.13 L303.75,363.05 L304.38,362.97 L305.00,362.90 L305.62,362.83 L306.23,362.77 L306.85,362.71 L307.46,362.65 L308.08,362.59 L308.69,362.54 L309.31,362.48 L309.92,362.43 L310.54,362.38 L311.15,362.33 L311.77,362.28 L312.38,362.24 L313.00,362.19 L313.62,362.15 L314.23,362.10 L314.85,362.06 L315.46,362.01 L316.08,361.97 L316.69,361.93 L317.31,361.88 L317.92,361.84 L318.54,361.79 L319.15,361.74 L319.77,361.70 L320.38,361.65 L321.00,361.60" fill="none" stroke="#3ba83a" stroke-width="2.0" stroke-linejoin="round" stroke-linecap="round" opacity="1"/>
<path d="M321.00,361.60 L321.61,361.64 L322.21,361.68 L322.82,361.72 L323.43,361.76 L324.03,361.80 L324.64,361.84 L325.25,361.88 L325.85,361.92 L326.46,361.96 L327.07,361.99 L327.67,362.03 L328.28,362.07 L328.89,362.11 L329.49,362.15 L330.10,362.19 L330.70,362.23 L331.31,362.27 L331.92,362.31 L332.52,362.35 L333.13,362.39 L333.74,362.43 L334.34,362.47 L334.95,362.51 L335.56,362.55 L336.16,362.59 L336.77,362.63 L337.38,362.67 L337.98,362.71 L338.59,362.75 L339.20,362.79 L339.80,362.83 L340.41,362.87 L341.02,362.91 L341.62,362.95 L342.23,362.99 L342.84,363.03 L343.44,363.07 L344.05,363.10 L344.66,363.14 L345.26,363.18 L345.87,363.22 L346.48,363.26 L347.08,363.30 L347.69,363.34 L348.30,363.38 L348.90,363.42 L349.51,363.46 L350.11,363.50 L350.72,363.54 L351.33,363.58 L351.93,363.61 L352.54,363.65 L353.15,363.69 L353.75,363.73 L354.36,363.77 L354.97,363.81 L355.57,363.85 L356.18,363.88 L356.79,363.92 L357.39,363.96 L358.00,364.00 L358.60,364.04 L359.21,364.08 L359.81,364.11 L360.42,364.15 L361.02,364.19 L361.63,364.23 L362.23,364.27 L362.84,364.30 L363.44,364.34 L364.05,364.38 L364.65,364.42 L365.26,364.45 L365.86,364.49 L366.47,364.53 L367.07,364.57 L367.68,364.60 L368.28,364.64 L368.89,364.68 L369.49,364.71 L370.10,364.75 L370.70,364.79 L371.31,364.83 L371.91,364.86 L372.52,364.90 L373.12,364.94 L373.73,364.97 L374.33,365.01 L374.94,365.05 L375.54,365.08 L376.15,365.12 L376.75,365.16 L377.35,365.19 L377.96,365.23 L378.56,365.27 L379.17,365.31 L379.77,365.34 L380.38,365.38 L380.98,365.42 L381.59,365.45 L382.19,365.49 L382.80,365.53 L383.40,365.56 L384.01,365.60 L384.61,365.64 L385.22,365.67 L385.82,365.71 L386.43,365.75 L387.03,365.78 L387.64,365.82 L388.24,365.86 L388.85,365.89 L389.45,365.93 L390.06,365.97 L390.66,366.00 L391.27,366.04 L391.87,366.08 L392.48,366.11 L393.08,366.15 L393.69,366.19 L394.29,366.23 L394.90,366.26 L395.50,366.30" fill="none" stroke="#3ba83a" stroke-width="2.0" stroke-linejoin="round" stroke-linecap="round" opacity="1"/>
<path d="M245.60,397.40 L246.30,396.63 L247.00,395.80 L247.60,394.97 L248.20,394.05 L248.80,393.07 L249.40,392.04 L250.00,390.98 L250.60,389.92 L251.20,388.88 L251.80,387.88 L252.40,386.95 L253.00,386.10 L253.60,385.32 L254.20,384.56 L254.80,383.84 L255.40,383.14 L256.00,382.46 L256.60,381.80 L257.20,381.16 L257.80,380.53 L258.40,379.91 L259.00,379.30 L259.62,378.68 L260.23,378.06 L260.85,377.45 L261.47,376.85 L262.08,376.26 L262.70,375.68 L263.32,375.12 L263.93,374.57 L264.55,374.05 L265.17,373.54 L265.78,373.06 L266.40,372.60 L267.02,372.16 L267.65,371.73 L268.27,371.32 L268.90,370.93 L269.52,370.55 L270.15,370.18 L270.77,369.82 L271.40,369.46 L272.02,369.12 L272.65,368.78 L273.27,368.44 L273.90,368.10 L274.51,367.77 L275.12,367.45 L275.73,367.12 L276.34,366.80 L276.95,366.49 L277.56,366.19 L278.17,365.90 L278.78,365.62 L279.39,365.35 L280.00,365.10 L280.62,364.86 L281.25,364.63 L281.88,364.41 L282.50,364.20 L283.12,363.99 L283.75,363.79 L284.38,363.60 L285.00,363.40 L285.62,363.20 L286.25,363.01 L286.88,362.81 L287.50,362.61 L288.12,362.42 L288.75,362.23 L289.38,362.04 L290.00,361.85 L290.62,361.67 L291.25,361.49 L291.88,361.31 L292.50,361.14 L293.12,360.97 L293.75,360.81 L294.38,360.65 L295.00,360.50 L295.62,360.35 L296.25,360.21 L296.88,360.06 L297.50,359.92 L298.12,359.77 L298.75,359.64 L299.38,359.50 L300.00,359.37 L300.62,359.24 L301.25,359.12 L301.88,359.00 L302.50,358.89 L303.12,358.78 L303.75,358.68 L304.38,358.59 L305.00,358.50 L305.62,358.42 L306.23,358.35 L306.85,358.27 L307.46,358.20 L308.08,358.14 L308.69,358.07 L309.31,358.01 L309.92,357.95 L310.54,357.89 L311.15,357.84 L311.77,357.78 L312.38,357.73 L313.00,357.67 L313.62,357.62 L314.23,357.57 L314.85,357.52 L315.46,357.47 L316.08,357.42 L316.69,357.37 L317.31,357.32 L317.92,357.27 L318.54,357.22 L319.15,357.17 L319.77,357.11 L320.38,357.06 L321.00,357.00" fill="none" stroke="#1b5a36" stroke-width="2.0" stroke-linejoin="round" stroke-linecap="round" opacity="1"/>
<path d="M321.00,357.00 L321.61,357.02 L322.21,357.05 L322.82,357.07 L323.43,357.09 L324.03,357.11 L324.64,357.14 L325.25,357.16 L325.85,357.18 L326.46,357.21 L327.07,357.23 L327.67,357.25 L328.28,357.28 L328.89,357.30 L329.49,357.32 L330.10,357.34 L330.70,357.37 L331.31,357.39 L331.92,357.41 L332.52,357.44 L333.13,357.46 L333.74,357.48 L334.34,357.51 L334.95,357.53 L335.56,357.55 L336.16,357.57 L336.77,357.60 L337.38,357.62 L337.98,357.64 L338.59,357.67 L339.20,357.69 L339.80,357.71 L340.41,357.74 L341.02,357.76 L341.62,357.78 L342.23,357.80 L342.84,357.83 L343.44,357.85 L344.05,357.87 L344.66,357.90 L345.26,357.92 L345.87,357.94 L346.48,357.97 L347.08,357.99 L347.69,358.01 L348.30,358.03 L348.90,358.06 L349.51,358.08 L350.11,358.10 L350.72,358.13 L351.33,358.15 L351.93,358.17 L352.54,358.19 L353.15,358.22 L353.75,358.24 L354.36,358.26 L354.97,358.29 L355.57,358.31 L356.18,358.33 L356.79,358.35 L357.39,358.38 L358.00,358.40 L358.60,358.42 L359.21,358.45 L359.81,358.47 L360.42,358.49 L361.02,358.51 L361.63,358.54 L362.23,358.56 L362.84,358.58 L363.44,358.60 L364.05,358.63 L364.65,358.65 L365.26,358.67 L365.86,358.69 L366.47,358.72 L367.07,358.74 L367.68,358.76 L368.28,358.79 L368.89,358.81 L369.49,358.83 L370.10,358.85 L370.70,358.88 L371.31,358.90 L371.91,358.92 L372.52,358.94 L373.12,358.97 L373.73,358.99 L374.33,359.01 L374.94,359.03 L375.54,359.06 L376.15,359.08 L376.75,359.10 L377.35,359.12 L377.96,359.15 L378.56,359.17 L379.17,359.19 L379.77,359.21 L380.38,359.24 L380.98,359.26 L381.59,359.28 L382.19,359.30 L382.80,359.33 L383.40,359.35 L384.01,359.37 L384.61,359.39 L385.22,359.42 L385.82,359.44 L386.43,359.46 L387.03,359.48 L387.64,359.51 L388.24,359.53 L388.85,359.55 L389.45,359.57 L390.06,359.60 L390.66,359.62 L391.27,359.64 L391.87,359.66 L392.48,359.69 L393.08,359.71 L393.69,359.73 L394.29,359.75 L394.90,359.78 L395.50,359.80" fill="none" stroke="#1b5a36" stroke-width="2.0" stroke-linejoin="round" stroke-linecap="round" opacity="1"/>
<path d="M248.30,390.30 L248.97,388.49 L249.64,386.64 L250.31,384.78 L250.99,382.93 L251.66,381.15 L252.33,379.46 L253.00,377.90 L253.60,376.59 L254.20,375.33 L254.80,374.11 L255.40,372.93 L256.00,371.79 L256.60,370.68 L257.20,369.61 L257.80,368.58 L258.40,367.57 L259.00,366.60 L259.66,365.56 L260.31,364.54 L260.97,363.54 L261.62,362.58 L262.28,361.65 L262.93,360.76 L263.59,359.92 L264.24,359.13 L264.90,358.40 L265.50,357.77 L266.10,357.17 L266.70,356.60 L267.30,356.05 L267.90,355.52 L268.50,355.02 L269.10,354.54 L269.70,354.07 L270.30,353.63 L270.90,353.20 L271.51,352.78 L272.11,352.37 L272.72,351.97 L273.33,351.58 L273.93,351.20 L274.54,350.83 L275.15,350.47 L275.75,350.12 L276.36,349.79 L276.97,349.46 L277.57,349.14 L278.18,348.84 L278.79,348.55 L279.39,348.27 L280.00,348.00 L280.62,347.74 L281.25,347.49 L281.88,347.25 L282.50,347.03 L283.12,346.81 L283.75,346.60 L284.38,346.40 L285.00,346.20 L285.62,346.00 L286.25,345.80 L286.88,345.60 L287.50,345.40 L288.12,345.21 L288.75,345.02 L289.38,344.83 L290.00,344.64 L290.62,344.47 L291.25,344.29 L291.88,344.12 L292.50,343.96 L293.12,343.81 L293.75,343.66 L294.38,343.53 L295.00,343.40 L295.62,343.28 L296.25,343.16 L296.88,343.04 L297.50,342.92 L298.12,342.81 L298.75,342.69 L299.38,342.59 L300.00,342.48 L300.62,342.39 L301.25,342.30 L301.88,342.21 L302.50,342.13 L303.12,342.06 L303.75,342.00 L304.38,341.94 L305.00,341.90 L305.62,341.86 L306.23,341.83 L306.85,341.79 L307.46,341.76 L308.08,341.73 L308.69,341.71 L309.31,341.68 L309.92,341.66 L310.54,341.63 L311.15,341.61 L311.77,341.59 L312.38,341.57 L313.00,341.55 L313.62,341.53 L314.23,341.51 L314.85,341.49 L315.46,341.48 L316.08,341.46 L316.69,341.44 L317.31,341.42 L317.92,341.40 L318.54,341.38 L319.15,341.36 L319.77,341.34 L320.38,341.32 L321.00,341.30" fill="none" stroke="#1f7db6" stroke-width="2.0" stroke-linejoin="round" stroke-linecap="round" opacity="1"/>
<path d="M321.00,341.30 L321.61,341.30 L322.21,341.30 L322.82,341.30 L323.43,341.31 L324.03,341.31 L324.64,341.31 L325.25,341.31 L325.85,341.31 L326.46,341.31 L327.07,341.32 L327.67,341.32 L328.28,341.32 L328.89,341.32 L329.49,341.32 L330.10,341.32 L330.70,341.32 L331.31,341.33 L331.92,341.33 L332.52,341.33 L333.13,341.33 L333.74,341.33 L334.34,341.33 L334.95,341.33 L335.56,341.34 L336.16,341.34 L336.77,341.34 L337.38,341.34 L337.98,341.34 L338.59,341.34 L339.20,341.35 L339.80,341.35 L340.41,341.35 L341.02,341.35 L341.62,341.35 L342.23,341.35 L342.84,341.35 L343.44,341.36 L344.05,341.36 L344.66,341.36 L345.26,341.36 L345.87,341.36 L346.48,341.36 L347.08,341.37 L347.69,341.37 L348.30,341.37 L348.90,341.37 L349.51,341.37 L350.11,341.37 L350.72,341.38 L351.33,341.38 L351.93,341.38 L352.54,341.38 L353.15,341.38 L353.75,341.39 L354.36,341.39 L354.97,341.39 L355.57,341.39 L356.18,341.39 L356.79,341.40 L357.39,341.40 L358.00,341.40 L358.60,341.40 L359.21,341.40 L359.81,341.41 L360.42,341.41 L361.02,341.41 L361.63,341.41 L362.23,341.42 L362.84,341.42 L363.44,341.42 L364.05,341.42 L364.65,341.43 L365.26,341.43 L365.86,341.43 L366.47,341.44 L367.07,341.44 L367.68,341.44 L368.28,341.45 L368.89,341.45 L369.49,341.45 L370.10,341.45 L370.70,341.46 L371.31,341.46 L371.91,341.46 L372.52,341.47 L373.12,341.47 L373.73,341.47 L374.33,341.48 L374.94,341.48 L375.54,341.48 L376.15,341.49 L376.75,341.49 L377.35,341.50 L377.96,341.50 L378.56,341.50 L379.17,341.51 L379.77,341.51 L380.38,341.51 L380.98,341.52 L381.59,341.52 L382.19,341.52 L382.80,341.53 L383.40,341.53 L384.01,341.53 L384.61,341.54 L385.22,341.54 L385.82,341.55 L386.43,341.55 L387.03,341.55 L387.64,341.56 L388.24,341.56 L388.85,341.56 L389.45,341.57 L390.06,341.57 L390.66,341.57 L391.27,341.58 L391.87,341.58 L392.48,341.58 L393.08,341.59 L393.69,341.59 L394.29,341.59 L394.90,341.60 L395.50,341.60" fill="none" stroke="#1f7db6" stroke-width="2.0" stroke-linejoin="round" stroke-linecap="round" opacity="1"/>
<path d="M247.30,391.30 L247.98,387.42 L248.65,383.44 L249.32,379.66 L250.00,376.40 L250.60,373.94 L251.20,371.69 L251.80,369.62 L252.40,367.70 L253.00,365.90 L253.60,364.21 L254.20,362.64 L254.80,361.16 L255.40,359.75 L256.00,358.40 L256.60,357.08 L257.20,355.80 L257.80,354.57 L258.40,353.43 L259.00,352.40 L259.63,351.41 L260.26,350.48 L260.89,349.61 L261.51,348.78 L262.14,347.99 L262.77,347.23 L263.40,346.50 L264.04,345.77 L264.69,345.06 L265.33,344.38 L265.97,343.72 L266.61,343.11 L267.26,342.53 L267.90,342.00 L268.50,341.54 L269.10,341.09 L269.70,340.65 L270.30,340.23 L270.90,339.84 L271.50,339.46 L272.10,339.11 L272.70,338.78 L273.30,338.47 L273.90,338.20 L274.51,337.95 L275.12,337.72 L275.73,337.50 L276.34,337.31 L276.95,337.12 L277.56,336.94 L278.17,336.76 L278.78,336.58 L279.39,336.39 L280.00,336.20 L280.62,335.99 L281.25,335.77 L281.88,335.54 L282.50,335.31 L283.12,335.10 L283.75,334.90 L284.38,334.73 L285.00,334.60 L285.62,334.49 L286.25,334.38 L286.88,334.28 L287.50,334.19 L288.12,334.10 L288.75,334.01 L289.38,333.93 L290.00,333.86 L290.62,333.79 L291.25,333.72 L291.88,333.66 L292.50,333.60 L293.12,333.55 L293.75,333.49 L294.38,333.45 L295.00,333.40 L295.62,333.36 L296.25,333.32 L296.88,333.28 L297.50,333.24 L298.12,333.21 L298.75,333.18 L299.38,333.15 L300.00,333.12 L300.62,333.09 L301.25,333.06 L301.88,333.03 L302.50,333.01 L303.12,332.98 L303.75,332.95 L304.38,332.93 L305.00,332.90 L305.62,332.87 L306.23,332.85 L306.85,332.82 L307.46,332.80 L308.08,332.77 L308.69,332.75 L309.31,332.73 L309.92,332.70 L310.54,332.68 L311.15,332.66 L311.77,332.63 L312.38,332.61 L313.00,332.59 L313.62,332.57 L314.23,332.54 L314.85,332.52 L315.46,332.50 L316.08,332.48 L316.69,332.46 L317.31,332.43 L317.92,332.41 L318.54,332.39 L319.15,332.37 L319.77,332.35 L320.38,332.32 L321.00,332.30" fill="none" stroke="#2cd4b5" stroke-width="2.0" stroke-linejoin="round" stroke-linecap="round" opacity="1"/>
<path d="M321.00,332.30 L321.61,332.30 L322.21,332.30 L322.82,332.31 L323.43,332.31 L324.03,332.31 L324.64,332.31 L325.25,332.31 L325.85,332.31 L326.46,332.32 L327.07,332.32 L327.67,332.32 L328.28,332.32 L328.89,332.32 L329.49,332.33 L330.10,332.33 L330.70,332.33 L331.31,332.33 L331.92,332.34 L332.52,332.34 L333.13,332.34 L333.74,332.34 L334.34,332.34 L334.95,332.35 L335.56,332.35 L336.16,332.35 L336.77,332.35 L337.38,332.36 L337.98,332.36 L338.59,332.36 L339.20,332.36 L339.80,332.36 L340.41,332.37 L341.02,332.37 L341.62,332.37 L342.23,332.37 L342.84,332.37 L343.44,332.38 L344.05,332.38 L344.66,332.38 L345.26,332.38 L345.87,332.38 L346.48,332.38 L347.08,332.39 L347.69,332.39 L348.30,332.39 L348.90,332.39 L349.51,332.39 L350.11,332.39 L350.72,332.39 L351.33,332.39 L351.93,332.40 L352.54,332.40 L353.15,332.40 L353.75,332.40 L354.36,332.40 L354.97,332.40 L355.57,332.40 L356.18,332.40 L356.79,332.40 L357.39,332.40 L358.00,332.40 L358.60,332.40 L359.21,332.40 L359.81,332.40 L360.42,332.40 L361.02,332.40 L361.63,332.40 L362.23,332.40 L362.84,332.40 L363.44,332.40 L364.05,332.40 L364.65,332.40 L365.26,332.40 L365.86,332.40 L366.47,332.40 L367.07,332.40 L367.68,332.40 L368.28,332.40 L368.89,332.40 L369.49,332.40 L370.10,332.40 L370.70,332.40 L371.31,332.40 L371.91,332.40 L372.52,332.40 L373.12,332.40 L373.73,332.40 L374.33,332.40 L374.94,332.40 L375.54,332.40 L376.15,332.40 L376.75,332.40 L377.35,332.40 L377.96,332.40 L378.56,332.40 L379.17,332.40 L379.77,332.40 L380.38,332.40 L380.98,332.40 L381.59,332.40 L382.19,332.40 L382.80,332.40 L383.40,332.40 L384.01,332.40 L384.61,332.40 L385.22,332.40 L385.82,332.40 L386.43,332.40 L387.03,332.40 L387.64,332.40 L388.24,332.40 L388.85,332.40 L389.45,332.40 L390.06,332.40 L390.66,332.40 L391.27,332.40 L391.87,332.40 L392.48,332.40 L393.08,332.40 L393.69,332.40 L394.29,332.40 L394.90,332.40 L395.50,332.40" fill="none" stroke="#2cd4b5" stroke-width="2.0" stroke-linejoin="round" stroke-linecap="round" opacity="1"/>
<line x1="320.7" y1="304.8" x2="320.7" y2="397.7" stroke="#555" stroke-width="0.65" stroke-dasharray="1.3,1.3"/>
<rect x="245.50" y="304.50" width="150.00" height="93.00" fill="none" stroke="#808080" stroke-width="1"/>
<text transform="translate(244.30,372.94) scale(0.92,1)" font-size="9.4" text-anchor="end" font-weight="normal" fill="#222" stroke="#222" stroke-width="0.3" >0.2</text>
<text transform="translate(244.30,345.58) scale(0.92,1)" font-size="9.4" text-anchor="end" font-weight="normal" fill="#222" stroke="#222" stroke-width="0.3" >0.4</text>
<text transform="translate(244.30,318.22) scale(0.92,1)" font-size="9.4" text-anchor="end" font-weight="normal" fill="#222" stroke="#222" stroke-width="0.3" >0.6</text>
<text transform="translate(246.50,405.60) scale(0.92,1)" font-size="9.4" text-anchor="middle" font-weight="normal" fill="#222" stroke="#222" stroke-width="0.3" >0</text>
<text transform="translate(287.50,405.60) scale(0.92,1)" font-size="9.4" text-anchor="middle" font-weight="normal" fill="#222" stroke="#222" stroke-width="0.3" >100</text>
<text transform="translate(328.50,405.60) scale(0.92,1)" font-size="9.4" text-anchor="middle" font-weight="normal" fill="#222" stroke="#222" stroke-width="0.3" >200</text>
<text transform="translate(369.50,405.60) scale(0.92,1)" font-size="9.4" text-anchor="middle" font-weight="normal" fill="#222" stroke="#222" stroke-width="0.3" >300</text>
<text transform="translate(320.50,417.30) scale(0.92,1)" font-size="9.5" text-anchor="middle" font-weight="normal" fill="#222" stroke="#222" stroke-width="0.3" >Time (sec)</text>
<text font-size="9.5" text-anchor="middle" fill="#222" stroke="#222" stroke-width="0.3" transform="translate(225.60,351.20) rotate(-90) scale(0.92,1)">Shift (nm)</text>
<text transform="translate(320.50,300.00) scale(0.96,1)" font-size="12" text-anchor="middle" font-weight="normal" fill="#222" stroke="#222" stroke-width="0.3" >ACE2</text>
<text transform="translate(209.50,292.40) scale(1.0,1)" font-size="12" text-anchor="start" font-weight="bold" fill="#000" >h</text>
<rect x="398.60" y="323.30" width="59.90" height="56.10" rx="0.8" fill="#fff" stroke="#e4e4e4" stroke-width="0.8"/>
<line x1="400.70" y1="329.00" x2="407.10" y2="329.00" stroke="#1b5a36" stroke-width="1.6"/>
<text transform="translate(409.20,332.15) scale(0.94,1)" font-size="9.25" text-anchor="start" font-weight="normal" fill="#222" stroke="#222" stroke-width="0.3" >Spk-M</text>
<line x1="400.70" y1="340.30" x2="407.10" y2="340.30" stroke="#3ba83a" stroke-width="1.6"/>
<text transform="translate(409.20,343.45) scale(0.94,1)" font-size="9.25" text-anchor="start" font-weight="normal" fill="#222" stroke="#222" stroke-width="0.3" >Spk-R</text>
<line x1="400.70" y1="351.60" x2="407.10" y2="351.60" stroke="#d6d81f" stroke-width="1.6"/>
<text transform="translate(409.20,354.75) scale(0.94,1)" font-size="9.25" text-anchor="start" font-weight="normal" fill="#222" stroke="#222" stroke-width="0.3" >Spk-F</text>
<line x1="400.70" y1="362.90" x2="407.10" y2="362.90" stroke="#2cd4b5" stroke-width="1.6"/>
<text transform="translate(409.20,366.05) scale(0.94,1)" font-size="9.25" text-anchor="start" font-weight="normal" fill="#222" stroke="#222" stroke-width="0.3" >S-2P</text>
<line x1="400.70" y1="374.20" x2="407.10" y2="374.20" stroke="#1f7db6" stroke-width="1.6"/>
<text transform="translate(409.20,377.35) scale(0.94,1)" font-size="9.25" text-anchor="start" font-weight="normal" fill="#222" stroke="#222" stroke-width="0.3" >HexaPro</text>
<line x1="513.7" y1="338.3" x2="620.3" y2="338.3" stroke="#555" stroke-width="0.65" stroke-dasharray="1.3,1.3"/>
<path d="M513.90,333.00 C514.00,332.42 513.48,330.08 514.50,329.50 C515.52,328.92 517.42,328.92 520.00,329.50 C522.58,330.08 526.67,331.62 530.00,333.00 C533.33,334.38 536.67,336.72 540.00,337.80 C543.33,338.88 546.67,339.38 550.00,339.50 C553.33,339.62 557.33,338.33 560.00,338.50 C562.67,338.67 564.13,339.70 566.00,340.50 C567.87,341.30 569.53,343.22 571.20,343.30 C572.87,343.38 574.03,341.88 576.00,341.00 C577.97,340.12 580.33,338.87 583.00,338.00 C585.67,337.13 589.17,336.40 592.00,335.80 C594.83,335.20 597.00,334.63 600.00,334.40 C603.00,334.17 607.33,334.02 610.00,334.40 C612.67,334.78 614.30,336.57 616.00,336.70 C617.70,336.83 619.50,335.45 620.20,335.20" fill="none" stroke="#1b5a36" stroke-width="2.0" stroke-linejoin="round" stroke-linecap="round" opacity="1"/>
<path d="M513.90,332.00 C514.00,330.87 513.15,326.28 514.50,325.20 C515.85,324.12 519.42,324.70 522.00,325.50 C524.58,326.30 527.50,327.92 530.00,330.00 C532.50,332.08 534.83,335.67 537.00,338.00 C539.17,340.33 540.97,342.28 543.00,344.00 C545.03,345.72 547.37,348.13 549.20,348.30 C551.03,348.47 552.33,346.17 554.00,345.00 C555.67,343.83 557.53,340.97 559.20,341.30 C560.87,341.63 562.00,344.05 564.00,347.00 C566.00,349.95 569.37,357.83 571.20,359.00 C573.03,360.17 573.47,357.45 575.00,354.00 C576.53,350.55 577.90,341.63 580.40,338.30 C582.90,334.97 586.73,335.05 590.00,334.00 C593.27,332.95 596.67,332.73 600.00,332.00 C603.33,331.27 606.63,330.40 610.00,329.60 C613.37,328.80 618.50,327.60 620.20,327.20" fill="none" stroke="#3ba83a" stroke-width="2.0" stroke-linejoin="round" stroke-linecap="round" opacity="1"/>
<path d="M513.90,332.00 C514.00,330.58 513.07,324.92 514.50,323.50 C515.93,322.08 519.58,322.50 522.50,323.50 C525.42,324.50 528.25,327.17 532.00,329.50 C535.75,331.83 541.17,336.00 545.00,337.50 C548.83,339.00 552.17,338.08 555.00,338.50 C557.83,338.92 559.83,338.75 562.00,340.00 C564.17,341.25 566.03,344.13 568.00,346.00 C569.97,347.87 572.13,351.37 573.80,351.20 C575.47,351.03 576.63,347.20 578.00,345.00 C579.37,342.80 579.67,339.53 582.00,338.00 C584.33,336.47 589.00,336.35 592.00,335.80 C595.00,335.25 597.00,335.10 600.00,334.70 C603.00,334.30 606.63,333.85 610.00,333.40 C613.37,332.95 618.50,332.23 620.20,332.00" fill="none" stroke="#d6d81f" stroke-width="2.0" stroke-linejoin="round" stroke-linecap="round" opacity="1"/>
<path d="M513.90,311.00 C514.33,311.03 515.48,310.95 516.50,311.20 C517.52,311.45 518.58,311.53 520.00,312.50 C521.42,313.47 523.33,314.92 525.00,317.00 C526.67,319.08 527.37,321.45 530.00,325.00 C532.63,328.55 538.38,333.80 540.80,338.30 C543.22,342.80 543.38,347.97 544.50,352.00 C545.62,356.03 546.58,362.00 547.50,362.50 C548.42,363.00 549.17,358.20 550.00,355.00 C550.83,351.80 551.50,346.80 552.50,343.30 C553.50,339.80 554.88,335.93 556.00,334.00 C557.12,332.07 557.70,331.70 559.20,331.70 C560.70,331.70 563.00,332.72 565.00,334.00 C567.00,335.28 569.03,338.90 571.20,339.40 C573.37,339.90 574.95,338.08 578.00,337.00 C581.05,335.92 585.83,333.82 589.50,332.90 C593.17,331.98 596.58,331.95 600.00,331.50 C603.42,331.05 606.63,330.62 610.00,330.20 C613.37,329.78 618.50,329.20 620.20,329.00" fill="none" stroke="#2cd4b5" stroke-width="2.0" stroke-linejoin="round" stroke-linecap="round" opacity="1"/>
<path d="M513.90,306.70 C514.25,306.92 515.23,307.95 516.00,308.00 C516.77,308.05 517.62,307.42 518.50,307.00 C519.38,306.58 520.22,305.17 521.30,305.50 C522.38,305.83 523.05,305.75 525.00,309.00 C526.95,312.25 530.50,320.12 533.00,325.00 C535.50,329.88 538.00,333.80 540.00,338.30 C542.00,342.80 543.67,348.93 545.00,352.00 C546.33,355.07 546.67,354.82 548.00,356.70 C549.33,358.58 551.50,362.58 553.00,363.30 C554.50,364.02 555.55,361.97 557.00,361.00 C558.45,360.03 560.20,356.00 561.70,357.50 C563.20,359.00 564.62,364.58 566.00,370.00 C567.38,375.42 568.92,385.52 570.00,390.00 C571.08,394.48 571.67,396.90 572.50,396.90 C573.33,396.90 574.08,396.15 575.00,390.00 C575.92,383.85 576.98,368.67 578.00,360.00 C579.02,351.33 580.18,344.67 581.10,338.00 C582.02,331.33 582.75,323.90 583.50,320.00 C584.25,316.10 584.17,315.77 585.60,314.60 C587.03,313.43 589.70,313.20 592.10,313.00 C594.50,312.80 597.35,313.02 600.00,313.40 C602.65,313.78 605.50,315.30 608.00,315.30 C610.50,315.30 613.28,313.95 615.00,313.40 C616.72,312.85 617.53,312.52 618.30,312.00 C619.07,311.48 619.38,310.58 619.60,310.30" fill="none" stroke="#1f7db6" stroke-width="2.0" stroke-linejoin="round" stroke-linecap="round" opacity="1"/>
<path d="M619.60,310.30 L620.20,325.50" fill="none" stroke="#1f7db6" stroke-width="2.0" stroke-linejoin="round" stroke-linecap="round" opacity="1"/>
<rect x="513.50" y="304.50" width="107.00" height="94.00" fill="none" stroke="#808080" stroke-width="1"/>
<text transform="translate(512.80,324.98) scale(0.92,1)" font-size="9.4" text-anchor="end" font-weight="normal" fill="#222" stroke="#222" stroke-width="0.3" >200</text>
<text transform="translate(512.80,358.82) scale(0.92,1)" font-size="9.4" text-anchor="end" font-weight="normal" fill="#222" stroke="#222" stroke-width="0.3" >-200</text>
<text transform="translate(512.80,392.66) scale(0.92,1)" font-size="9.4" text-anchor="end" font-weight="normal" fill="#222" stroke="#222" stroke-width="0.3" >-600</text>
<text transform="translate(521.60,406.10) scale(0.92,1)" font-size="9.4" text-anchor="middle" font-weight="normal" fill="#222" stroke="#222" stroke-width="0.3" >30</text>
<text transform="translate(554.24,406.10) scale(0.92,1)" font-size="9.4" text-anchor="middle" font-weight="normal" fill="#222" stroke="#222" stroke-width="0.3" >50</text>
<text transform="translate(586.88,406.10) scale(0.92,1)" font-size="9.4" text-anchor="middle" font-weight="normal" fill="#222" stroke="#222" stroke-width="0.3" >70</text>
<text transform="translate(619.52,406.10) scale(0.92,1)" font-size="9.4" text-anchor="middle" font-weight="normal" fill="#222" stroke="#222" stroke-width="0.3" >90</text>
<text transform="translate(567.00,416.60) scale(0.92,1)" font-size="9.5" text-anchor="middle" font-weight="normal" fill="#222" stroke="#222" stroke-width="0.3" >Temperature (ºC)</text>
<text font-size="9.5" text-anchor="middle" fill="#222" stroke="#222" stroke-width="0.3" transform="translate(490.30,351.50) rotate(-90) scale(0.92,1)">HEX derivative</text>
<text transform="translate(567.00,299.90) scale(0.96,1)" font-size="12" text-anchor="middle" font-weight="normal" fill="#222" stroke="#222" stroke-width="0.3" >SARS-CoV-2</text>
<text transform="translate(475.50,292.40) scale(1.0,1)" font-size="12" text-anchor="start" font-weight="bold" fill="#000" >i</text>
<rect x="623.60" y="323.30" width="59.50" height="56.10" rx="0.8" fill="#fff" stroke="#e4e4e4" stroke-width="0.8"/>
<line x1="626.30" y1="329.00" x2="632.70" y2="329.00" stroke="#1b5a36" stroke-width="1.6"/>
<text transform="translate(634.70,332.15) scale(0.94,1)" font-size="9.25" text-anchor="start" font-weight="normal" fill="#222" stroke="#222" stroke-width="0.3" >Spk-M</text>
<line x1="626.30" y1="340.30" x2="632.70" y2="340.30" stroke="#3ba83a" stroke-width="1.6"/>
<text transform="translate(634.70,343.45) scale(0.94,1)" font-size="9.25" text-anchor="start" font-weight="normal" fill="#222" stroke="#222" stroke-width="0.3" >Spk-R</text>
<line x1="626.30" y1="351.60" x2="632.70" y2="351.60" stroke="#d6d81f" stroke-width="1.6"/>
<text transform="translate(634.70,354.75) scale(0.94,1)" font-size="9.25" text-anchor="start" font-weight="normal" fill="#222" stroke="#222" stroke-width="0.3" >Spk-F</text>
<line x1="626.30" y1="362.90" x2="632.70" y2="362.90" stroke="#2cd4b5" stroke-width="1.6"/>
<text transform="translate(634.70,366.05) scale(0.94,1)" font-size="9.25" text-anchor="start" font-weight="normal" fill="#222" stroke="#222" stroke-width="0.3" >S-2P</text>
<line x1="626.30" y1="374.20" x2="632.70" y2="374.20" stroke="#1f7db6" stroke-width="1.6"/>
<text transform="translate(634.70,377.35) scale(0.94,1)" font-size="9.25" text-anchor="start" font-weight="normal" fill="#222" stroke="#222" stroke-width="0.3" >HexaPro</text>
</g>
</svg></body></html>
